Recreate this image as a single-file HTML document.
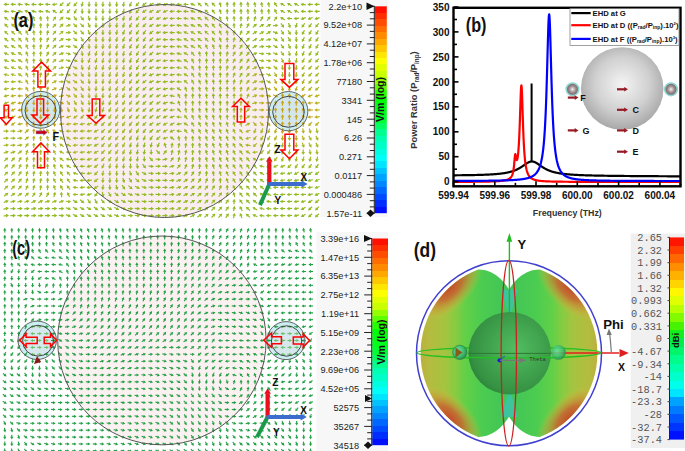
<!DOCTYPE html><html><head><meta charset="utf-8"><title>fig</title><style>html,body{margin:0;padding:0;background:#fff;width:685px;height:451px;overflow:hidden}svg{display:block}text{font-family:"Liberation Sans",sans-serif}.mono{font-family:"Liberation Mono",monospace}</style></head><body><svg width="685" height="451" viewBox="0 0 685 451"><defs><symbol id="ar" overflow="visible"><path d="M-2.7 0H0.3" stroke-width="1.2" fill="none"/><path d="M2.8 0L-0.2-1.8V1.8Z" stroke="none"/></symbol><symbol id="ac" overflow="visible"><path d="M-2.4 0H0" stroke-width="1.1" fill="none"/><path d="M2.3 0L-0.4-1.6V1.6Z" stroke="none"/></symbol><linearGradient id="cbA" x1="0" y1="0" x2="0" y2="1"><stop offset="0.0000" stop-color="#ff0f00"/><stop offset="0.0312" stop-color="#ff0f00"/><stop offset="0.0312" stop-color="#ff2e00"/><stop offset="0.0625" stop-color="#ff2e00"/><stop offset="0.0625" stop-color="#ff4d00"/><stop offset="0.0938" stop-color="#ff4d00"/><stop offset="0.0938" stop-color="#ff6c00"/><stop offset="0.1250" stop-color="#ff6c00"/><stop offset="0.1250" stop-color="#ff8a00"/><stop offset="0.1562" stop-color="#ff8a00"/><stop offset="0.1562" stop-color="#ffa900"/><stop offset="0.1875" stop-color="#ffa900"/><stop offset="0.1875" stop-color="#ffc700"/><stop offset="0.2188" stop-color="#ffc700"/><stop offset="0.2188" stop-color="#ffe600"/><stop offset="0.2500" stop-color="#ffe600"/><stop offset="0.2500" stop-color="#fbff00"/><stop offset="0.2812" stop-color="#fbff00"/><stop offset="0.2812" stop-color="#e2ff00"/><stop offset="0.3125" stop-color="#e2ff00"/><stop offset="0.3125" stop-color="#c9ff00"/><stop offset="0.3438" stop-color="#c9ff00"/><stop offset="0.3438" stop-color="#94ff00"/><stop offset="0.3750" stop-color="#94ff00"/><stop offset="0.3750" stop-color="#5eff00"/><stop offset="0.4062" stop-color="#5eff00"/><stop offset="0.4062" stop-color="#27ff00"/><stop offset="0.4375" stop-color="#27ff00"/><stop offset="0.4375" stop-color="#00ff04"/><stop offset="0.4688" stop-color="#00ff04"/><stop offset="0.4688" stop-color="#00ff11"/><stop offset="0.5000" stop-color="#00ff11"/><stop offset="0.5000" stop-color="#00ff1e"/><stop offset="0.5312" stop-color="#00ff1e"/><stop offset="0.5312" stop-color="#00ff32"/><stop offset="0.5625" stop-color="#00ff32"/><stop offset="0.5625" stop-color="#00ff61"/><stop offset="0.5938" stop-color="#00ff61"/><stop offset="0.5938" stop-color="#00ff90"/><stop offset="0.6250" stop-color="#00ff90"/><stop offset="0.6250" stop-color="#00ffb0"/><stop offset="0.6562" stop-color="#00ffb0"/><stop offset="0.6562" stop-color="#00ffc8"/><stop offset="0.6875" stop-color="#00ffc8"/><stop offset="0.6875" stop-color="#00ffe0"/><stop offset="0.7188" stop-color="#00ffe0"/><stop offset="0.7188" stop-color="#00fff8"/><stop offset="0.7500" stop-color="#00fff8"/><stop offset="0.7500" stop-color="#00e5ff"/><stop offset="0.7812" stop-color="#00e5ff"/><stop offset="0.7812" stop-color="#00c2ff"/><stop offset="0.8125" stop-color="#00c2ff"/><stop offset="0.8125" stop-color="#00a3ff"/><stop offset="0.8438" stop-color="#00a3ff"/><stop offset="0.8438" stop-color="#0086ff"/><stop offset="0.8750" stop-color="#0086ff"/><stop offset="0.8750" stop-color="#0068ff"/><stop offset="0.9062" stop-color="#0068ff"/><stop offset="0.9062" stop-color="#004aff"/><stop offset="0.9375" stop-color="#004aff"/><stop offset="0.9375" stop-color="#002dff"/><stop offset="0.9688" stop-color="#002dff"/><stop offset="0.9688" stop-color="#000fff"/><stop offset="1.0000" stop-color="#000fff"/></linearGradient><linearGradient id="cbD" x1="0" y1="0" x2="0" y2="1"><stop offset="0.0000" stop-color="#ff1500"/><stop offset="0.0417" stop-color="#ff1500"/><stop offset="0.0417" stop-color="#ff3e00"/><stop offset="0.0833" stop-color="#ff3e00"/><stop offset="0.0833" stop-color="#ff6700"/><stop offset="0.1250" stop-color="#ff6700"/><stop offset="0.1250" stop-color="#ff8d00"/><stop offset="0.1667" stop-color="#ff8d00"/><stop offset="0.1667" stop-color="#ffb100"/><stop offset="0.2083" stop-color="#ffb100"/><stop offset="0.2083" stop-color="#ffd400"/><stop offset="0.2500" stop-color="#ffd400"/><stop offset="0.2500" stop-color="#fff700"/><stop offset="0.2917" stop-color="#fff700"/><stop offset="0.2917" stop-color="#e1ff00"/><stop offset="0.3333" stop-color="#e1ff00"/><stop offset="0.3333" stop-color="#b9ff00"/><stop offset="0.3750" stop-color="#b9ff00"/><stop offset="0.3750" stop-color="#82fa00"/><stop offset="0.4167" stop-color="#82fa00"/><stop offset="0.4167" stop-color="#47f300"/><stop offset="0.4583" stop-color="#47f300"/><stop offset="0.4583" stop-color="#15ee1d"/><stop offset="0.5000" stop-color="#15ee1d"/><stop offset="0.5000" stop-color="#00ee4c"/><stop offset="0.5417" stop-color="#00ee4c"/><stop offset="0.5417" stop-color="#00f56b"/><stop offset="0.5833" stop-color="#00f56b"/><stop offset="0.5833" stop-color="#00fc8a"/><stop offset="0.6250" stop-color="#00fc8a"/><stop offset="0.6250" stop-color="#00ffaa"/><stop offset="0.6667" stop-color="#00ffaa"/><stop offset="0.6667" stop-color="#00ffca"/><stop offset="0.7083" stop-color="#00ffca"/><stop offset="0.7083" stop-color="#00ffeb"/><stop offset="0.7500" stop-color="#00ffeb"/><stop offset="0.7500" stop-color="#00e5ff"/><stop offset="0.7917" stop-color="#00e5ff"/><stop offset="0.7917" stop-color="#00a2ff"/><stop offset="0.8333" stop-color="#00a2ff"/><stop offset="0.8333" stop-color="#007aff"/><stop offset="0.8750" stop-color="#007aff"/><stop offset="0.8750" stop-color="#0057ff"/><stop offset="0.9167" stop-color="#0057ff"/><stop offset="0.9167" stop-color="#0034ff"/><stop offset="0.9583" stop-color="#0034ff"/><stop offset="0.9583" stop-color="#0011ff"/><stop offset="1.0000" stop-color="#0011ff"/></linearGradient><radialGradient id="sph" cx="0.5" cy="0.45" r="0.55"><stop offset="0" stop-color="#f4f4f4"/><stop offset="0.6" stop-color="#d0d0d0"/><stop offset="1" stop-color="#a8a8a8"/></radialGradient><radialGradient id="sm" cx="0.5" cy="0.5" r="0.5"><stop offset="0" stop-color="#f0f0f0"/><stop offset="0.5" stop-color="#a09090"/><stop offset="1" stop-color="#6a5a5a"/></radialGradient><radialGradient id="gs" cx="0.58" cy="0.45" r="0.62"><stop offset="0" stop-color="#52be62"/><stop offset="0.45" stop-color="#43a650"/><stop offset="0.85" stop-color="#359243"/><stop offset="1" stop-color="#2c8239"/></radialGradient></defs><rect x="320.5" y="0" width="67.5" height="217" fill="#f7f7f7"/><ellipse cx="164.5" cy="111.0" rx="104.0" ry="106.5" fill="#faedf0"/><ellipse cx="40.7" cy="109.8" rx="19.1" ry="18.4" fill="#cbeef3"/><ellipse cx="40.5" cy="110.5" rx="15.5" ry="14.9" fill="#d3e6ec"/><ellipse cx="288.5" cy="111.2" rx="19.35" ry="19.65" fill="#cbeef3"/><ellipse cx="288.5" cy="111.8" rx="15.8" ry="15.5" fill="#d3e6ec"/><g fill="#92ba20" stroke="#92ba20"><use href="#ar" transform="translate(6.2 4.4)rotate(-179)"/><use href="#ar" transform="translate(13.1 4.4)rotate(-179)"/><use href="#ar" transform="translate(20 4.4)rotate(-173)"/><use href="#ar" transform="translate(26.9 4.4)rotate(-169)"/><use href="#ar" transform="translate(33.8 4.4)rotate(-177)"/><use href="#ar" transform="translate(40.7 4.4)rotate(-180)"/><use href="#ar" transform="translate(47.6 4.4)rotate(-178)"/><use href="#ar" transform="translate(54.5 4.4)rotate(168)"/><use href="#ar" transform="translate(61.5 4.4)rotate(136)"/><use href="#ar" transform="translate(68.4 4.4)rotate(135)"/><use href="#ar" transform="translate(75.3 4.4)rotate(131)"/><use href="#ar" transform="translate(82.2 4.4)rotate(105)"/><use href="#ar" transform="translate(89.1 4.4)rotate(91)"/><use href="#ar" transform="translate(96 4.4)rotate(90)"/><use href="#ar" transform="translate(102.9 4.4)rotate(90)"/><use href="#ar" transform="translate(109.8 4.4)rotate(90)"/><use href="#ar" transform="translate(116.7 4.4)rotate(91)"/><use href="#ar" transform="translate(123.6 4.4)rotate(98)"/><use href="#ar" transform="translate(130.5 4.4)rotate(112)"/><use href="#ar" transform="translate(137.4 4.4)rotate(130)"/><use href="#ar" transform="translate(144.3 4.4)rotate(145)"/><use href="#ar" transform="translate(151.2 4.4)rotate(150)"/><use href="#ar" transform="translate(158.2 4.4)rotate(150)"/><use href="#ar" transform="translate(165.1 4.4)rotate(153)"/><use href="#ar" transform="translate(172 4.4)rotate(173)"/><use href="#ar" transform="translate(178.9 4.4)rotate(180)"/><use href="#ar" transform="translate(185.8 4.4)rotate(-178)"/><use href="#ar" transform="translate(192.7 4.4)rotate(-158)"/><use href="#ar" transform="translate(199.6 4.4)rotate(-137)"/><use href="#ar" transform="translate(206.5 4.4)rotate(-135)"/><use href="#ar" transform="translate(213.4 4.4)rotate(-130)"/><use href="#ar" transform="translate(220.3 4.4)rotate(-103)"/><use href="#ar" transform="translate(227.2 4.4)rotate(-91)"/><use href="#ar" transform="translate(234.1 4.4)rotate(-91)"/><use href="#ar" transform="translate(241 4.4)rotate(-94)"/><use href="#ar" transform="translate(247.9 4.4)rotate(-97)"/><use href="#ar" transform="translate(254.9 4.4)rotate(-100)"/><use href="#ar" transform="translate(261.8 4.4)rotate(-100)"/><use href="#ar" transform="translate(268.7 4.4)rotate(-102)"/><use href="#ar" transform="translate(275.6 4.4)rotate(-125)"/><use href="#ar" transform="translate(282.5 4.4)rotate(-148)"/><use href="#ar" transform="translate(289.4 4.4)rotate(-150)"/><use href="#ar" transform="translate(296.3 4.4)rotate(-152)"/><use href="#ar" transform="translate(303.2 4.4)rotate(-170)"/><use href="#ar" transform="translate(310.1 4.4)rotate(-180)"/><use href="#ar" transform="translate(317 4.4)rotate(180)"/><use href="#ar" transform="translate(6.2 11.4)rotate(-171)"/><use href="#ar" transform="translate(13.1 11.4)rotate(-172)"/><use href="#ar" transform="translate(20 11.4)rotate(-163)"/><use href="#ar" transform="translate(26.9 11.4)rotate(-156)"/><use href="#ar" transform="translate(33.8 11.4)rotate(-163)"/><use href="#ar" transform="translate(40.7 11.4)rotate(-170)"/><use href="#ar" transform="translate(47.6 11.4)rotate(-159)"/><use href="#ar" transform="translate(54.5 11.4)rotate(-143)"/><use href="#ar" transform="translate(61.5 11.4)rotate(134)"/><use href="#ar" transform="translate(68.4 11.4)rotate(129)"/><use href="#ar" transform="translate(75.3 11.4)rotate(116)"/><use href="#ar" transform="translate(82.2 11.4)rotate(89)"/><use href="#ar" transform="translate(89.1 11.4)rotate(88)"/><use href="#ar" transform="translate(96 11.4)rotate(90)"/><use href="#ar" transform="translate(102.9 11.4)rotate(90)"/><use href="#ar" transform="translate(109.8 11.4)rotate(91)"/><use href="#ar" transform="translate(116.7 11.4)rotate(93)"/><use href="#ar" transform="translate(123.6 11.4)rotate(100)"/><use href="#ar" transform="translate(130.5 11.4)rotate(113)"/><use href="#ar" transform="translate(137.4 11.4)rotate(129)"/><use href="#ar" transform="translate(144.3 11.4)rotate(143)"/><use href="#ar" transform="translate(151.2 11.4)rotate(150)"/><use href="#ar" transform="translate(158.2 11.4)rotate(153)"/><use href="#ar" transform="translate(165.1 11.4)rotate(158)"/><use href="#ar" transform="translate(172 11.4)rotate(172)"/><use href="#ar" transform="translate(178.9 11.4)rotate(180)"/><use href="#ar" transform="translate(185.8 11.4)rotate(-175)"/><use href="#ar" transform="translate(192.7 11.4)rotate(-158)"/><use href="#ar" transform="translate(199.6 11.4)rotate(-141)"/><use href="#ar" transform="translate(206.5 11.4)rotate(-136)"/><use href="#ar" transform="translate(213.4 11.4)rotate(-127)"/><use href="#ar" transform="translate(220.3 11.4)rotate(-105)"/><use href="#ar" transform="translate(227.2 11.4)rotate(-93)"/><use href="#ar" transform="translate(234.1 11.4)rotate(-92)"/><use href="#ar" transform="translate(241 11.4)rotate(-93)"/><use href="#ar" transform="translate(247.9 11.4)rotate(-94)"/><use href="#ar" transform="translate(254.9 11.4)rotate(-96)"/><use href="#ar" transform="translate(261.8 11.4)rotate(-97)"/><use href="#ar" transform="translate(268.7 11.4)rotate(-95)"/><use href="#ar" transform="translate(275.6 11.4)rotate(-115)"/><use href="#ar" transform="translate(282.5 11.4)rotate(-147)"/><use href="#ar" transform="translate(289.4 11.4)rotate(-151)"/><use href="#ar" transform="translate(296.3 11.4)rotate(-157)"/><use href="#ar" transform="translate(303.2 11.4)rotate(-175)"/><use href="#ar" transform="translate(310.1 11.4)rotate(178)"/><use href="#ar" transform="translate(317 11.4)rotate(178)"/><use href="#ar" transform="translate(6.2 18.5)rotate(-143)"/><use href="#ar" transform="translate(13.1 18.5)rotate(-142)"/><use href="#ar" transform="translate(68.4 18.5)rotate(15)"/><use href="#ar" transform="translate(75.3 18.5)rotate(55)"/><use href="#ar" transform="translate(82.2 18.5)rotate(55)"/><use href="#ar" transform="translate(89.1 18.5)rotate(75)"/><use href="#ar" transform="translate(96 18.5)rotate(88)"/><use href="#ar" transform="translate(102.9 18.5)rotate(90)"/><use href="#ar" transform="translate(109.8 18.5)rotate(92)"/><use href="#ar" transform="translate(116.7 18.5)rotate(96)"/><use href="#ar" transform="translate(123.6 18.5)rotate(104)"/><use href="#ar" transform="translate(130.5 18.5)rotate(115)"/><use href="#ar" transform="translate(137.4 18.5)rotate(127)"/><use href="#ar" transform="translate(144.3 18.5)rotate(138)"/><use href="#ar" transform="translate(151.2 18.5)rotate(149)"/><use href="#ar" transform="translate(158.2 18.5)rotate(157)"/><use href="#ar" transform="translate(165.1 18.5)rotate(165)"/><use href="#ar" transform="translate(172 18.5)rotate(175)"/><use href="#ar" transform="translate(178.9 18.5)rotate(-177)"/><use href="#ar" transform="translate(185.8 18.5)rotate(-169)"/><use href="#ar" transform="translate(192.7 18.5)rotate(-158)"/><use href="#ar" transform="translate(199.6 18.5)rotate(-146)"/><use href="#ar" transform="translate(206.5 18.5)rotate(-137)"/><use href="#ar" transform="translate(213.4 18.5)rotate(-127)"/><use href="#ar" transform="translate(220.3 18.5)rotate(-111)"/><use href="#ar" transform="translate(227.2 18.5)rotate(-99)"/><use href="#ar" transform="translate(234.1 18.5)rotate(-94)"/><use href="#ar" transform="translate(241 18.5)rotate(-89)"/><use href="#ar" transform="translate(247.9 18.5)rotate(-82)"/><use href="#ar" transform="translate(254.9 18.5)rotate(-73)"/><use href="#ar" transform="translate(261.8 18.5)rotate(-61)"/><use href="#ar" transform="translate(268.7 18.5)rotate(-53)"/><use href="#ar" transform="translate(275.6 18.5)rotate(-56)"/><use href="#ar" transform="translate(282.5 18.5)rotate(-152)"/><use href="#ar" transform="translate(289.4 18.5)rotate(-176)"/><use href="#ar" transform="translate(296.3 18.5)rotate(173)"/><use href="#ar" transform="translate(303.2 18.5)rotate(160)"/><use href="#ar" transform="translate(310.1 18.5)rotate(159)"/><use href="#ar" transform="translate(317 18.5)rotate(162)"/><use href="#ar" transform="translate(89.1 25.5)rotate(67)"/><use href="#ar" transform="translate(96 25.5)rotate(89)"/><use href="#ar" transform="translate(102.9 25.5)rotate(90)"/><use href="#ar" transform="translate(109.8 25.5)rotate(92)"/><use href="#ar" transform="translate(116.7 25.5)rotate(98)"/><use href="#ar" transform="translate(123.6 25.5)rotate(108)"/><use href="#ar" transform="translate(130.5 25.5)rotate(117)"/><use href="#ar" transform="translate(137.4 25.5)rotate(124)"/><use href="#ar" transform="translate(144.3 25.5)rotate(132)"/><use href="#ar" transform="translate(151.2 25.5)rotate(145)"/><use href="#ar" transform="translate(158.2 25.5)rotate(160)"/><use href="#ar" transform="translate(165.1 25.5)rotate(172)"/><use href="#ar" transform="translate(172 25.5)rotate(179)"/><use href="#ar" transform="translate(178.9 25.5)rotate(-172)"/><use href="#ar" transform="translate(185.8 25.5)rotate(-162)"/><use href="#ar" transform="translate(192.7 25.5)rotate(-155)"/><use href="#ar" transform="translate(199.6 25.5)rotate(-148)"/><use href="#ar" transform="translate(206.5 25.5)rotate(-140)"/><use href="#ar" transform="translate(213.4 25.5)rotate(-128)"/><use href="#ar" transform="translate(220.3 25.5)rotate(-115)"/><use href="#ar" transform="translate(227.2 25.5)rotate(-103)"/><use href="#ar" transform="translate(234.1 25.5)rotate(-93)"/><use href="#ar" transform="translate(241 25.5)rotate(-80)"/><use href="#ar" transform="translate(247.9 25.5)rotate(-62)"/><use href="#ar" transform="translate(254.9 25.5)rotate(-42)"/><use href="#ar" transform="translate(261.8 25.5)rotate(-32)"/><use href="#ar" transform="translate(268.7 25.5)rotate(-30)"/><use href="#ar" transform="translate(275.6 25.5)rotate(-4)"/><use href="#ar" transform="translate(282.5 25.5)rotate(54)"/><use href="#ar" transform="translate(289.4 25.5)rotate(70)"/><use href="#ar" transform="translate(296.3 25.5)rotate(105)"/><use href="#ar" transform="translate(303.2 25.5)rotate(124)"/><use href="#ar" transform="translate(310.1 25.5)rotate(126)"/><use href="#ar" transform="translate(317 25.5)rotate(131)"/><use href="#ar" transform="translate(96 32.6)rotate(86)"/><use href="#ar" transform="translate(102.9 32.6)rotate(90)"/><use href="#ar" transform="translate(109.8 32.6)rotate(93)"/><use href="#ar" transform="translate(116.7 32.6)rotate(101)"/><use href="#ar" transform="translate(123.6 32.6)rotate(111)"/><use href="#ar" transform="translate(130.5 32.6)rotate(119)"/><use href="#ar" transform="translate(137.4 32.6)rotate(121)"/><use href="#ar" transform="translate(144.3 32.6)rotate(124)"/><use href="#ar" transform="translate(151.2 32.6)rotate(139)"/><use href="#ar" transform="translate(158.2 32.6)rotate(164)"/><use href="#ar" transform="translate(165.1 32.6)rotate(177)"/><use href="#ar" transform="translate(172 32.6)rotate(-179)"/><use href="#ar" transform="translate(178.9 32.6)rotate(-169)"/><use href="#ar" transform="translate(185.8 32.6)rotate(-155)"/><use href="#ar" transform="translate(192.7 32.6)rotate(-151)"/><use href="#ar" transform="translate(199.6 32.6)rotate(-148)"/><use href="#ar" transform="translate(206.5 32.6)rotate(-139)"/><use href="#ar" transform="translate(213.4 32.6)rotate(-128)"/><use href="#ar" transform="translate(220.3 32.6)rotate(-114)"/><use href="#ar" transform="translate(227.2 32.6)rotate(-100)"/><use href="#ar" transform="translate(234.1 32.6)rotate(-86)"/><use href="#ar" transform="translate(241 32.6)rotate(-69)"/><use href="#ar" transform="translate(247.9 32.6)rotate(-49)"/><use href="#ar" transform="translate(254.9 32.6)rotate(-34)"/><use href="#ar" transform="translate(261.8 32.6)rotate(-30)"/><use href="#ar" transform="translate(268.7 32.6)rotate(-28)"/><use href="#ar" transform="translate(275.6 32.6)rotate(22)"/><use href="#ar" transform="translate(282.5 32.6)rotate(59)"/><use href="#ar" transform="translate(289.4 32.6)rotate(61)"/><use href="#ar" transform="translate(296.3 32.6)rotate(87)"/><use href="#ar" transform="translate(303.2 32.6)rotate(118)"/><use href="#ar" transform="translate(310.1 32.6)rotate(120)"/><use href="#ar" transform="translate(317 32.6)rotate(122)"/><use href="#ar" transform="translate(109.8 39.6)rotate(97)"/><use href="#ar" transform="translate(116.7 39.6)rotate(104)"/><use href="#ar" transform="translate(123.6 39.6)rotate(112)"/><use href="#ar" transform="translate(130.5 39.6)rotate(119)"/><use href="#ar" transform="translate(137.4 39.6)rotate(120)"/><use href="#ar" transform="translate(144.3 39.6)rotate(121)"/><use href="#ar" transform="translate(151.2 39.6)rotate(135)"/><use href="#ar" transform="translate(158.2 39.6)rotate(166)"/><use href="#ar" transform="translate(165.1 39.6)rotate(179)"/><use href="#ar" transform="translate(172 39.6)rotate(-180)"/><use href="#ar" transform="translate(178.9 39.6)rotate(-170)"/><use href="#ar" transform="translate(185.8 39.6)rotate(-151)"/><use href="#ar" transform="translate(192.7 39.6)rotate(-150)"/><use href="#ar" transform="translate(199.6 39.6)rotate(-146)"/><use href="#ar" transform="translate(206.5 39.6)rotate(-133)"/><use href="#ar" transform="translate(213.4 39.6)rotate(-121)"/><use href="#ar" transform="translate(220.3 39.6)rotate(-109)"/><use href="#ar" transform="translate(227.2 39.6)rotate(-93)"/><use href="#ar" transform="translate(234.1 39.6)rotate(-76)"/><use href="#ar" transform="translate(241 39.6)rotate(-61)"/><use href="#ar" transform="translate(247.9 39.6)rotate(-45)"/><use href="#ar" transform="translate(254.9 39.6)rotate(-32)"/><use href="#ar" transform="translate(261.8 39.6)rotate(-25)"/><use href="#ar" transform="translate(268.7 39.6)rotate(-14)"/><use href="#ar" transform="translate(275.6 39.6)rotate(34)"/><use href="#ar" transform="translate(282.5 39.6)rotate(59)"/><use href="#ar" transform="translate(289.4 39.6)rotate(62)"/><use href="#ar" transform="translate(296.3 39.6)rotate(86)"/><use href="#ar" transform="translate(303.2 39.6)rotate(116)"/><use href="#ar" transform="translate(310.1 39.6)rotate(120)"/><use href="#ar" transform="translate(317 39.6)rotate(121)"/><use href="#ar" transform="translate(116.7 46.6)rotate(104)"/><use href="#ar" transform="translate(123.6 46.6)rotate(108)"/><use href="#ar" transform="translate(130.5 46.6)rotate(116)"/><use href="#ar" transform="translate(137.4 46.6)rotate(121)"/><use href="#ar" transform="translate(144.3 46.6)rotate(123)"/><use href="#ar" transform="translate(151.2 46.6)rotate(137)"/><use href="#ar" transform="translate(158.2 46.6)rotate(164)"/><use href="#ar" transform="translate(165.1 46.6)rotate(178)"/><use href="#ar" transform="translate(172 46.6)rotate(-179)"/><use href="#ar" transform="translate(178.9 46.6)rotate(-168)"/><use href="#ar" transform="translate(185.8 46.6)rotate(-152)"/><use href="#ar" transform="translate(192.7 46.6)rotate(-148)"/><use href="#ar" transform="translate(199.6 46.6)rotate(-133)"/><use href="#ar" transform="translate(206.5 46.6)rotate(-114)"/><use href="#ar" transform="translate(213.4 46.6)rotate(-107)"/><use href="#ar" transform="translate(220.3 46.6)rotate(-100)"/><use href="#ar" transform="translate(227.2 46.6)rotate(-85)"/><use href="#ar" transform="translate(234.1 46.6)rotate(-68)"/><use href="#ar" transform="translate(241 46.6)rotate(-58)"/><use href="#ar" transform="translate(247.9 46.6)rotate(-48)"/><use href="#ar" transform="translate(254.9 46.6)rotate(-28)"/><use href="#ar" transform="translate(261.8 46.6)rotate(-9)"/><use href="#ar" transform="translate(268.7 46.6)rotate(4)"/><use href="#ar" transform="translate(275.6 46.6)rotate(29)"/><use href="#ar" transform="translate(282.5 46.6)rotate(54)"/><use href="#ar" transform="translate(289.4 46.6)rotate(68)"/><use href="#ar" transform="translate(296.3 46.6)rotate(90)"/><use href="#ar" transform="translate(303.2 46.6)rotate(111)"/><use href="#ar" transform="translate(310.1 46.6)rotate(118)"/><use href="#ar" transform="translate(317 46.6)rotate(121)"/><use href="#ar" transform="translate(123.6 53.7)rotate(102)"/><use href="#ar" transform="translate(130.5 53.7)rotate(110)"/><use href="#ar" transform="translate(137.4 53.7)rotate(120)"/><use href="#ar" transform="translate(144.3 53.7)rotate(128)"/><use href="#ar" transform="translate(151.2 53.7)rotate(142)"/><use href="#ar" transform="translate(158.2 53.7)rotate(161)"/><use href="#ar" transform="translate(165.1 53.7)rotate(175)"/><use href="#ar" transform="translate(172 53.7)rotate(-177)"/><use href="#ar" transform="translate(178.9 53.7)rotate(-166)"/><use href="#ar" transform="translate(185.8 53.7)rotate(-150)"/><use href="#ar" transform="translate(192.7 53.7)rotate(-129)"/><use href="#ar" transform="translate(199.6 53.7)rotate(-102)"/><use href="#ar" transform="translate(206.5 53.7)rotate(-94)"/><use href="#ar" transform="translate(213.4 53.7)rotate(-96)"/><use href="#ar" transform="translate(220.3 53.7)rotate(-94)"/><use href="#ar" transform="translate(227.2 53.7)rotate(-79)"/><use href="#ar" transform="translate(234.1 53.7)rotate(-64)"/><use href="#ar" transform="translate(241 53.7)rotate(-59)"/><use href="#ar" transform="translate(247.9 53.7)rotate(-55)"/><use href="#ar" transform="translate(254.9 53.7)rotate(-26)"/><use href="#ar" transform="translate(261.8 53.7)rotate(5)"/><use href="#ar" transform="translate(268.7 53.7)rotate(9)"/><use href="#ar" transform="translate(310.1 53.7)rotate(121)"/><use href="#ar" transform="translate(317 53.7)rotate(124)"/><use href="#ar" transform="translate(123.6 60.7)rotate(101)"/><use href="#ar" transform="translate(130.5 60.7)rotate(107)"/><use href="#ar" transform="translate(137.4 60.7)rotate(119)"/><use href="#ar" transform="translate(144.3 60.7)rotate(132)"/><use href="#ar" transform="translate(151.2 60.7)rotate(147)"/><use href="#ar" transform="translate(158.2 60.7)rotate(161)"/><use href="#ar" transform="translate(165.1 60.7)rotate(171)"/><use href="#ar" transform="translate(172 60.7)rotate(-179)"/><use href="#ar" transform="translate(178.9 60.7)rotate(-165)"/><use href="#ar" transform="translate(185.8 60.7)rotate(-143)"/><use href="#ar" transform="translate(192.7 60.7)rotate(-113)"/><use href="#ar" transform="translate(199.6 60.7)rotate(-93)"/><use href="#ar" transform="translate(206.5 60.7)rotate(-90)"/><use href="#ar" transform="translate(213.4 60.7)rotate(-93)"/><use href="#ar" transform="translate(220.3 60.7)rotate(-91)"/><use href="#ar" transform="translate(227.2 60.7)rotate(-77)"/><use href="#ar" transform="translate(234.1 60.7)rotate(-62)"/><use href="#ar" transform="translate(241 60.7)rotate(-60)"/><use href="#ar" transform="translate(247.9 60.7)rotate(-59)"/><use href="#ar" transform="translate(254.9 60.7)rotate(-26)"/><use href="#ar" transform="translate(130.5 67.8)rotate(110)"/><use href="#ar" transform="translate(137.4 67.8)rotate(122)"/><use href="#ar" transform="translate(144.3 67.8)rotate(137)"/><use href="#ar" transform="translate(151.2 67.8)rotate(153)"/><use href="#ar" transform="translate(158.2 67.8)rotate(164)"/><use href="#ar" transform="translate(165.1 67.8)rotate(170)"/><use href="#ar" transform="translate(172 67.8)rotate(176)"/><use href="#ar" transform="translate(178.9 67.8)rotate(-170)"/><use href="#ar" transform="translate(185.8 67.8)rotate(-144)"/><use href="#ar" transform="translate(192.7 67.8)rotate(-114)"/><use href="#ar" transform="translate(199.6 67.8)rotate(-97)"/><use href="#ar" transform="translate(206.5 67.8)rotate(-93)"/><use href="#ar" transform="translate(213.4 67.8)rotate(-94)"/><use href="#ar" transform="translate(220.3 67.8)rotate(-91)"/><use href="#ar" transform="translate(227.2 67.8)rotate(-78)"/><use href="#ar" transform="translate(234.1 67.8)rotate(-64)"/><use href="#ar" transform="translate(241 67.8)rotate(-59)"/><use href="#ar" transform="translate(130.5 74.8)rotate(116)"/><use href="#ar" transform="translate(137.4 74.8)rotate(127)"/><use href="#ar" transform="translate(144.3 74.8)rotate(141)"/><use href="#ar" transform="translate(151.2 74.8)rotate(157)"/><use href="#ar" transform="translate(158.2 74.8)rotate(167)"/><use href="#ar" transform="translate(165.1 74.8)rotate(170)"/><use href="#ar" transform="translate(172 74.8)rotate(172)"/><use href="#ar" transform="translate(178.9 74.8)rotate(-175)"/><use href="#ar" transform="translate(185.8 74.8)rotate(-147)"/><use href="#ar" transform="translate(192.7 74.8)rotate(-121)"/><use href="#ar" transform="translate(199.6 74.8)rotate(-106)"/><use href="#ar" transform="translate(206.5 74.8)rotate(-100)"/><use href="#ar" transform="translate(213.4 74.8)rotate(-97)"/><use href="#ar" transform="translate(220.3 74.8)rotate(-92)"/><use href="#ar" transform="translate(227.2 74.8)rotate(-82)"/><use href="#ar" transform="translate(234.1 74.8)rotate(-70)"/><use href="#ar" transform="translate(241 74.8)rotate(-60)"/><use href="#ar" transform="translate(137.4 81.8)rotate(130)"/><use href="#ar" transform="translate(144.3 81.8)rotate(141)"/><use href="#ar" transform="translate(151.2 81.8)rotate(155)"/><use href="#ar" transform="translate(158.2 81.8)rotate(168)"/><use href="#ar" transform="translate(165.1 81.8)rotate(170)"/><use href="#ar" transform="translate(172 81.8)rotate(172)"/><use href="#ar" transform="translate(178.9 81.8)rotate(-172)"/><use href="#ar" transform="translate(185.8 81.8)rotate(-137)"/><use href="#ar" transform="translate(192.7 81.8)rotate(-117)"/><use href="#ar" transform="translate(199.6 81.8)rotate(-109)"/><use href="#ar" transform="translate(206.5 81.8)rotate(-103)"/><use href="#ar" transform="translate(213.4 81.8)rotate(-99)"/><use href="#ar" transform="translate(220.3 81.8)rotate(-93)"/><use href="#ar" transform="translate(227.2 81.8)rotate(-87)"/><use href="#ar" transform="translate(234.1 81.8)rotate(-80)"/><use href="#ar" transform="translate(137.4 88.9)rotate(131)"/><use href="#ar" transform="translate(144.3 88.9)rotate(137)"/><use href="#ar" transform="translate(151.2 88.9)rotate(146)"/><use href="#ar" transform="translate(158.2 88.9)rotate(161)"/><use href="#ar" transform="translate(165.1 88.9)rotate(169)"/><use href="#ar" transform="translate(172 88.9)rotate(177)"/><use href="#ar" transform="translate(178.9 88.9)rotate(-147)"/><use href="#ar" transform="translate(185.8 88.9)rotate(-109)"/><use href="#ar" transform="translate(192.7 88.9)rotate(-101)"/><use href="#ar" transform="translate(199.6 88.9)rotate(-102)"/><use href="#ar" transform="translate(206.5 88.9)rotate(-102)"/><use href="#ar" transform="translate(213.4 88.9)rotate(-98)"/><use href="#ar" transform="translate(220.3 88.9)rotate(-93)"/><use href="#ar" transform="translate(227.2 88.9)rotate(-90)"/><use href="#ar" transform="translate(137.4 95.9)rotate(133)"/><use href="#ar" transform="translate(144.3 95.9)rotate(135)"/><use href="#ar" transform="translate(151.2 95.9)rotate(138)"/><use href="#ar" transform="translate(158.2 95.9)rotate(149)"/><use href="#ar" transform="translate(165.1 95.9)rotate(165)"/><use href="#ar" transform="translate(172 95.9)rotate(-169)"/><use href="#ar" transform="translate(178.9 95.9)rotate(-115)"/><use href="#ar" transform="translate(185.8 95.9)rotate(-93)"/><use href="#ar" transform="translate(192.7 95.9)rotate(-91)"/><use href="#ar" transform="translate(199.6 95.9)rotate(-95)"/><use href="#ar" transform="translate(206.5 95.9)rotate(-99)"/><use href="#ar" transform="translate(213.4 95.9)rotate(-96)"/><use href="#ar" transform="translate(220.3 95.9)rotate(-92)"/><use href="#ar" transform="translate(227.2 95.9)rotate(-90)"/><use href="#ar" transform="translate(137.4 103)rotate(133)"/><use href="#ar" transform="translate(144.3 103)rotate(135)"/><use href="#ar" transform="translate(151.2 103)rotate(136)"/><use href="#ar" transform="translate(158.2 103)rotate(145)"/><use href="#ar" transform="translate(165.1 103)rotate(161)"/><use href="#ar" transform="translate(172 103)rotate(-166)"/><use href="#ar" transform="translate(178.9 103)rotate(-110)"/><use href="#ar" transform="translate(185.8 103)rotate(-92)"/><use href="#ar" transform="translate(192.7 103)rotate(-91)"/><use href="#ar" transform="translate(199.6 103)rotate(-95)"/><use href="#ar" transform="translate(206.5 103)rotate(-99)"/><use href="#ar" transform="translate(213.4 103)rotate(-96)"/><use href="#ar" transform="translate(220.3 103)rotate(-92)"/><use href="#ar" transform="translate(227.2 103)rotate(-90)"/><use href="#ar" transform="translate(137.4 110)rotate(131)"/><use href="#ar" transform="translate(144.3 110)rotate(135)"/><use href="#ar" transform="translate(151.2 110)rotate(139)"/><use href="#ar" transform="translate(158.2 110)rotate(147)"/><use href="#ar" transform="translate(165.1 110)rotate(156)"/><use href="#ar" transform="translate(172 110)rotate(175)"/><use href="#ar" transform="translate(178.9 110)rotate(-133)"/><use href="#ar" transform="translate(185.8 110)rotate(-102)"/><use href="#ar" transform="translate(192.7 110)rotate(-97)"/><use href="#ar" transform="translate(199.6 110)rotate(-99)"/><use href="#ar" transform="translate(206.5 110)rotate(-101)"/><use href="#ar" transform="translate(213.4 110)rotate(-99)"/><use href="#ar" transform="translate(220.3 110)rotate(-94)"/><use href="#ar" transform="translate(227.2 110)rotate(-91)"/><use href="#ar" transform="translate(137.4 117)rotate(130)"/><use href="#ar" transform="translate(144.3 117)rotate(136)"/><use href="#ar" transform="translate(151.2 117)rotate(142)"/><use href="#ar" transform="translate(158.2 117)rotate(149)"/><use href="#ar" transform="translate(165.1 117)rotate(151)"/><use href="#ar" transform="translate(172 117)rotate(157)"/><use href="#ar" transform="translate(178.9 117)rotate(-175)"/><use href="#ar" transform="translate(185.8 117)rotate(-128)"/><use href="#ar" transform="translate(192.7 117)rotate(-111)"/><use href="#ar" transform="translate(199.6 117)rotate(-107)"/><use href="#ar" transform="translate(206.5 117)rotate(-106)"/><use href="#ar" transform="translate(213.4 117)rotate(-103)"/><use href="#ar" transform="translate(220.3 117)rotate(-99)"/><use href="#ar" transform="translate(227.2 117)rotate(-96)"/><use href="#ar" transform="translate(137.4 124.1)rotate(127)"/><use href="#ar" transform="translate(144.3 124.1)rotate(134)"/><use href="#ar" transform="translate(151.2 124.1)rotate(143)"/><use href="#ar" transform="translate(158.2 124.1)rotate(150)"/><use href="#ar" transform="translate(165.1 124.1)rotate(150)"/><use href="#ar" transform="translate(172 124.1)rotate(152)"/><use href="#ar" transform="translate(178.9 124.1)rotate(170)"/><use href="#ar" transform="translate(185.8 124.1)rotate(-148)"/><use href="#ar" transform="translate(192.7 124.1)rotate(-121)"/><use href="#ar" transform="translate(199.6 124.1)rotate(-113)"/><use href="#ar" transform="translate(206.5 124.1)rotate(-110)"/><use href="#ar" transform="translate(213.4 124.1)rotate(-108)"/><use href="#ar" transform="translate(220.3 124.1)rotate(-106)"/><use href="#ar" transform="translate(227.2 124.1)rotate(-104)"/><use href="#ar" transform="translate(137.4 131.1)rotate(119)"/><use href="#ar" transform="translate(144.3 131.1)rotate(125)"/><use href="#ar" transform="translate(151.2 131.1)rotate(138)"/><use href="#ar" transform="translate(158.2 131.1)rotate(148)"/><use href="#ar" transform="translate(165.1 131.1)rotate(151)"/><use href="#ar" transform="translate(172 131.1)rotate(157)"/><use href="#ar" transform="translate(178.9 131.1)rotate(-171)"/><use href="#ar" transform="translate(185.8 131.1)rotate(-127)"/><use href="#ar" transform="translate(192.7 131.1)rotate(-114)"/><use href="#ar" transform="translate(199.6 131.1)rotate(-110)"/><use href="#ar" transform="translate(206.5 131.1)rotate(-110)"/><use href="#ar" transform="translate(213.4 131.1)rotate(-110)"/><use href="#ar" transform="translate(220.3 131.1)rotate(-110)"/><use href="#ar" transform="translate(227.2 131.1)rotate(-111)"/><use href="#ar" transform="translate(137.4 138.2)rotate(107)"/><use href="#ar" transform="translate(144.3 138.2)rotate(109)"/><use href="#ar" transform="translate(151.2 138.2)rotate(121)"/><use href="#ar" transform="translate(158.2 138.2)rotate(141)"/><use href="#ar" transform="translate(165.1 138.2)rotate(161)"/><use href="#ar" transform="translate(172 138.2)rotate(-145)"/><use href="#ar" transform="translate(178.9 138.2)rotate(-98)"/><use href="#ar" transform="translate(185.8 138.2)rotate(-93)"/><use href="#ar" transform="translate(192.7 138.2)rotate(-97)"/><use href="#ar" transform="translate(199.6 138.2)rotate(-104)"/><use href="#ar" transform="translate(206.5 138.2)rotate(-109)"/><use href="#ar" transform="translate(213.4 138.2)rotate(-110)"/><use href="#ar" transform="translate(220.3 138.2)rotate(-111)"/><use href="#ar" transform="translate(227.2 138.2)rotate(-112)"/><use href="#ar" transform="translate(234.1 138.2)rotate(-118)"/><use href="#ar" transform="translate(130.5 145.2)rotate(105)"/><use href="#ar" transform="translate(137.4 145.2)rotate(101)"/><use href="#ar" transform="translate(144.3 145.2)rotate(101)"/><use href="#ar" transform="translate(151.2 145.2)rotate(103)"/><use href="#ar" transform="translate(158.2 145.2)rotate(114)"/><use href="#ar" transform="translate(165.1 145.2)rotate(-110)"/><use href="#ar" transform="translate(172 145.2)rotate(-84)"/><use href="#ar" transform="translate(178.9 145.2)rotate(-81)"/><use href="#ar" transform="translate(185.8 145.2)rotate(-82)"/><use href="#ar" transform="translate(192.7 145.2)rotate(-88)"/><use href="#ar" transform="translate(199.6 145.2)rotate(-99)"/><use href="#ar" transform="translate(206.5 145.2)rotate(-108)"/><use href="#ar" transform="translate(213.4 145.2)rotate(-110)"/><use href="#ar" transform="translate(220.3 145.2)rotate(-110)"/><use href="#ar" transform="translate(227.2 145.2)rotate(-111)"/><use href="#ar" transform="translate(234.1 145.2)rotate(-117)"/><use href="#ar" transform="translate(130.5 152.2)rotate(102)"/><use href="#ar" transform="translate(137.4 152.2)rotate(100)"/><use href="#ar" transform="translate(144.3 152.2)rotate(99)"/><use href="#ar" transform="translate(151.2 152.2)rotate(91)"/><use href="#ar" transform="translate(158.2 152.2)rotate(47)"/><use href="#ar" transform="translate(165.1 152.2)rotate(-50)"/><use href="#ar" transform="translate(172 152.2)rotate(-77)"/><use href="#ar" transform="translate(178.9 152.2)rotate(-80)"/><use href="#ar" transform="translate(185.8 152.2)rotate(-80)"/><use href="#ar" transform="translate(192.7 152.2)rotate(-84)"/><use href="#ar" transform="translate(199.6 152.2)rotate(-96)"/><use href="#ar" transform="translate(206.5 152.2)rotate(-107)"/><use href="#ar" transform="translate(213.4 152.2)rotate(-110)"/><use href="#ar" transform="translate(220.3 152.2)rotate(-110)"/><use href="#ar" transform="translate(227.2 152.2)rotate(-111)"/><use href="#ar" transform="translate(234.1 152.2)rotate(-117)"/><use href="#ar" transform="translate(241 152.2)rotate(-128)"/><use href="#ar" transform="translate(123.6 159.3)rotate(105)"/><use href="#ar" transform="translate(130.5 159.3)rotate(99)"/><use href="#ar" transform="translate(137.4 159.3)rotate(97)"/><use href="#ar" transform="translate(144.3 159.3)rotate(90)"/><use href="#ar" transform="translate(151.2 159.3)rotate(48)"/><use href="#ar" transform="translate(158.2 159.3)rotate(7)"/><use href="#ar" transform="translate(165.1 159.3)rotate(-11)"/><use href="#ar" transform="translate(172 159.3)rotate(-55)"/><use href="#ar" transform="translate(178.9 159.3)rotate(-75)"/><use href="#ar" transform="translate(185.8 159.3)rotate(-78)"/><use href="#ar" transform="translate(192.7 159.3)rotate(-82)"/><use href="#ar" transform="translate(199.6 159.3)rotate(-93)"/><use href="#ar" transform="translate(206.5 159.3)rotate(-104)"/><use href="#ar" transform="translate(213.4 159.3)rotate(-109)"/><use href="#ar" transform="translate(220.3 159.3)rotate(-111)"/><use href="#ar" transform="translate(227.2 159.3)rotate(-113)"/><use href="#ar" transform="translate(234.1 159.3)rotate(-119)"/><use href="#ar" transform="translate(241 159.3)rotate(-124)"/><use href="#ar" transform="translate(247.9 159.3)rotate(-128)"/><use href="#ar" transform="translate(123.6 166.3)rotate(95)"/><use href="#ar" transform="translate(130.5 166.3)rotate(89)"/><use href="#ar" transform="translate(137.4 166.3)rotate(79)"/><use href="#ar" transform="translate(144.3 166.3)rotate(50)"/><use href="#ar" transform="translate(151.2 166.3)rotate(10)"/><use href="#ar" transform="translate(158.2 166.3)rotate(0)"/><use href="#ar" transform="translate(165.1 166.3)rotate(-1)"/><use href="#ar" transform="translate(172 166.3)rotate(-17)"/><use href="#ar" transform="translate(178.9 166.3)rotate(-50)"/><use href="#ar" transform="translate(185.8 166.3)rotate(-66)"/><use href="#ar" transform="translate(192.7 166.3)rotate(-75)"/><use href="#ar" transform="translate(199.6 166.3)rotate(-86)"/><use href="#ar" transform="translate(206.5 166.3)rotate(-98)"/><use href="#ar" transform="translate(213.4 166.3)rotate(-106)"/><use href="#ar" transform="translate(220.3 166.3)rotate(-111)"/><use href="#ar" transform="translate(227.2 166.3)rotate(-116)"/><use href="#ar" transform="translate(234.1 166.3)rotate(-121)"/><use href="#ar" transform="translate(241 166.3)rotate(-121)"/><use href="#ar" transform="translate(247.9 166.3)rotate(-121)"/><use href="#ar" transform="translate(254.9 166.3)rotate(-131)"/><use href="#ar" transform="translate(261.8 166.3)rotate(-164)"/><use href="#ar" transform="translate(317 166.3)rotate(124)"/><use href="#ar" transform="translate(116.7 173.4)rotate(90)"/><use href="#ar" transform="translate(123.6 173.4)rotate(86)"/><use href="#ar" transform="translate(130.5 173.4)rotate(74)"/><use href="#ar" transform="translate(137.4 173.4)rotate(56)"/><use href="#ar" transform="translate(144.3 173.4)rotate(26)"/><use href="#ar" transform="translate(151.2 173.4)rotate(5)"/><use href="#ar" transform="translate(158.2 173.4)rotate(0)"/><use href="#ar" transform="translate(165.1 173.4)rotate(0)"/><use href="#ar" transform="translate(172 173.4)rotate(-8)"/><use href="#ar" transform="translate(178.9 173.4)rotate(-27)"/><use href="#ar" transform="translate(185.8 173.4)rotate(-47)"/><use href="#ar" transform="translate(192.7 173.4)rotate(-61)"/><use href="#ar" transform="translate(199.6 173.4)rotate(-73)"/><use href="#ar" transform="translate(206.5 173.4)rotate(-86)"/><use href="#ar" transform="translate(213.4 173.4)rotate(-97)"/><use href="#ar" transform="translate(220.3 173.4)rotate(-106)"/><use href="#ar" transform="translate(227.2 173.4)rotate(-116)"/><use href="#ar" transform="translate(234.1 173.4)rotate(-121)"/><use href="#ar" transform="translate(241 173.4)rotate(-121)"/><use href="#ar" transform="translate(247.9 173.4)rotate(-121)"/><use href="#ar" transform="translate(254.9 173.4)rotate(-130)"/><use href="#ar" transform="translate(261.8 173.4)rotate(-152)"/><use href="#ar" transform="translate(268.7 173.4)rotate(177)"/><use href="#ar" transform="translate(275.6 173.4)rotate(163)"/><use href="#ar" transform="translate(282.5 173.4)rotate(167)"/><use href="#ar" transform="translate(289.4 173.4)rotate(163)"/><use href="#ar" transform="translate(296.3 173.4)rotate(151)"/><use href="#ar" transform="translate(303.2 173.4)rotate(149)"/><use href="#ar" transform="translate(310.1 173.4)rotate(147)"/><use href="#ar" transform="translate(317 173.4)rotate(143)"/><use href="#ar" transform="translate(109.8 180.4)rotate(90)"/><use href="#ar" transform="translate(116.7 180.4)rotate(88)"/><use href="#ar" transform="translate(123.6 180.4)rotate(77)"/><use href="#ar" transform="translate(130.5 180.4)rotate(59)"/><use href="#ar" transform="translate(137.4 180.4)rotate(40)"/><use href="#ar" transform="translate(144.3 180.4)rotate(21)"/><use href="#ar" transform="translate(151.2 180.4)rotate(7)"/><use href="#ar" transform="translate(158.2 180.4)rotate(2)"/><use href="#ar" transform="translate(165.1 180.4)rotate(-1)"/><use href="#ar" transform="translate(172 180.4)rotate(-8)"/><use href="#ar" transform="translate(178.9 180.4)rotate(-20)"/><use href="#ar" transform="translate(185.8 180.4)rotate(-35)"/><use href="#ar" transform="translate(192.7 180.4)rotate(-47)"/><use href="#ar" transform="translate(199.6 180.4)rotate(-58)"/><use href="#ar" transform="translate(206.5 180.4)rotate(-68)"/><use href="#ar" transform="translate(213.4 180.4)rotate(-79)"/><use href="#ar" transform="translate(220.3 180.4)rotate(-93)"/><use href="#ar" transform="translate(227.2 180.4)rotate(-110)"/><use href="#ar" transform="translate(234.1 180.4)rotate(-121)"/><use href="#ar" transform="translate(241 180.4)rotate(-125)"/><use href="#ar" transform="translate(247.9 180.4)rotate(-129)"/><use href="#ar" transform="translate(254.9 180.4)rotate(-135)"/><use href="#ar" transform="translate(261.8 180.4)rotate(-144)"/><use href="#ar" transform="translate(268.7 180.4)rotate(-167)"/><use href="#ar" transform="translate(275.6 180.4)rotate(172)"/><use href="#ar" transform="translate(282.5 180.4)rotate(166)"/><use href="#ar" transform="translate(289.4 180.4)rotate(165)"/><use href="#ar" transform="translate(296.3 180.4)rotate(169)"/><use href="#ar" transform="translate(303.2 180.4)rotate(170)"/><use href="#ar" transform="translate(310.1 180.4)rotate(164)"/><use href="#ar" transform="translate(317 180.4)rotate(156)"/><use href="#ar" transform="translate(102.9 187.4)rotate(95)"/><use href="#ar" transform="translate(109.8 187.4)rotate(87)"/><use href="#ar" transform="translate(116.7 187.4)rotate(77)"/><use href="#ar" transform="translate(123.6 187.4)rotate(57)"/><use href="#ar" transform="translate(130.5 187.4)rotate(40)"/><use href="#ar" transform="translate(137.4 187.4)rotate(27)"/><use href="#ar" transform="translate(144.3 187.4)rotate(17)"/><use href="#ar" transform="translate(151.2 187.4)rotate(8)"/><use href="#ar" transform="translate(158.2 187.4)rotate(2)"/><use href="#ar" transform="translate(165.1 187.4)rotate(-2)"/><use href="#ar" transform="translate(172 187.4)rotate(-9)"/><use href="#ar" transform="translate(178.9 187.4)rotate(-19)"/><use href="#ar" transform="translate(185.8 187.4)rotate(-30)"/><use href="#ar" transform="translate(192.7 187.4)rotate(-38)"/><use href="#ar" transform="translate(199.6 187.4)rotate(-46)"/><use href="#ar" transform="translate(206.5 187.4)rotate(-53)"/><use href="#ar" transform="translate(213.4 187.4)rotate(-59)"/><use href="#ar" transform="translate(220.3 187.4)rotate(-71)"/><use href="#ar" transform="translate(227.2 187.4)rotate(-93)"/><use href="#ar" transform="translate(234.1 187.4)rotate(-117)"/><use href="#ar" transform="translate(241 187.4)rotate(-129)"/><use href="#ar" transform="translate(247.9 187.4)rotate(-134)"/><use href="#ar" transform="translate(254.9 187.4)rotate(-135)"/><use href="#ar" transform="translate(261.8 187.4)rotate(-138)"/><use href="#ar" transform="translate(268.7 187.4)rotate(-157)"/><use href="#ar" transform="translate(275.6 187.4)rotate(-179)"/><use href="#ar" transform="translate(282.5 187.4)rotate(172)"/><use href="#ar" transform="translate(289.4 187.4)rotate(173)"/><use href="#ar" transform="translate(296.3 187.4)rotate(179)"/><use href="#ar" transform="translate(303.2 187.4)rotate(179)"/><use href="#ar" transform="translate(310.1 187.4)rotate(171)"/><use href="#ar" transform="translate(317 187.4)rotate(160)"/><use href="#ar" transform="translate(89.1 194.5)rotate(162)"/><use href="#ar" transform="translate(96 194.5)rotate(126)"/><use href="#ar" transform="translate(102.9 194.5)rotate(79)"/><use href="#ar" transform="translate(109.8 194.5)rotate(59)"/><use href="#ar" transform="translate(116.7 194.5)rotate(41)"/><use href="#ar" transform="translate(123.6 194.5)rotate(32)"/><use href="#ar" transform="translate(130.5 194.5)rotate(23)"/><use href="#ar" transform="translate(137.4 194.5)rotate(17)"/><use href="#ar" transform="translate(144.3 194.5)rotate(11)"/><use href="#ar" transform="translate(151.2 194.5)rotate(5)"/><use href="#ar" transform="translate(158.2 194.5)rotate(1)"/><use href="#ar" transform="translate(165.1 194.5)rotate(-3)"/><use href="#ar" transform="translate(172 194.5)rotate(-10)"/><use href="#ar" transform="translate(178.9 194.5)rotate(-20)"/><use href="#ar" transform="translate(185.8 194.5)rotate(-28)"/><use href="#ar" transform="translate(192.7 194.5)rotate(-33)"/><use href="#ar" transform="translate(199.6 194.5)rotate(-40)"/><use href="#ar" transform="translate(206.5 194.5)rotate(-46)"/><use href="#ar" transform="translate(213.4 194.5)rotate(-48)"/><use href="#ar" transform="translate(220.3 194.5)rotate(-53)"/><use href="#ar" transform="translate(227.2 194.5)rotate(-70)"/><use href="#ar" transform="translate(234.1 194.5)rotate(-105)"/><use href="#ar" transform="translate(241 194.5)rotate(-128)"/><use href="#ar" transform="translate(247.9 194.5)rotate(-135)"/><use href="#ar" transform="translate(254.9 194.5)rotate(-136)"/><use href="#ar" transform="translate(261.8 194.5)rotate(-140)"/><use href="#ar" transform="translate(268.7 194.5)rotate(-158)"/><use href="#ar" transform="translate(275.6 194.5)rotate(-176)"/><use href="#ar" transform="translate(282.5 194.5)rotate(177)"/><use href="#ar" transform="translate(289.4 194.5)rotate(175)"/><use href="#ar" transform="translate(296.3 194.5)rotate(178)"/><use href="#ar" transform="translate(303.2 194.5)rotate(177)"/><use href="#ar" transform="translate(310.1 194.5)rotate(166)"/><use href="#ar" transform="translate(317 194.5)rotate(153)"/><use href="#ar" transform="translate(6.2 201.5)rotate(-23)"/><use href="#ar" transform="translate(75.3 201.5)rotate(31)"/><use href="#ar" transform="translate(82.2 201.5)rotate(40)"/><use href="#ar" transform="translate(89.1 201.5)rotate(56)"/><use href="#ar" transform="translate(96 201.5)rotate(62)"/><use href="#ar" transform="translate(102.9 201.5)rotate(48)"/><use href="#ar" transform="translate(109.8 201.5)rotate(35)"/><use href="#ar" transform="translate(116.7 201.5)rotate(30)"/><use href="#ar" transform="translate(123.6 201.5)rotate(27)"/><use href="#ar" transform="translate(130.5 201.5)rotate(12)"/><use href="#ar" transform="translate(137.4 201.5)rotate(9)"/><use href="#ar" transform="translate(144.3 201.5)rotate(7)"/><use href="#ar" transform="translate(151.2 201.5)rotate(2)"/><use href="#ar" transform="translate(158.2 201.5)rotate(0)"/><use href="#ar" transform="translate(165.1 201.5)rotate(-2)"/><use href="#ar" transform="translate(172 201.5)rotate(-9)"/><use href="#ar" transform="translate(178.9 201.5)rotate(-22)"/><use href="#ar" transform="translate(185.8 201.5)rotate(-29)"/><use href="#ar" transform="translate(192.7 201.5)rotate(-31)"/><use href="#ar" transform="translate(199.6 201.5)rotate(-36)"/><use href="#ar" transform="translate(206.5 201.5)rotate(-44)"/><use href="#ar" transform="translate(213.4 201.5)rotate(-45)"/><use href="#ar" transform="translate(220.3 201.5)rotate(-46)"/><use href="#ar" transform="translate(227.2 201.5)rotate(-56)"/><use href="#ar" transform="translate(234.1 201.5)rotate(-89)"/><use href="#ar" transform="translate(241 201.5)rotate(-124)"/><use href="#ar" transform="translate(247.9 201.5)rotate(-136)"/><use href="#ar" transform="translate(254.9 201.5)rotate(-140)"/><use href="#ar" transform="translate(261.8 201.5)rotate(-150)"/><use href="#ar" transform="translate(268.7 201.5)rotate(-168)"/><use href="#ar" transform="translate(275.6 201.5)rotate(-178)"/><use href="#ar" transform="translate(282.5 201.5)rotate(179)"/><use href="#ar" transform="translate(289.4 201.5)rotate(176)"/><use href="#ar" transform="translate(296.3 201.5)rotate(172)"/><use href="#ar" transform="translate(303.2 201.5)rotate(164)"/><use href="#ar" transform="translate(310.1 201.5)rotate(147)"/><use href="#ar" transform="translate(317 201.5)rotate(140)"/><use href="#ar" transform="translate(6.2 208.6)rotate(-11)"/><use href="#ar" transform="translate(13.1 208.6)rotate(-3)"/><use href="#ar" transform="translate(20 208.6)rotate(-1)"/><use href="#ar" transform="translate(26.9 208.6)rotate(-4)"/><use href="#ar" transform="translate(33.8 208.6)rotate(-11)"/><use href="#ar" transform="translate(40.7 208.6)rotate(-7)"/><use href="#ar" transform="translate(47.6 208.6)rotate(-1)"/><use href="#ar" transform="translate(54.5 208.6)rotate(-1)"/><use href="#ar" transform="translate(61.5 208.6)rotate(0)"/><use href="#ar" transform="translate(68.4 208.6)rotate(19)"/><use href="#ar" transform="translate(75.3 208.6)rotate(29)"/><use href="#ar" transform="translate(82.2 208.6)rotate(30)"/><use href="#ar" transform="translate(89.1 208.6)rotate(32)"/><use href="#ar" transform="translate(96 208.6)rotate(37)"/><use href="#ar" transform="translate(102.9 208.6)rotate(35)"/><use href="#ar" transform="translate(109.8 208.6)rotate(29)"/><use href="#ar" transform="translate(116.7 208.6)rotate(28)"/><use href="#ar" transform="translate(123.6 208.6)rotate(20)"/><use href="#ar" transform="translate(130.5 208.6)rotate(1)"/><use href="#ar" transform="translate(137.4 208.6)rotate(4)"/><use href="#ar" transform="translate(144.3 208.6)rotate(5)"/><use href="#ar" transform="translate(151.2 208.6)rotate(1)"/><use href="#ar" transform="translate(158.2 208.6)rotate(0)"/><use href="#ar" transform="translate(165.1 208.6)rotate(-1)"/><use href="#ar" transform="translate(172 208.6)rotate(-8)"/><use href="#ar" transform="translate(178.9 208.6)rotate(-24)"/><use href="#ar" transform="translate(185.8 208.6)rotate(-30)"/><use href="#ar" transform="translate(192.7 208.6)rotate(-30)"/><use href="#ar" transform="translate(199.6 208.6)rotate(-34)"/><use href="#ar" transform="translate(206.5 208.6)rotate(-43)"/><use href="#ar" transform="translate(213.4 208.6)rotate(-45)"/><use href="#ar" transform="translate(220.3 208.6)rotate(-46)"/><use href="#ar" transform="translate(227.2 208.6)rotate(-53)"/><use href="#ar" transform="translate(234.1 208.6)rotate(-78)"/><use href="#ar" transform="translate(241 208.6)rotate(-117)"/><use href="#ar" transform="translate(247.9 208.6)rotate(-137)"/><use href="#ar" transform="translate(254.9 208.6)rotate(-148)"/><use href="#ar" transform="translate(261.8 208.6)rotate(-162)"/><use href="#ar" transform="translate(268.7 208.6)rotate(-175)"/><use href="#ar" transform="translate(275.6 208.6)rotate(-180)"/><use href="#ar" transform="translate(282.5 208.6)rotate(180)"/><use href="#ar" transform="translate(289.4 208.6)rotate(177)"/><use href="#ar" transform="translate(296.3 208.6)rotate(167)"/><use href="#ar" transform="translate(303.2 208.6)rotate(150)"/><use href="#ar" transform="translate(310.1 208.6)rotate(137)"/><use href="#ar" transform="translate(317 208.6)rotate(135)"/><use href="#ar" transform="translate(6.2 215.6)rotate(-8)"/><use href="#ar" transform="translate(13.1 215.6)rotate(-2)"/><use href="#ar" transform="translate(20 215.6)rotate(0)"/><use href="#ar" transform="translate(26.9 215.6)rotate(-2)"/><use href="#ar" transform="translate(33.8 215.6)rotate(-7)"/><use href="#ar" transform="translate(40.7 215.6)rotate(-4)"/><use href="#ar" transform="translate(47.6 215.6)rotate(-1)"/><use href="#ar" transform="translate(54.5 215.6)rotate(-1)"/><use href="#ar" transform="translate(61.5 215.6)rotate(3)"/><use href="#ar" transform="translate(68.4 215.6)rotate(20)"/><use href="#ar" transform="translate(75.3 215.6)rotate(29)"/><use href="#ar" transform="translate(82.2 215.6)rotate(30)"/><use href="#ar" transform="translate(89.1 215.6)rotate(30)"/><use href="#ar" transform="translate(96 215.6)rotate(31)"/><use href="#ar" transform="translate(102.9 215.6)rotate(30)"/><use href="#ar" transform="translate(109.8 215.6)rotate(26)"/><use href="#ar" transform="translate(116.7 215.6)rotate(22)"/><use href="#ar" transform="translate(123.6 215.6)rotate(11)"/><use href="#ar" transform="translate(130.5 215.6)rotate(3)"/><use href="#ar" transform="translate(137.4 215.6)rotate(4)"/><use href="#ar" transform="translate(144.3 215.6)rotate(4)"/><use href="#ar" transform="translate(151.2 215.6)rotate(1)"/><use href="#ar" transform="translate(158.2 215.6)rotate(0)"/><use href="#ar" transform="translate(165.1 215.6)rotate(-1)"/><use href="#ar" transform="translate(172 215.6)rotate(-9)"/><use href="#ar" transform="translate(178.9 215.6)rotate(-23)"/><use href="#ar" transform="translate(185.8 215.6)rotate(-29)"/><use href="#ar" transform="translate(192.7 215.6)rotate(-30)"/><use href="#ar" transform="translate(199.6 215.6)rotate(-33)"/><use href="#ar" transform="translate(206.5 215.6)rotate(-41)"/><use href="#ar" transform="translate(213.4 215.6)rotate(-45)"/><use href="#ar" transform="translate(220.3 215.6)rotate(-47)"/><use href="#ar" transform="translate(227.2 215.6)rotate(-55)"/><use href="#ar" transform="translate(234.1 215.6)rotate(-76)"/><use href="#ar" transform="translate(241 215.6)rotate(-112)"/><use href="#ar" transform="translate(247.9 215.6)rotate(-139)"/><use href="#ar" transform="translate(254.9 215.6)rotate(-155)"/><use href="#ar" transform="translate(261.8 215.6)rotate(-168)"/><use href="#ar" transform="translate(268.7 215.6)rotate(-177)"/><use href="#ar" transform="translate(275.6 215.6)rotate(-180)"/><use href="#ar" transform="translate(282.5 215.6)rotate(180)"/><use href="#ar" transform="translate(289.4 215.6)rotate(176)"/><use href="#ar" transform="translate(296.3 215.6)rotate(165)"/><use href="#ar" transform="translate(303.2 215.6)rotate(148)"/><use href="#ar" transform="translate(310.1 215.6)rotate(138)"/><use href="#ar" transform="translate(317 215.6)rotate(136)"/></g><g fill="#9cba20" stroke="#9cba20"><use href="#ar" transform="translate(20 18.5)rotate(-143)"/><use href="#ar" transform="translate(26.9 18.5)rotate(-131)"/><use href="#ar" transform="translate(33.8 18.5)rotate(-110)"/><use href="#ar" transform="translate(40.7 18.5)rotate(-99)"/><use href="#ar" transform="translate(47.6 18.5)rotate(-95)"/><use href="#ar" transform="translate(54.5 18.5)rotate(-56)"/><use href="#ar" transform="translate(61.5 18.5)rotate(-43)"/><use href="#ar" transform="translate(6.2 25.5)rotate(-136)"/><use href="#ar" transform="translate(13.1 25.5)rotate(-135)"/><use href="#ar" transform="translate(20 25.5)rotate(-135)"/><use href="#ar" transform="translate(26.9 25.5)rotate(-117)"/><use href="#ar" transform="translate(33.8 25.5)rotate(-94)"/><use href="#ar" transform="translate(40.7 25.5)rotate(-90)"/><use href="#ar" transform="translate(47.6 25.5)rotate(-84)"/><use href="#ar" transform="translate(54.5 25.5)rotate(-48)"/><use href="#ar" transform="translate(61.5 25.5)rotate(-45)"/><use href="#ar" transform="translate(68.4 25.5)rotate(-16)"/><use href="#ar" transform="translate(75.3 25.5)rotate(45)"/><use href="#ar" transform="translate(82.2 25.5)rotate(46)"/><use href="#ar" transform="translate(6.2 32.6)rotate(-137)"/><use href="#ar" transform="translate(13.1 32.6)rotate(-136)"/><use href="#ar" transform="translate(20 32.6)rotate(-132)"/><use href="#ar" transform="translate(26.9 32.6)rotate(-114)"/><use href="#ar" transform="translate(33.8 32.6)rotate(-96)"/><use href="#ar" transform="translate(40.7 32.6)rotate(-90)"/><use href="#ar" transform="translate(47.6 32.6)rotate(-79)"/><use href="#ar" transform="translate(54.5 32.6)rotate(-52)"/><use href="#ar" transform="translate(61.5 32.6)rotate(-41)"/><use href="#ar" transform="translate(68.4 32.6)rotate(-7)"/><use href="#ar" transform="translate(75.3 32.6)rotate(42)"/><use href="#ar" transform="translate(82.2 32.6)rotate(51)"/><use href="#ar" transform="translate(89.1 32.6)rotate(69)"/><use href="#ar" transform="translate(6.2 39.6)rotate(-141)"/><use href="#ar" transform="translate(13.1 39.6)rotate(-138)"/><use href="#ar" transform="translate(20 39.6)rotate(-130)"/><use href="#ar" transform="translate(26.9 39.6)rotate(-114)"/><use href="#ar" transform="translate(33.8 39.6)rotate(-98)"/><use href="#ar" transform="translate(40.7 39.6)rotate(-86)"/><use href="#ar" transform="translate(47.6 39.6)rotate(-72)"/><use href="#ar" transform="translate(54.5 39.6)rotate(-51)"/><use href="#ar" transform="translate(61.5 39.6)rotate(-29)"/><use href="#ar" transform="translate(68.4 39.6)rotate(4)"/><use href="#ar" transform="translate(75.3 39.6)rotate(39)"/><use href="#ar" transform="translate(82.2 39.6)rotate(59)"/><use href="#ar" transform="translate(89.1 39.6)rotate(75)"/><use href="#ar" transform="translate(96 39.6)rotate(86)"/><use href="#ar" transform="translate(102.9 39.6)rotate(92)"/><use href="#ar" transform="translate(6.2 46.6)rotate(-150)"/><use href="#ar" transform="translate(13.1 46.6)rotate(-147)"/><use href="#ar" transform="translate(20 46.6)rotate(-135)"/><use href="#ar" transform="translate(26.9 46.6)rotate(-113)"/><use href="#ar" transform="translate(33.8 46.6)rotate(-94)"/><use href="#ar" transform="translate(40.7 46.6)rotate(-82)"/><use href="#ar" transform="translate(47.6 46.6)rotate(-65)"/><use href="#ar" transform="translate(54.5 46.6)rotate(-45)"/><use href="#ar" transform="translate(61.5 46.6)rotate(-21)"/><use href="#ar" transform="translate(68.4 46.6)rotate(10)"/><use href="#ar" transform="translate(75.3 46.6)rotate(35)"/><use href="#ar" transform="translate(82.2 46.6)rotate(68)"/><use href="#ar" transform="translate(89.1 46.6)rotate(88)"/><use href="#ar" transform="translate(96 46.6)rotate(94)"/><use href="#ar" transform="translate(102.9 46.6)rotate(97)"/><use href="#ar" transform="translate(109.8 46.6)rotate(100)"/><use href="#ar" transform="translate(6.2 53.7)rotate(-158)"/><use href="#ar" transform="translate(13.1 53.7)rotate(-157)"/><use href="#ar" transform="translate(20 53.7)rotate(-144)"/><use href="#ar" transform="translate(26.9 53.7)rotate(-110)"/><use href="#ar" transform="translate(33.8 53.7)rotate(-91)"/><use href="#ar" transform="translate(40.7 53.7)rotate(-86)"/><use href="#ar" transform="translate(47.6 53.7)rotate(-65)"/><use href="#ar" transform="translate(54.5 53.7)rotate(-44)"/><use href="#ar" transform="translate(61.5 53.7)rotate(-21)"/><use href="#ar" transform="translate(68.4 53.7)rotate(15)"/><use href="#ar" transform="translate(75.3 53.7)rotate(28)"/><use href="#ar" transform="translate(82.2 53.7)rotate(81)"/><use href="#ar" transform="translate(89.1 53.7)rotate(105)"/><use href="#ar" transform="translate(96 53.7)rotate(104)"/><use href="#ar" transform="translate(102.9 53.7)rotate(101)"/><use href="#ar" transform="translate(109.8 53.7)rotate(101)"/><use href="#ar" transform="translate(116.7 53.7)rotate(101)"/><use href="#ar" transform="translate(275.6 53.7)rotate(22)"/><use href="#ar" transform="translate(282.5 53.7)rotate(53)"/><use href="#ar" transform="translate(289.4 53.7)rotate(77)"/><use href="#ar" transform="translate(296.3 53.7)rotate(96)"/><use href="#ar" transform="translate(303.2 53.7)rotate(112)"/><use href="#ar" transform="translate(6.2 60.7)rotate(-160)"/><use href="#ar" transform="translate(13.1 60.7)rotate(-159)"/><use href="#ar" transform="translate(68.4 60.7)rotate(19)"/><use href="#ar" transform="translate(75.3 60.7)rotate(24)"/><use href="#ar" transform="translate(82.2 60.7)rotate(88)"/><use href="#ar" transform="translate(89.1 60.7)rotate(110)"/><use href="#ar" transform="translate(96 60.7)rotate(107)"/><use href="#ar" transform="translate(102.9 60.7)rotate(102)"/><use href="#ar" transform="translate(109.8 60.7)rotate(101)"/><use href="#ar" transform="translate(116.7 60.7)rotate(100)"/><use href="#ar" transform="translate(261.8 60.7)rotate(9)"/><use href="#ar" transform="translate(317 60.7)rotate(131)"/><use href="#ar" transform="translate(6.2 67.8)rotate(-159)"/><use href="#ar" transform="translate(75.3 67.8)rotate(29)"/><use href="#ar" transform="translate(82.2 67.8)rotate(76)"/><use href="#ar" transform="translate(89.1 67.8)rotate(102)"/><use href="#ar" transform="translate(96 67.8)rotate(103)"/><use href="#ar" transform="translate(102.9 67.8)rotate(101)"/><use href="#ar" transform="translate(109.8 67.8)rotate(102)"/><use href="#ar" transform="translate(116.7 67.8)rotate(102)"/><use href="#ar" transform="translate(123.6 67.8)rotate(103)"/><use href="#ar" transform="translate(247.9 67.8)rotate(-54)"/><use href="#ar" transform="translate(254.9 67.8)rotate(-26)"/><use href="#ar" transform="translate(89.1 74.8)rotate(86)"/><use href="#ar" transform="translate(96 74.8)rotate(95)"/><use href="#ar" transform="translate(102.9 74.8)rotate(99)"/><use href="#ar" transform="translate(109.8 74.8)rotate(103)"/><use href="#ar" transform="translate(116.7 74.8)rotate(106)"/><use href="#ar" transform="translate(123.6 74.8)rotate(109)"/><use href="#ar" transform="translate(247.9 74.8)rotate(-49)"/><use href="#ar" transform="translate(89.1 81.8)rotate(80)"/><use href="#ar" transform="translate(96 81.8)rotate(93)"/><use href="#ar" transform="translate(102.9 81.8)rotate(98)"/><use href="#ar" transform="translate(109.8 81.8)rotate(103)"/><use href="#ar" transform="translate(116.7 81.8)rotate(109)"/><use href="#ar" transform="translate(123.6 81.8)rotate(114)"/><use href="#ar" transform="translate(130.5 81.8)rotate(121)"/><use href="#ar" transform="translate(241 81.8)rotate(-70)"/><use href="#ar" transform="translate(96 88.9)rotate(94)"/><use href="#ar" transform="translate(102.9 88.9)rotate(96)"/><use href="#ar" transform="translate(109.8 88.9)rotate(103)"/><use href="#ar" transform="translate(116.7 88.9)rotate(112)"/><use href="#ar" transform="translate(123.6 88.9)rotate(116)"/><use href="#ar" transform="translate(130.5 88.9)rotate(122)"/><use href="#ar" transform="translate(234.1 88.9)rotate(-88)"/><use href="#ar" transform="translate(96 95.9)rotate(95)"/><use href="#ar" transform="translate(102.9 95.9)rotate(95)"/><use href="#ar" transform="translate(109.8 95.9)rotate(105)"/><use href="#ar" transform="translate(116.7 95.9)rotate(114)"/><use href="#ar" transform="translate(123.6 95.9)rotate(115)"/><use href="#ar" transform="translate(130.5 95.9)rotate(122)"/><use href="#ar" transform="translate(234.1 95.9)rotate(-90)"/><use href="#ar" transform="translate(96 103)rotate(96)"/><use href="#ar" transform="translate(102.9 103)rotate(99)"/><use href="#ar" transform="translate(109.8 103)rotate(109)"/><use href="#ar" transform="translate(116.7 103)rotate(115)"/><use href="#ar" transform="translate(123.6 103)rotate(115)"/><use href="#ar" transform="translate(130.5 103)rotate(122)"/><use href="#ar" transform="translate(234.1 103)rotate(-90)"/><use href="#ar" transform="translate(96 110)rotate(105)"/><use href="#ar" transform="translate(102.9 110)rotate(108)"/><use href="#ar" transform="translate(109.8 110)rotate(113)"/><use href="#ar" transform="translate(116.7 110)rotate(116)"/><use href="#ar" transform="translate(123.6 110)rotate(118)"/><use href="#ar" transform="translate(130.5 110)rotate(124)"/><use href="#ar" transform="translate(234.1 110)rotate(-90)"/><use href="#ar" transform="translate(96 117)rotate(125)"/><use href="#ar" transform="translate(102.9 117)rotate(121)"/><use href="#ar" transform="translate(109.8 117)rotate(120)"/><use href="#ar" transform="translate(116.7 117)rotate(120)"/><use href="#ar" transform="translate(123.6 117)rotate(121)"/><use href="#ar" transform="translate(130.5 117)rotate(125)"/><use href="#ar" transform="translate(234.1 117)rotate(-93)"/><use href="#ar" transform="translate(96 124.1)rotate(145)"/><use href="#ar" transform="translate(102.9 124.1)rotate(132)"/><use href="#ar" transform="translate(109.8 124.1)rotate(127)"/><use href="#ar" transform="translate(116.7 124.1)rotate(124)"/><use href="#ar" transform="translate(123.6 124.1)rotate(123)"/><use href="#ar" transform="translate(130.5 124.1)rotate(124)"/><use href="#ar" transform="translate(234.1 124.1)rotate(-103)"/><use href="#ar" transform="translate(96 131.1)rotate(152)"/><use href="#ar" transform="translate(102.9 131.1)rotate(133)"/><use href="#ar" transform="translate(109.8 131.1)rotate(127)"/><use href="#ar" transform="translate(116.7 131.1)rotate(125)"/><use href="#ar" transform="translate(123.6 131.1)rotate(123)"/><use href="#ar" transform="translate(130.5 131.1)rotate(120)"/><use href="#ar" transform="translate(234.1 131.1)rotate(-115)"/><use href="#ar" transform="translate(89.1 138.2)rotate(172)"/><use href="#ar" transform="translate(96 138.2)rotate(152)"/><use href="#ar" transform="translate(102.9 138.2)rotate(129)"/><use href="#ar" transform="translate(109.8 138.2)rotate(125)"/><use href="#ar" transform="translate(116.7 138.2)rotate(125)"/><use href="#ar" transform="translate(123.6 138.2)rotate(121)"/><use href="#ar" transform="translate(130.5 138.2)rotate(113)"/><use href="#ar" transform="translate(241 138.2)rotate(-136)"/><use href="#ar" transform="translate(89.1 145.2)rotate(169)"/><use href="#ar" transform="translate(96 145.2)rotate(151)"/><use href="#ar" transform="translate(102.9 145.2)rotate(130)"/><use href="#ar" transform="translate(109.8 145.2)rotate(126)"/><use href="#ar" transform="translate(116.7 145.2)rotate(124)"/><use href="#ar" transform="translate(123.6 145.2)rotate(117)"/><use href="#ar" transform="translate(241 145.2)rotate(-132)"/><use href="#ar" transform="translate(82.2 152.2)rotate(173)"/><use href="#ar" transform="translate(89.1 152.2)rotate(168)"/><use href="#ar" transform="translate(96 152.2)rotate(152)"/><use href="#ar" transform="translate(102.9 152.2)rotate(134)"/><use href="#ar" transform="translate(109.8 152.2)rotate(126)"/><use href="#ar" transform="translate(116.7 152.2)rotate(121)"/><use href="#ar" transform="translate(123.6 152.2)rotate(111)"/><use href="#ar" transform="translate(247.9 152.2)rotate(-145)"/><use href="#ar" transform="translate(6.2 159.3)rotate(-43)"/><use href="#ar" transform="translate(13.1 159.3)rotate(-47)"/><use href="#ar" transform="translate(68.4 159.3)rotate(-168)"/><use href="#ar" transform="translate(75.3 159.3)rotate(179)"/><use href="#ar" transform="translate(82.2 159.3)rotate(175)"/><use href="#ar" transform="translate(89.1 159.3)rotate(167)"/><use href="#ar" transform="translate(96 159.3)rotate(149)"/><use href="#ar" transform="translate(102.9 159.3)rotate(131)"/><use href="#ar" transform="translate(109.8 159.3)rotate(119)"/><use href="#ar" transform="translate(116.7 159.3)rotate(112)"/><use href="#ar" transform="translate(254.9 159.3)rotate(-147)"/><use href="#ar" transform="translate(261.8 159.3)rotate(168)"/><use href="#ar" transform="translate(317 159.3)rotate(102)"/><use href="#ar" transform="translate(6.2 166.3)rotate(-48)"/><use href="#ar" transform="translate(13.1 166.3)rotate(-52)"/><use href="#ar" transform="translate(20 166.3)rotate(-64)"/><use href="#ar" transform="translate(26.9 166.3)rotate(-79)"/><use href="#ar" transform="translate(33.8 166.3)rotate(-88)"/><use href="#ar" transform="translate(40.7 166.3)rotate(-90)"/><use href="#ar" transform="translate(47.6 166.3)rotate(-92)"/><use href="#ar" transform="translate(54.5 166.3)rotate(-106)"/><use href="#ar" transform="translate(61.5 166.3)rotate(-124)"/><use href="#ar" transform="translate(68.4 166.3)rotate(-146)"/><use href="#ar" transform="translate(75.3 166.3)rotate(-167)"/><use href="#ar" transform="translate(82.2 166.3)rotate(179)"/><use href="#ar" transform="translate(89.1 166.3)rotate(165)"/><use href="#ar" transform="translate(96 166.3)rotate(140)"/><use href="#ar" transform="translate(102.9 166.3)rotate(114)"/><use href="#ar" transform="translate(109.8 166.3)rotate(102)"/><use href="#ar" transform="translate(116.7 166.3)rotate(98)"/><use href="#ar" transform="translate(268.7 166.3)rotate(161)"/><use href="#ar" transform="translate(275.6 166.3)rotate(152)"/><use href="#ar" transform="translate(282.5 166.3)rotate(159)"/><use href="#ar" transform="translate(289.4 166.3)rotate(136)"/><use href="#ar" transform="translate(296.3 166.3)rotate(121)"/><use href="#ar" transform="translate(303.2 166.3)rotate(124)"/><use href="#ar" transform="translate(310.1 166.3)rotate(125)"/><use href="#ar" transform="translate(6.2 173.4)rotate(-46)"/><use href="#ar" transform="translate(13.1 173.4)rotate(-47)"/><use href="#ar" transform="translate(20 173.4)rotate(-57)"/><use href="#ar" transform="translate(26.9 173.4)rotate(-75)"/><use href="#ar" transform="translate(33.8 173.4)rotate(-83)"/><use href="#ar" transform="translate(40.7 173.4)rotate(-85)"/><use href="#ar" transform="translate(47.6 173.4)rotate(-92)"/><use href="#ar" transform="translate(54.5 173.4)rotate(-111)"/><use href="#ar" transform="translate(61.5 173.4)rotate(-120)"/><use href="#ar" transform="translate(68.4 173.4)rotate(-130)"/><use href="#ar" transform="translate(75.3 173.4)rotate(-160)"/><use href="#ar" transform="translate(82.2 173.4)rotate(179)"/><use href="#ar" transform="translate(89.1 173.4)rotate(167)"/><use href="#ar" transform="translate(96 173.4)rotate(134)"/><use href="#ar" transform="translate(102.9 173.4)rotate(99)"/><use href="#ar" transform="translate(109.8 173.4)rotate(92)"/><use href="#ar" transform="translate(6.2 180.4)rotate(-45)"/><use href="#ar" transform="translate(13.1 180.4)rotate(-45)"/><use href="#ar" transform="translate(20 180.4)rotate(-52)"/><use href="#ar" transform="translate(26.9 180.4)rotate(-70)"/><use href="#ar" transform="translate(33.8 180.4)rotate(-80)"/><use href="#ar" transform="translate(40.7 180.4)rotate(-80)"/><use href="#ar" transform="translate(47.6 180.4)rotate(-88)"/><use href="#ar" transform="translate(54.5 180.4)rotate(-116)"/><use href="#ar" transform="translate(61.5 180.4)rotate(-120)"/><use href="#ar" transform="translate(68.4 180.4)rotate(-126)"/><use href="#ar" transform="translate(75.3 180.4)rotate(-167)"/><use href="#ar" transform="translate(82.2 180.4)rotate(176)"/><use href="#ar" transform="translate(89.1 180.4)rotate(173)"/><use href="#ar" transform="translate(96 180.4)rotate(141)"/><use href="#ar" transform="translate(102.9 180.4)rotate(94)"/><use href="#ar" transform="translate(6.2 187.4)rotate(-45)"/><use href="#ar" transform="translate(13.1 187.4)rotate(-45)"/><use href="#ar" transform="translate(20 187.4)rotate(-50)"/><use href="#ar" transform="translate(26.9 187.4)rotate(-63)"/><use href="#ar" transform="translate(33.8 187.4)rotate(-76)"/><use href="#ar" transform="translate(40.7 187.4)rotate(-80)"/><use href="#ar" transform="translate(47.6 187.4)rotate(-87)"/><use href="#ar" transform="translate(54.5 187.4)rotate(-108)"/><use href="#ar" transform="translate(61.5 187.4)rotate(-117)"/><use href="#ar" transform="translate(68.4 187.4)rotate(-128)"/><use href="#ar" transform="translate(75.3 187.4)rotate(-173)"/><use href="#ar" transform="translate(82.2 187.4)rotate(175)"/><use href="#ar" transform="translate(89.1 187.4)rotate(174)"/><use href="#ar" transform="translate(96 187.4)rotate(147)"/><use href="#ar" transform="translate(6.2 194.5)rotate(-39)"/><use href="#ar" transform="translate(13.1 194.5)rotate(-37)"/><use href="#ar" transform="translate(20 194.5)rotate(-36)"/><use href="#ar" transform="translate(26.9 194.5)rotate(-45)"/><use href="#ar" transform="translate(33.8 194.5)rotate(-57)"/><use href="#ar" transform="translate(40.7 194.5)rotate(-63)"/><use href="#ar" transform="translate(47.6 194.5)rotate(-65)"/><use href="#ar" transform="translate(54.5 194.5)rotate(-77)"/><use href="#ar" transform="translate(61.5 194.5)rotate(-94)"/><use href="#ar" transform="translate(68.4 194.5)rotate(-115)"/><use href="#ar" transform="translate(75.3 194.5)rotate(179)"/><use href="#ar" transform="translate(82.2 194.5)rotate(168)"/><use href="#ar" transform="translate(13.1 201.5)rotate(-15)"/><use href="#ar" transform="translate(20 201.5)rotate(-11)"/><use href="#ar" transform="translate(26.9 201.5)rotate(-17)"/><use href="#ar" transform="translate(33.8 201.5)rotate(-27)"/><use href="#ar" transform="translate(40.7 201.5)rotate(-24)"/><use href="#ar" transform="translate(47.6 201.5)rotate(-15)"/><use href="#ar" transform="translate(54.5 201.5)rotate(-16)"/><use href="#ar" transform="translate(61.5 201.5)rotate(-20)"/><use href="#ar" transform="translate(68.4 201.5)rotate(5)"/></g><g fill="#a8b820" stroke="#a8b820"><use href="#ar" transform="translate(20 60.7)rotate(-148)"/><use href="#ar" transform="translate(26.9 60.7)rotate(-109)"/><use href="#ar" transform="translate(33.8 60.7)rotate(-90)"/><use href="#ar" transform="translate(40.7 60.7)rotate(-90)"/><use href="#ar" transform="translate(47.6 60.7)rotate(-65)"/><use href="#ar" transform="translate(54.5 60.7)rotate(-45)"/><use href="#ar" transform="translate(61.5 60.7)rotate(-24)"/><use href="#ar" transform="translate(268.7 60.7)rotate(10)"/><use href="#ar" transform="translate(275.6 60.7)rotate(23)"/><use href="#ar" transform="translate(282.5 60.7)rotate(67)"/><use href="#ar" transform="translate(289.4 60.7)rotate(87)"/><use href="#ar" transform="translate(296.3 60.7)rotate(98)"/><use href="#ar" transform="translate(303.2 60.7)rotate(118)"/><use href="#ar" transform="translate(310.1 60.7)rotate(129)"/><use href="#ar" transform="translate(13.1 67.8)rotate(-158)"/><use href="#ar" transform="translate(20 67.8)rotate(-146)"/><use href="#ar" transform="translate(26.9 67.8)rotate(-112)"/><use href="#ar" transform="translate(33.8 67.8)rotate(-91)"/><use href="#ar" transform="translate(40.7 67.8)rotate(-84)"/><use href="#ar" transform="translate(47.6 67.8)rotate(-63)"/><use href="#ar" transform="translate(54.5 67.8)rotate(-43)"/><use href="#ar" transform="translate(61.5 67.8)rotate(-18)"/><use href="#ar" transform="translate(68.4 67.8)rotate(14)"/><use href="#ar" transform="translate(261.8 67.8)rotate(5)"/><use href="#ar" transform="translate(268.7 67.8)rotate(12)"/><use href="#ar" transform="translate(275.6 67.8)rotate(41)"/><use href="#ar" transform="translate(282.5 67.8)rotate(83)"/><use href="#ar" transform="translate(289.4 67.8)rotate(90)"/><use href="#ar" transform="translate(296.3 67.8)rotate(95)"/><use href="#ar" transform="translate(303.2 67.8)rotate(122)"/><use href="#ar" transform="translate(310.1 67.8)rotate(134)"/><use href="#ar" transform="translate(317 67.8)rotate(134)"/><use href="#ar" transform="translate(6.2 74.8)rotate(-168)"/><use href="#ar" transform="translate(13.1 74.8)rotate(-164)"/><use href="#ar" transform="translate(20 74.8)rotate(-148)"/><use href="#ar" transform="translate(26.9 74.8)rotate(-115)"/><use href="#ar" transform="translate(33.8 74.8)rotate(-92)"/><use href="#ar" transform="translate(40.7 74.8)rotate(-81)"/><use href="#ar" transform="translate(47.6 74.8)rotate(-63)"/><use href="#ar" transform="translate(54.5 74.8)rotate(-34)"/><use href="#ar" transform="translate(61.5 74.8)rotate(-5)"/><use href="#ar" transform="translate(68.4 74.8)rotate(17)"/><use href="#ar" transform="translate(75.3 74.8)rotate(34)"/><use href="#ar" transform="translate(82.2 74.8)rotate(62)"/><use href="#ar" transform="translate(254.9 74.8)rotate(-26)"/><use href="#ar" transform="translate(261.8 74.8)rotate(0)"/><use href="#ar" transform="translate(268.7 74.8)rotate(22)"/><use href="#ar" transform="translate(275.6 74.8)rotate(62)"/><use href="#ar" transform="translate(282.5 74.8)rotate(87)"/><use href="#ar" transform="translate(289.4 74.8)rotate(90)"/><use href="#ar" transform="translate(296.3 74.8)rotate(94)"/><use href="#ar" transform="translate(303.2 74.8)rotate(120)"/><use href="#ar" transform="translate(310.1 74.8)rotate(133)"/><use href="#ar" transform="translate(317 74.8)rotate(134)"/><use href="#ar" transform="translate(6.2 81.8)rotate(176)"/><use href="#ar" transform="translate(13.1 81.8)rotate(177)"/><use href="#ar" transform="translate(20 81.8)rotate(-165)"/><use href="#ar" transform="translate(61.5 81.8)rotate(0)"/><use href="#ar" transform="translate(68.4 81.8)rotate(30)"/><use href="#ar" transform="translate(75.3 81.8)rotate(37)"/><use href="#ar" transform="translate(82.2 81.8)rotate(55)"/><use href="#ar" transform="translate(247.9 81.8)rotate(-53)"/><use href="#ar" transform="translate(254.9 81.8)rotate(-29)"/><use href="#ar" transform="translate(261.8 81.8)rotate(0)"/><use href="#ar" transform="translate(268.7 81.8)rotate(31)"/><use href="#ar" transform="translate(310.1 81.8)rotate(129)"/><use href="#ar" transform="translate(317 81.8)rotate(132)"/><use href="#ar" transform="translate(6.2 88.9)rotate(171)"/><use href="#ar" transform="translate(13.1 88.9)rotate(171)"/><use href="#ar" transform="translate(68.4 88.9)rotate(42)"/><use href="#ar" transform="translate(75.3 88.9)rotate(39)"/><use href="#ar" transform="translate(82.2 88.9)rotate(57)"/><use href="#ar" transform="translate(89.1 88.9)rotate(83)"/><use href="#ar" transform="translate(241 88.9)rotate(-81)"/><use href="#ar" transform="translate(247.9 88.9)rotate(-63)"/><use href="#ar" transform="translate(254.9 88.9)rotate(-31)"/><use href="#ar" transform="translate(261.8 88.9)rotate(-1)"/><use href="#ar" transform="translate(317 88.9)rotate(138)"/><use href="#ar" transform="translate(6.2 95.9)rotate(170)"/><use href="#ar" transform="translate(75.3 95.9)rotate(48)"/><use href="#ar" transform="translate(82.2 95.9)rotate(63)"/><use href="#ar" transform="translate(89.1 95.9)rotate(86)"/><use href="#ar" transform="translate(241 95.9)rotate(-86)"/><use href="#ar" transform="translate(247.9 95.9)rotate(-67)"/><use href="#ar" transform="translate(254.9 95.9)rotate(-24)"/><use href="#ar" transform="translate(6.2 103)rotate(158)"/><use href="#ar" transform="translate(75.3 103)rotate(60)"/><use href="#ar" transform="translate(82.2 103)rotate(65)"/><use href="#ar" transform="translate(89.1 103)rotate(85)"/><use href="#ar" transform="translate(241 103)rotate(-86)"/><use href="#ar" transform="translate(247.9 103)rotate(-61)"/><use href="#ar" transform="translate(254.9 103)rotate(-12)"/><use href="#ar" transform="translate(6.2 110)rotate(150)"/><use href="#ar" transform="translate(75.3 110)rotate(64)"/><use href="#ar" transform="translate(82.2 110)rotate(74)"/><use href="#ar" transform="translate(89.1 110)rotate(96)"/><use href="#ar" transform="translate(241 110)rotate(-84)"/><use href="#ar" transform="translate(247.9 110)rotate(-48)"/><use href="#ar" transform="translate(254.9 110)rotate(-4)"/><use href="#ar" transform="translate(6.2 117)rotate(151)"/><use href="#ar" transform="translate(75.3 117)rotate(144)"/><use href="#ar" transform="translate(82.2 117)rotate(131)"/><use href="#ar" transform="translate(89.1 117)rotate(130)"/><use href="#ar" transform="translate(241 117)rotate(-85)"/><use href="#ar" transform="translate(247.9 117)rotate(-37)"/><use href="#ar" transform="translate(254.9 117)rotate(4)"/><use href="#ar" transform="translate(6.2 124.1)rotate(147)"/><use href="#ar" transform="translate(75.3 124.1)rotate(170)"/><use href="#ar" transform="translate(82.2 124.1)rotate(167)"/><use href="#ar" transform="translate(89.1 124.1)rotate(159)"/><use href="#ar" transform="translate(241 124.1)rotate(-101)"/><use href="#ar" transform="translate(247.9 124.1)rotate(-31)"/><use href="#ar" transform="translate(254.9 124.1)rotate(47)"/><use href="#ar" transform="translate(6.2 131.1)rotate(1)"/><use href="#ar" transform="translate(13.1 131.1)rotate(-2)"/><use href="#ar" transform="translate(68.4 131.1)rotate(-177)"/><use href="#ar" transform="translate(75.3 131.1)rotate(176)"/><use href="#ar" transform="translate(82.2 131.1)rotate(175)"/><use href="#ar" transform="translate(89.1 131.1)rotate(170)"/><use href="#ar" transform="translate(241 131.1)rotate(-128)"/><use href="#ar" transform="translate(247.9 131.1)rotate(155)"/><use href="#ar" transform="translate(254.9 131.1)rotate(112)"/><use href="#ar" transform="translate(261.8 131.1)rotate(111)"/><use href="#ar" transform="translate(317 131.1)rotate(78)"/><use href="#ar" transform="translate(6.2 138.2)rotate(-3)"/><use href="#ar" transform="translate(13.1 138.2)rotate(0)"/><use href="#ar" transform="translate(20 138.2)rotate(-3)"/><use href="#ar" transform="translate(61.5 138.2)rotate(-138)"/><use href="#ar" transform="translate(68.4 138.2)rotate(-142)"/><use href="#ar" transform="translate(75.3 138.2)rotate(-176)"/><use href="#ar" transform="translate(82.2 138.2)rotate(175)"/><use href="#ar" transform="translate(247.9 138.2)rotate(165)"/><use href="#ar" transform="translate(254.9 138.2)rotate(126)"/><use href="#ar" transform="translate(261.8 138.2)rotate(119)"/><use href="#ar" transform="translate(268.7 138.2)rotate(120)"/><use href="#ar" transform="translate(310.1 138.2)rotate(61)"/><use href="#ar" transform="translate(317 138.2)rotate(65)"/><use href="#ar" transform="translate(6.2 145.2)rotate(-7)"/><use href="#ar" transform="translate(13.1 145.2)rotate(-2)"/><use href="#ar" transform="translate(20 145.2)rotate(-8)"/><use href="#ar" transform="translate(26.9 145.2)rotate(-54)"/><use href="#ar" transform="translate(33.8 145.2)rotate(-88)"/><use href="#ar" transform="translate(40.7 145.2)rotate(-90)"/><use href="#ar" transform="translate(47.6 145.2)rotate(-96)"/><use href="#ar" transform="translate(54.5 145.2)rotate(-127)"/><use href="#ar" transform="translate(61.5 145.2)rotate(-141)"/><use href="#ar" transform="translate(68.4 145.2)rotate(-155)"/><use href="#ar" transform="translate(75.3 145.2)rotate(176)"/><use href="#ar" transform="translate(82.2 145.2)rotate(175)"/><use href="#ar" transform="translate(247.9 145.2)rotate(-172)"/><use href="#ar" transform="translate(254.9 145.2)rotate(138)"/><use href="#ar" transform="translate(261.8 145.2)rotate(122)"/><use href="#ar" transform="translate(268.7 145.2)rotate(120)"/><use href="#ar" transform="translate(275.6 145.2)rotate(115)"/><use href="#ar" transform="translate(282.5 145.2)rotate(99)"/><use href="#ar" transform="translate(289.4 145.2)rotate(92)"/><use href="#ar" transform="translate(296.3 145.2)rotate(90)"/><use href="#ar" transform="translate(303.2 145.2)rotate(73)"/><use href="#ar" transform="translate(310.1 145.2)rotate(63)"/><use href="#ar" transform="translate(317 145.2)rotate(67)"/><use href="#ar" transform="translate(6.2 152.2)rotate(-22)"/><use href="#ar" transform="translate(13.1 152.2)rotate(-20)"/><use href="#ar" transform="translate(20 152.2)rotate(-35)"/><use href="#ar" transform="translate(26.9 152.2)rotate(-70)"/><use href="#ar" transform="translate(33.8 152.2)rotate(-88)"/><use href="#ar" transform="translate(40.7 152.2)rotate(-91)"/><use href="#ar" transform="translate(47.6 152.2)rotate(-98)"/><use href="#ar" transform="translate(54.5 152.2)rotate(-121)"/><use href="#ar" transform="translate(61.5 152.2)rotate(-149)"/><use href="#ar" transform="translate(68.4 152.2)rotate(-178)"/><use href="#ar" transform="translate(75.3 152.2)rotate(171)"/><use href="#ar" transform="translate(254.9 152.2)rotate(172)"/><use href="#ar" transform="translate(261.8 152.2)rotate(135)"/><use href="#ar" transform="translate(268.7 152.2)rotate(123)"/><use href="#ar" transform="translate(275.6 152.2)rotate(116)"/><use href="#ar" transform="translate(282.5 152.2)rotate(103)"/><use href="#ar" transform="translate(289.4 152.2)rotate(97)"/><use href="#ar" transform="translate(296.3 152.2)rotate(96)"/><use href="#ar" transform="translate(303.2 152.2)rotate(89)"/><use href="#ar" transform="translate(310.1 152.2)rotate(80)"/><use href="#ar" transform="translate(317 152.2)rotate(81)"/><use href="#ar" transform="translate(20 159.3)rotate(-61)"/><use href="#ar" transform="translate(26.9 159.3)rotate(-79)"/><use href="#ar" transform="translate(33.8 159.3)rotate(-88)"/><use href="#ar" transform="translate(40.7 159.3)rotate(-91)"/><use href="#ar" transform="translate(47.6 159.3)rotate(-95)"/><use href="#ar" transform="translate(54.5 159.3)rotate(-112)"/><use href="#ar" transform="translate(61.5 159.3)rotate(-140)"/><use href="#ar" transform="translate(268.7 159.3)rotate(140)"/><use href="#ar" transform="translate(275.6 159.3)rotate(127)"/><use href="#ar" transform="translate(282.5 159.3)rotate(107)"/><use href="#ar" transform="translate(289.4 159.3)rotate(91)"/><use href="#ar" transform="translate(296.3 159.3)rotate(100)"/><use href="#ar" transform="translate(303.2 159.3)rotate(105)"/><use href="#ar" transform="translate(310.1 159.3)rotate(103)"/></g><g fill="#b8b01c" stroke="#b8b01c"><use href="#ar" transform="translate(26.9 81.8)rotate(-117)"/><use href="#ar" transform="translate(33.8 81.8)rotate(-92)"/><use href="#ar" transform="translate(40.7 81.8)rotate(-88)"/><use href="#ar" transform="translate(47.6 81.8)rotate(-72)"/><use href="#ar" transform="translate(54.5 81.8)rotate(-26)"/><use href="#ar" transform="translate(275.6 81.8)rotate(66)"/><use href="#ar" transform="translate(282.5 81.8)rotate(85)"/><use href="#ar" transform="translate(289.4 81.8)rotate(91)"/><use href="#ar" transform="translate(296.3 81.8)rotate(99)"/><use href="#ar" transform="translate(303.2 81.8)rotate(117)"/><use href="#ar" transform="translate(20 88.9)rotate(-178)"/><use href="#ar" transform="translate(26.9 88.9)rotate(-120)"/><use href="#ar" transform="translate(33.8 88.9)rotate(-91)"/><use href="#ar" transform="translate(47.6 88.9)rotate(-77)"/><use href="#ar" transform="translate(54.5 88.9)rotate(-26)"/><use href="#ar" transform="translate(61.5 88.9)rotate(-26)"/><use href="#ar" transform="translate(268.7 88.9)rotate(24)"/><use href="#ar" transform="translate(275.6 88.9)rotate(53)"/><use href="#ar" transform="translate(282.5 88.9)rotate(79)"/><use href="#ar" transform="translate(296.3 88.9)rotate(108)"/><use href="#ar" transform="translate(303.2 88.9)rotate(123)"/><use href="#ar" transform="translate(310.1 88.9)rotate(134)"/><use href="#ar" transform="translate(13.1 95.9)rotate(171)"/><use href="#ar" transform="translate(20 95.9)rotate(-180)"/><use href="#ar" transform="translate(61.5 95.9)rotate(-13)"/><use href="#ar" transform="translate(68.4 95.9)rotate(24)"/><use href="#ar" transform="translate(261.8 95.9)rotate(0)"/><use href="#ar" transform="translate(268.7 95.9)rotate(10)"/><use href="#ar" transform="translate(310.1 95.9)rotate(156)"/><use href="#ar" transform="translate(317 95.9)rotate(157)"/><use href="#ar" transform="translate(13.1 103)rotate(161)"/><use href="#ar" transform="translate(68.4 103)rotate(54)"/><use href="#ar" transform="translate(261.8 103)rotate(1)"/><use href="#ar" transform="translate(317 103)rotate(173)"/><use href="#ar" transform="translate(13.1 110)rotate(152)"/><use href="#ar" transform="translate(68.4 110)rotate(71)"/><use href="#ar" transform="translate(261.8 110)rotate(1)"/><use href="#ar" transform="translate(317 110)rotate(178)"/><use href="#ar" transform="translate(13.1 117)rotate(152)"/><use href="#ar" transform="translate(68.4 117)rotate(158)"/><use href="#ar" transform="translate(261.8 117)rotate(5)"/><use href="#ar" transform="translate(317 117)rotate(174)"/><use href="#ar" transform="translate(13.1 124.1)rotate(141)"/><use href="#ar" transform="translate(20 124.1)rotate(170)"/><use href="#ar" transform="translate(61.5 124.1)rotate(177)"/><use href="#ar" transform="translate(68.4 124.1)rotate(170)"/><use href="#ar" transform="translate(261.8 124.1)rotate(46)"/><use href="#ar" transform="translate(268.7 124.1)rotate(52)"/><use href="#ar" transform="translate(310.1 124.1)rotate(131)"/><use href="#ar" transform="translate(317 124.1)rotate(136)"/><use href="#ar" transform="translate(20 131.1)rotate(-8)"/><use href="#ar" transform="translate(26.9 131.1)rotate(-45)"/><use href="#ar" transform="translate(54.5 131.1)rotate(-147)"/><use href="#ar" transform="translate(61.5 131.1)rotate(-161)"/><use href="#ar" transform="translate(268.7 131.1)rotate(113)"/><use href="#ar" transform="translate(275.6 131.1)rotate(108)"/><use href="#ar" transform="translate(303.2 131.1)rotate(80)"/><use href="#ar" transform="translate(310.1 131.1)rotate(72)"/><use href="#ar" transform="translate(26.9 138.2)rotate(-39)"/><use href="#ar" transform="translate(33.8 138.2)rotate(-86)"/><use href="#ar" transform="translate(40.7 138.2)rotate(-92)"/><use href="#ar" transform="translate(47.6 138.2)rotate(-104)"/><use href="#ar" transform="translate(54.5 138.2)rotate(-134)"/><use href="#ar" transform="translate(275.6 138.2)rotate(116)"/><use href="#ar" transform="translate(282.5 138.2)rotate(96)"/><use href="#ar" transform="translate(289.4 138.2)rotate(90)"/><use href="#ar" transform="translate(296.3 138.2)rotate(89)"/><use href="#ar" transform="translate(303.2 138.2)rotate(69)"/></g><g fill="#c8a41a" stroke="#c8a41a"><use href="#ar" transform="translate(40.7 88.9)rotate(-90)"/><use href="#ar" transform="translate(289.4 88.9)rotate(94)"/><use href="#ar" transform="translate(26.9 95.9)rotate(-133)"/><use href="#ar" transform="translate(33.8 95.9)rotate(90)"/><use href="#ar" transform="translate(40.7 95.9)rotate(90)"/><use href="#ar" transform="translate(47.6 95.9)rotate(90)"/><use href="#ar" transform="translate(54.5 95.9)rotate(-23)"/><use href="#ar" transform="translate(275.6 95.9)rotate(25)"/><use href="#ar" transform="translate(282.5 95.9)rotate(-90)"/><use href="#ar" transform="translate(289.4 95.9)rotate(-90)"/><use href="#ar" transform="translate(296.3 95.9)rotate(-90)"/><use href="#ar" transform="translate(303.2 95.9)rotate(145)"/><use href="#ar" transform="translate(20 103)rotate(172)"/><use href="#ar" transform="translate(26.9 103)rotate(90)"/><use href="#ar" transform="translate(33.8 103)rotate(90)"/><use href="#ar" transform="translate(40.7 103)rotate(90)"/><use href="#ar" transform="translate(47.6 103)rotate(90)"/><use href="#ar" transform="translate(54.5 103)rotate(90)"/><use href="#ar" transform="translate(61.5 103)rotate(22)"/><use href="#ar" transform="translate(268.7 103)rotate(2)"/><use href="#ar" transform="translate(275.6 103)rotate(-90)"/><use href="#ar" transform="translate(282.5 103)rotate(-90)"/><use href="#ar" transform="translate(289.4 103)rotate(-90)"/><use href="#ar" transform="translate(296.3 103)rotate(-90)"/><use href="#ar" transform="translate(303.2 103)rotate(-90)"/><use href="#ar" transform="translate(310.1 103)rotate(175)"/><use href="#ar" transform="translate(20 110)rotate(162)"/><use href="#ar" transform="translate(26.9 110)rotate(90)"/><use href="#ar" transform="translate(33.8 110)rotate(90)"/><use href="#ar" transform="translate(40.7 110)rotate(90)"/><use href="#ar" transform="translate(47.6 110)rotate(90)"/><use href="#ar" transform="translate(54.5 110)rotate(90)"/><use href="#ar" transform="translate(61.5 110)rotate(82)"/><use href="#ar" transform="translate(268.7 110)rotate(0)"/><use href="#ar" transform="translate(275.6 110)rotate(-90)"/><use href="#ar" transform="translate(282.5 110)rotate(-90)"/><use href="#ar" transform="translate(289.4 110)rotate(-90)"/><use href="#ar" transform="translate(296.3 110)rotate(-90)"/><use href="#ar" transform="translate(303.2 110)rotate(-90)"/><use href="#ar" transform="translate(310.1 110)rotate(180)"/><use href="#ar" transform="translate(20 117)rotate(160)"/><use href="#ar" transform="translate(26.9 117)rotate(90)"/><use href="#ar" transform="translate(33.8 117)rotate(90)"/><use href="#ar" transform="translate(40.7 117)rotate(90)"/><use href="#ar" transform="translate(47.6 117)rotate(90)"/><use href="#ar" transform="translate(54.5 117)rotate(90)"/><use href="#ar" transform="translate(61.5 117)rotate(164)"/><use href="#ar" transform="translate(268.7 117)rotate(3)"/><use href="#ar" transform="translate(275.6 117)rotate(-90)"/><use href="#ar" transform="translate(282.5 117)rotate(-90)"/><use href="#ar" transform="translate(289.4 117)rotate(-90)"/><use href="#ar" transform="translate(296.3 117)rotate(-90)"/><use href="#ar" transform="translate(303.2 117)rotate(-90)"/><use href="#ar" transform="translate(310.1 117)rotate(175)"/><use href="#ar" transform="translate(26.9 124.1)rotate(-94)"/><use href="#ar" transform="translate(33.8 124.1)rotate(90)"/><use href="#ar" transform="translate(40.7 124.1)rotate(90)"/><use href="#ar" transform="translate(47.6 124.1)rotate(90)"/><use href="#ar" transform="translate(54.5 124.1)rotate(90)"/><use href="#ar" transform="translate(275.6 124.1)rotate(71)"/><use href="#ar" transform="translate(282.5 124.1)rotate(-90)"/><use href="#ar" transform="translate(289.4 124.1)rotate(-90)"/><use href="#ar" transform="translate(296.3 124.1)rotate(-90)"/><use href="#ar" transform="translate(303.2 124.1)rotate(-90)"/><use href="#ar" transform="translate(33.8 131.1)rotate(-88)"/><use href="#ar" transform="translate(40.7 131.1)rotate(-102)"/><use href="#ar" transform="translate(47.6 131.1)rotate(-121)"/><use href="#ar" transform="translate(282.5 131.1)rotate(97)"/><use href="#ar" transform="translate(289.4 131.1)rotate(93)"/><use href="#ar" transform="translate(296.3 131.1)rotate(91)"/></g><ellipse cx="164.5" cy="111.0" rx="104.0" ry="106.5" fill="none" stroke="#555" stroke-width="1"/><ellipse cx="40.7" cy="109.8" rx="19.1" ry="18.4" fill="none" stroke="#555" stroke-width="0.9"/><ellipse cx="40.5" cy="110.5" rx="15.5" ry="14.9" fill="none" stroke="#333" stroke-width="0.9"/><ellipse cx="288.5" cy="111.2" rx="19.35" ry="19.65" fill="none" stroke="#555" stroke-width="0.9"/><ellipse cx="288.5" cy="111.8" rx="15.8" ry="15.5" fill="none" stroke="#333" stroke-width="0.9"/><path d="M41.6 62.1L50.5 71L45.4 71L45.4 86.9L37.9 86.9L37.9 71L32.8 71Z" fill="none" stroke="#ff0000" stroke-width="1.5"/><path d="M40.3 123.4L48.7 114.9L43.6 114.9L43.6 98.9L37 98.9L37 114.9L31.9 114.9Z" fill="none" stroke="#ff0000" stroke-width="1.5"/><path d="M41 142.9L49.5 151.8L44.5 151.8L44.5 167.8L37.5 167.8L37.5 151.8L32.5 151.8Z" fill="none" stroke="#ff0000" stroke-width="1.5"/><path d="M6.3 124.3L12.2 117.7L8.5 117.7L8.5 105.3L4.1 105.3L4.1 117.7L0.3 117.7Z" fill="none" stroke="#ff0000" stroke-width="1.5"/><path d="M96 123.3L104.5 115.5L99.8 115.5L99.8 98.9L92.2 98.9L92.2 115.5L87.5 115.5Z" fill="none" stroke="#ff0000" stroke-width="1.5"/><path d="M241 98.2L249.4 106.4L244.7 106.4L244.7 122.1L237.3 122.1L237.3 106.4L232.6 106.4Z" fill="none" stroke="#ff0000" stroke-width="1.5"/><path d="M289.4 87.4L297.9 79.4L293.8 79.4L293.8 63.5L285 63.5L285 79.4L280.9 79.4Z" fill="none" stroke="#ff0000" stroke-width="1.5"/><path d="M289.4 158.7L297.9 150.1L293.8 150.1L293.8 134.3L285 134.3L285 150.1L280.9 150.1Z" fill="none" stroke="#ff0000" stroke-width="1.5"/><path d="M36 130.8H43.4V129.4L47.4 132.4L43.4 135.4V134H36Z" fill="#c8001c" stroke="#8aa8d0" stroke-width="0.5"/><text x="0" y="0" font-size="13.5" font-weight="bold" fill="#111" transform="translate(52.6 140.5) scale(0.8 1)">F</text><text x="0" y="0" font-size="19.78" font-weight="bold" fill="#111" transform="translate(13.40 27.05) scale(0.829 1)">(a)</text><path d="M269.3 185V161.3" stroke="#e8101c" stroke-width="4.2"/><path d="M269.3 156.3L266 161.8H272.6Z" fill="#e8101c"/><path d="M269.3 184L260 205.1" stroke="#1a9a4a" stroke-width="4"/><path d="M268.3 184H302.6" stroke="#3c6ccc" stroke-width="4.2"/><path d="M307.6 184L301.6 180.5V187.5Z" fill="#3c6ccc"/><text x="274.4" y="152.7" font-size="10" font-weight="bold" fill="#111">Z</text><text x="300.5" y="180.7" font-size="10" font-weight="bold" fill="#111">X</text><text x="274.4" y="203.9" font-size="10" font-weight="bold" fill="#111">Y</text><rect x="374.8" y="6.3" width="12" height="206.9" fill="url(#cbA)"/><path d="M374.3 6.3V213.2" stroke="#222" stroke-width="1"/><path d="M366.8 6.3H374.8" stroke="#222" stroke-width="1"/><text x="362" y="9.6" font-size="9.2" fill="#222" text-anchor="end">2.2e+10</text><path d="M369.8 12.6H374.8" stroke="#222" stroke-width="1"/><path d="M369.8 18.8H374.8" stroke="#222" stroke-width="1"/><path d="M366.8 25.1H374.8" stroke="#222" stroke-width="1"/><text x="362" y="28.4" font-size="9.2" fill="#222" text-anchor="end">9.52e+08</text><path d="M369.8 31.4H374.8" stroke="#222" stroke-width="1"/><path d="M369.8 37.6H374.8" stroke="#222" stroke-width="1"/><path d="M366.8 43.9H374.8" stroke="#222" stroke-width="1"/><text x="362" y="47.2" font-size="9.2" fill="#222" text-anchor="end">4.12e+07</text><path d="M369.8 50.2H374.8" stroke="#222" stroke-width="1"/><path d="M369.8 56.5H374.8" stroke="#222" stroke-width="1"/><path d="M366.8 62.7H374.8" stroke="#222" stroke-width="1"/><text x="362" y="66" font-size="9.2" fill="#222" text-anchor="end">1.78e+06</text><path d="M369.8 69H374.8" stroke="#222" stroke-width="1"/><path d="M369.8 75.3H374.8" stroke="#222" stroke-width="1"/><path d="M366.8 81.5H374.8" stroke="#222" stroke-width="1"/><text x="362" y="84.8" font-size="9.2" fill="#222" text-anchor="end">77180</text><path d="M369.8 87.8H374.8" stroke="#222" stroke-width="1"/><path d="M369.8 94.1H374.8" stroke="#222" stroke-width="1"/><path d="M366.8 100.3H374.8" stroke="#222" stroke-width="1"/><text x="362" y="103.7" font-size="9.2" fill="#222" text-anchor="end">3341</text><path d="M369.8 106.6H374.8" stroke="#222" stroke-width="1"/><path d="M369.8 112.9H374.8" stroke="#222" stroke-width="1"/><path d="M366.8 119.2H374.8" stroke="#222" stroke-width="1"/><text x="362" y="122.5" font-size="9.2" fill="#222" text-anchor="end">145</text><path d="M369.8 125.4H374.8" stroke="#222" stroke-width="1"/><path d="M369.8 131.7H374.8" stroke="#222" stroke-width="1"/><path d="M366.8 138H374.8" stroke="#222" stroke-width="1"/><text x="362" y="141.3" font-size="9.2" fill="#222" text-anchor="end">6.26</text><path d="M369.8 144.2H374.8" stroke="#222" stroke-width="1"/><path d="M369.8 150.5H374.8" stroke="#222" stroke-width="1"/><path d="M366.8 156.8H374.8" stroke="#222" stroke-width="1"/><text x="362" y="160.1" font-size="9.2" fill="#222" text-anchor="end">0.271</text><path d="M369.8 163H374.8" stroke="#222" stroke-width="1"/><path d="M369.8 169.3H374.8" stroke="#222" stroke-width="1"/><path d="M366.8 175.6H374.8" stroke="#222" stroke-width="1"/><text x="362" y="178.9" font-size="9.2" fill="#222" text-anchor="end">0.0117</text><path d="M369.8 181.9H374.8" stroke="#222" stroke-width="1"/><path d="M369.8 188.1H374.8" stroke="#222" stroke-width="1"/><path d="M366.8 194.4H374.8" stroke="#222" stroke-width="1"/><text x="362" y="197.7" font-size="9.2" fill="#222" text-anchor="end">0.000486</text><path d="M369.8 200.7H374.8" stroke="#222" stroke-width="1"/><path d="M369.8 206.9H374.8" stroke="#222" stroke-width="1"/><path d="M366.8 213.2H374.8" stroke="#222" stroke-width="1"/><text x="362" y="216.5" font-size="9.2" fill="#222" text-anchor="end">1.57e-11</text><path d="M374.5 6.3L366.5 2.5V10Z" fill="#111"/><path d="M374.5 213.2L370.5 209.5L366.5 213.2L370.5 217Z" fill="#111"/><text transform="translate(384.2 99.5) rotate(-90)" font-size="10.5" font-weight="bold" fill="#111" text-anchor="middle">V/m (log)</text><rect x="316.5" y="232" width="71.5" height="219" fill="#f7f7f7"/><ellipse cx="161.9" cy="340.4" rx="104.2" ry="104.4" fill="#fbf1f1"/><circle cx="37.2" cy="340.3" r="19.2" fill="#cbeef3"/><circle cx="38.0" cy="340.7" r="15.4" fill="#d6e8ee"/><circle cx="286.0" cy="340.6" r="19.0" fill="#cbeef3"/><circle cx="286.6" cy="341.0" r="15.2" fill="#d6e8ee"/><g fill="#22a046" stroke="#22a046"><use href="#ac" transform="translate(4.8 230.1)rotate(-90)"/><use href="#ac" transform="translate(11.8 230.1)rotate(-90)"/><use href="#ac" transform="translate(18.7 230.1)rotate(-91)"/><use href="#ac" transform="translate(25.7 230.1)rotate(-92)"/><use href="#ac" transform="translate(32.6 230.1)rotate(-91)"/><use href="#ac" transform="translate(39.5 230.1)rotate(-91)"/><use href="#ac" transform="translate(46.5 230.1)rotate(-92)"/><use href="#ac" transform="translate(53.4 230.1)rotate(-97)"/><use href="#ac" transform="translate(60.4 230.1)rotate(-103)"/><use href="#ac" transform="translate(67.4 230.1)rotate(-107)"/><use href="#ac" transform="translate(74.3 230.1)rotate(-109)"/><use href="#ac" transform="translate(81.2 230.1)rotate(-109)"/><use href="#ac" transform="translate(88.2 230.1)rotate(-108)"/><use href="#ac" transform="translate(95.2 230.1)rotate(-104)"/><use href="#ac" transform="translate(102.1 230.1)rotate(-101)"/><use href="#ac" transform="translate(109 230.1)rotate(-100)"/><use href="#ac" transform="translate(116 230.1)rotate(-100)"/><use href="#ac" transform="translate(123 230.1)rotate(-98)"/><use href="#ac" transform="translate(129.9 230.1)rotate(-94)"/><use href="#ac" transform="translate(136.9 230.1)rotate(-91)"/><use href="#ac" transform="translate(143.8 230.1)rotate(-90)"/><use href="#ac" transform="translate(150.8 230.1)rotate(-90)"/><use href="#ac" transform="translate(157.7 230.1)rotate(-89)"/><use href="#ac" transform="translate(164.7 230.1)rotate(-88)"/><use href="#ac" transform="translate(171.6 230.1)rotate(-86)"/><use href="#ac" transform="translate(178.6 230.1)rotate(-85)"/><use href="#ac" transform="translate(185.5 230.1)rotate(-85)"/><use href="#ac" transform="translate(192.5 230.1)rotate(-88)"/><use href="#ac" transform="translate(199.4 230.1)rotate(-89)"/><use href="#ac" transform="translate(206.4 230.1)rotate(-86)"/><use href="#ac" transform="translate(213.3 230.1)rotate(-73)"/><use href="#ac" transform="translate(220.3 230.1)rotate(-63)"/><use href="#ac" transform="translate(227.2 230.1)rotate(-61)"/><use href="#ac" transform="translate(234.2 230.1)rotate(-65)"/><use href="#ac" transform="translate(241.1 230.1)rotate(-70)"/><use href="#ac" transform="translate(248.1 230.1)rotate(-71)"/><use href="#ac" transform="translate(255 230.1)rotate(-74)"/><use href="#ac" transform="translate(262 230.1)rotate(-81)"/><use href="#ac" transform="translate(268.9 230.1)rotate(-90)"/><use href="#ac" transform="translate(275.9 230.1)rotate(-91)"/><use href="#ac" transform="translate(282.8 230.1)rotate(-91)"/><use href="#ac" transform="translate(289.8 230.1)rotate(-96)"/><use href="#ac" transform="translate(296.7 230.1)rotate(-103)"/><use href="#ac" transform="translate(303.7 230.1)rotate(-102)"/><use href="#ac" transform="translate(310.6 230.1)rotate(-101)"/><use href="#ac" transform="translate(4.8 237)rotate(-90)"/><use href="#ac" transform="translate(11.8 237)rotate(-90)"/><use href="#ac" transform="translate(18.7 237)rotate(-91)"/><use href="#ac" transform="translate(25.7 237)rotate(-92)"/><use href="#ac" transform="translate(32.6 237)rotate(-91)"/><use href="#ac" transform="translate(39.5 237)rotate(-90)"/><use href="#ac" transform="translate(46.5 237)rotate(-92)"/><use href="#ac" transform="translate(53.4 237)rotate(-99)"/><use href="#ac" transform="translate(60.4 237)rotate(-106)"/><use href="#ac" transform="translate(67.4 237)rotate(-109)"/><use href="#ac" transform="translate(74.3 237)rotate(-110)"/><use href="#ac" transform="translate(81.2 237)rotate(-110)"/><use href="#ac" transform="translate(88.2 237)rotate(-108)"/><use href="#ac" transform="translate(95.2 237)rotate(-104)"/><use href="#ac" transform="translate(102.1 237)rotate(-101)"/><use href="#ac" transform="translate(109 237)rotate(-100)"/><use href="#ac" transform="translate(116 237)rotate(-100)"/><use href="#ac" transform="translate(123 237)rotate(-98)"/><use href="#ac" transform="translate(129.9 237)rotate(-94)"/><use href="#ac" transform="translate(136.9 237)rotate(-91)"/><use href="#ac" transform="translate(143.8 237)rotate(-90)"/><use href="#ac" transform="translate(150.8 237)rotate(-90)"/><use href="#ac" transform="translate(157.7 237)rotate(-90)"/><use href="#ac" transform="translate(164.7 237)rotate(-88)"/><use href="#ac" transform="translate(171.6 237)rotate(-85)"/><use href="#ac" transform="translate(178.6 237)rotate(-84)"/><use href="#ac" transform="translate(185.5 237)rotate(-85)"/><use href="#ac" transform="translate(192.5 237)rotate(-88)"/><use href="#ac" transform="translate(199.4 237)rotate(-90)"/><use href="#ac" transform="translate(206.4 237)rotate(-87)"/><use href="#ac" transform="translate(213.3 237)rotate(-72)"/><use href="#ac" transform="translate(220.3 237)rotate(-61)"/><use href="#ac" transform="translate(227.2 237)rotate(-60)"/><use href="#ac" transform="translate(234.2 237)rotate(-64)"/><use href="#ac" transform="translate(241.1 237)rotate(-70)"/><use href="#ac" transform="translate(248.1 237)rotate(-70)"/><use href="#ac" transform="translate(255 237)rotate(-71)"/><use href="#ac" transform="translate(262 237)rotate(-79)"/><use href="#ac" transform="translate(268.9 237)rotate(-90)"/><use href="#ac" transform="translate(275.9 237)rotate(-91)"/><use href="#ac" transform="translate(282.8 237)rotate(-90)"/><use href="#ac" transform="translate(289.8 237)rotate(-97)"/><use href="#ac" transform="translate(296.7 237)rotate(-105)"/><use href="#ac" transform="translate(303.7 237)rotate(-102)"/><use href="#ac" transform="translate(310.6 237)rotate(-100)"/><use href="#ac" transform="translate(4.8 243.9)rotate(-90)"/><use href="#ac" transform="translate(11.8 243.9)rotate(-91)"/><use href="#ac" transform="translate(18.7 243.9)rotate(-92)"/><use href="#ac" transform="translate(25.7 243.9)rotate(-95)"/><use href="#ac" transform="translate(32.6 243.9)rotate(-94)"/><use href="#ac" transform="translate(39.5 243.9)rotate(-94)"/><use href="#ac" transform="translate(46.5 243.9)rotate(-98)"/><use href="#ac" transform="translate(53.4 243.9)rotate(-109)"/><use href="#ac" transform="translate(60.4 243.9)rotate(-113)"/><use href="#ac" transform="translate(67.4 243.9)rotate(-111)"/><use href="#ac" transform="translate(74.3 243.9)rotate(-109)"/><use href="#ac" transform="translate(81.2 243.9)rotate(-109)"/><use href="#ac" transform="translate(88.2 243.9)rotate(-108)"/><use href="#ac" transform="translate(95.2 243.9)rotate(-105)"/><use href="#ac" transform="translate(102.1 243.9)rotate(-101)"/><use href="#ac" transform="translate(109 243.9)rotate(-100)"/><use href="#ac" transform="translate(116 243.9)rotate(-99)"/><use href="#ac" transform="translate(123 243.9)rotate(-97)"/><use href="#ac" transform="translate(129.9 243.9)rotate(-94)"/><use href="#ac" transform="translate(136.9 243.9)rotate(-91)"/><use href="#ac" transform="translate(143.8 243.9)rotate(-90)"/><use href="#ac" transform="translate(150.8 243.9)rotate(-90)"/><use href="#ac" transform="translate(157.7 243.9)rotate(-89)"/><use href="#ac" transform="translate(164.7 243.9)rotate(-87)"/><use href="#ac" transform="translate(171.6 243.9)rotate(-85)"/><use href="#ac" transform="translate(178.6 243.9)rotate(-83)"/><use href="#ac" transform="translate(185.5 243.9)rotate(-83)"/><use href="#ac" transform="translate(192.5 243.9)rotate(-85)"/><use href="#ac" transform="translate(199.4 243.9)rotate(-87)"/><use href="#ac" transform="translate(206.4 243.9)rotate(-83)"/><use href="#ac" transform="translate(213.3 243.9)rotate(-72)"/><use href="#ac" transform="translate(220.3 243.9)rotate(-64)"/><use href="#ac" transform="translate(227.2 243.9)rotate(-62)"/><use href="#ac" transform="translate(234.2 243.9)rotate(-66)"/><use href="#ac" transform="translate(241.1 243.9)rotate(-70)"/><use href="#ac" transform="translate(248.1 243.9)rotate(-70)"/><use href="#ac" transform="translate(255 243.9)rotate(-72)"/><use href="#ac" transform="translate(262 243.9)rotate(-81)"/><use href="#ac" transform="translate(268.9 243.9)rotate(-94)"/><use href="#ac" transform="translate(275.9 243.9)rotate(-96)"/><use href="#ac" transform="translate(282.8 243.9)rotate(-97)"/><use href="#ac" transform="translate(289.8 243.9)rotate(-110)"/><use href="#ac" transform="translate(296.7 243.9)rotate(-118)"/><use href="#ac" transform="translate(303.7 243.9)rotate(-110)"/><use href="#ac" transform="translate(310.6 243.9)rotate(-105)"/><use href="#ac" transform="translate(4.8 250.8)rotate(-91)"/><use href="#ac" transform="translate(11.8 250.8)rotate(-92)"/><use href="#ac" transform="translate(18.7 250.8)rotate(-95)"/><use href="#ac" transform="translate(25.7 250.8)rotate(-101)"/><use href="#ac" transform="translate(32.6 250.8)rotate(-107)"/><use href="#ac" transform="translate(39.5 250.8)rotate(-116)"/><use href="#ac" transform="translate(46.5 250.8)rotate(-132)"/><use href="#ac" transform="translate(53.4 250.8)rotate(-139)"/><use href="#ac" transform="translate(60.4 250.8)rotate(-129)"/><use href="#ac" transform="translate(67.4 250.8)rotate(-116)"/><use href="#ac" transform="translate(74.3 250.8)rotate(-110)"/><use href="#ac" transform="translate(81.2 250.8)rotate(-109)"/><use href="#ac" transform="translate(88.2 250.8)rotate(-108)"/><use href="#ac" transform="translate(95.2 250.8)rotate(-107)"/><use href="#ac" transform="translate(102.1 250.8)rotate(-103)"/><use href="#ac" transform="translate(109 250.8)rotate(-100)"/><use href="#ac" transform="translate(116 250.8)rotate(-99)"/><use href="#ac" transform="translate(123 250.8)rotate(-97)"/><use href="#ac" transform="translate(129.9 250.8)rotate(-94)"/><use href="#ac" transform="translate(136.9 250.8)rotate(-92)"/><use href="#ac" transform="translate(143.8 250.8)rotate(-90)"/><use href="#ac" transform="translate(150.8 250.8)rotate(-89)"/><use href="#ac" transform="translate(157.7 250.8)rotate(-88)"/><use href="#ac" transform="translate(164.7 250.8)rotate(-86)"/><use href="#ac" transform="translate(171.6 250.8)rotate(-84)"/><use href="#ac" transform="translate(178.6 250.8)rotate(-80)"/><use href="#ac" transform="translate(185.5 250.8)rotate(-78)"/><use href="#ac" transform="translate(192.5 250.8)rotate(-78)"/><use href="#ac" transform="translate(199.4 250.8)rotate(-77)"/><use href="#ac" transform="translate(206.4 250.8)rotate(-75)"/><use href="#ac" transform="translate(213.3 250.8)rotate(-71)"/><use href="#ac" transform="translate(220.3 250.8)rotate(-66)"/><use href="#ac" transform="translate(227.2 250.8)rotate(-65)"/><use href="#ac" transform="translate(234.2 250.8)rotate(-67)"/><use href="#ac" transform="translate(241.1 250.8)rotate(-71)"/><use href="#ac" transform="translate(248.1 250.8)rotate(-73)"/><use href="#ac" transform="translate(255 250.8)rotate(-77)"/><use href="#ac" transform="translate(262 250.8)rotate(-92)"/><use href="#ac" transform="translate(268.9 250.8)rotate(-114)"/><use href="#ac" transform="translate(275.9 250.8)rotate(-125)"/><use href="#ac" transform="translate(282.8 250.8)rotate(-141)"/><use href="#ac" transform="translate(289.8 250.8)rotate(-158)"/><use href="#ac" transform="translate(296.7 250.8)rotate(-157)"/><use href="#ac" transform="translate(303.7 250.8)rotate(-143)"/><use href="#ac" transform="translate(310.6 250.8)rotate(-135)"/><use href="#ac" transform="translate(4.8 257.7)rotate(-93)"/><use href="#ac" transform="translate(11.8 257.7)rotate(-96)"/><use href="#ac" transform="translate(18.7 257.7)rotate(-102)"/><use href="#ac" transform="translate(25.7 257.7)rotate(-115)"/><use href="#ac" transform="translate(32.6 257.7)rotate(-134)"/><use href="#ac" transform="translate(39.5 257.7)rotate(-157)"/><use href="#ac" transform="translate(46.5 257.7)rotate(-171)"/><use href="#ac" transform="translate(53.4 257.7)rotate(-171)"/><use href="#ac" transform="translate(60.4 257.7)rotate(-152)"/><use href="#ac" transform="translate(67.4 257.7)rotate(-124)"/><use href="#ac" transform="translate(74.3 257.7)rotate(-111)"/><use href="#ac" transform="translate(81.2 257.7)rotate(-109)"/><use href="#ac" transform="translate(88.2 257.7)rotate(-110)"/><use href="#ac" transform="translate(95.2 257.7)rotate(-109)"/><use href="#ac" transform="translate(102.1 257.7)rotate(-105)"/><use href="#ac" transform="translate(109 257.7)rotate(-101)"/><use href="#ac" transform="translate(116 257.7)rotate(-99)"/><use href="#ac" transform="translate(123 257.7)rotate(-98)"/><use href="#ac" transform="translate(129.9 257.7)rotate(-96)"/><use href="#ac" transform="translate(136.9 257.7)rotate(-92)"/><use href="#ac" transform="translate(143.8 257.7)rotate(-90)"/><use href="#ac" transform="translate(150.8 257.7)rotate(-89)"/><use href="#ac" transform="translate(157.7 257.7)rotate(-88)"/><use href="#ac" transform="translate(164.7 257.7)rotate(-87)"/><use href="#ac" transform="translate(171.6 257.7)rotate(-84)"/><use href="#ac" transform="translate(178.6 257.7)rotate(-78)"/><use href="#ac" transform="translate(185.5 257.7)rotate(-73)"/><use href="#ac" transform="translate(192.5 257.7)rotate(-68)"/><use href="#ac" transform="translate(199.4 257.7)rotate(-66)"/><use href="#ac" transform="translate(206.4 257.7)rotate(-66)"/><use href="#ac" transform="translate(213.3 257.7)rotate(-66)"/><use href="#ac" transform="translate(220.3 257.7)rotate(-65)"/><use href="#ac" transform="translate(227.2 257.7)rotate(-65)"/><use href="#ac" transform="translate(234.2 257.7)rotate(-66)"/><use href="#ac" transform="translate(241.1 257.7)rotate(-70)"/><use href="#ac" transform="translate(248.1 257.7)rotate(-78)"/><use href="#ac" transform="translate(255 257.7)rotate(-96)"/><use href="#ac" transform="translate(262 257.7)rotate(-137)"/><use href="#ac" transform="translate(268.9 257.7)rotate(-166)"/><use href="#ac" transform="translate(275.9 257.7)rotate(-176)"/><use href="#ac" transform="translate(282.8 257.7)rotate(172)"/><use href="#ac" transform="translate(289.8 257.7)rotate(166)"/><use href="#ac" transform="translate(296.7 257.7)rotate(173)"/><use href="#ac" transform="translate(303.7 257.7)rotate(-175)"/><use href="#ac" transform="translate(310.6 257.7)rotate(-170)"/><use href="#ac" transform="translate(4.8 264.6)rotate(-94)"/><use href="#ac" transform="translate(11.8 264.6)rotate(-102)"/><use href="#ac" transform="translate(18.7 264.6)rotate(-132)"/><use href="#ac" transform="translate(25.7 264.6)rotate(-163)"/><use href="#ac" transform="translate(32.6 264.6)rotate(-166)"/><use href="#ac" transform="translate(39.5 264.6)rotate(-173)"/><use href="#ac" transform="translate(46.5 264.6)rotate(-179)"/><use href="#ac" transform="translate(53.4 264.6)rotate(-179)"/><use href="#ac" transform="translate(60.4 264.6)rotate(-162)"/><use href="#ac" transform="translate(67.4 264.6)rotate(-125)"/><use href="#ac" transform="translate(74.3 264.6)rotate(-109)"/><use href="#ac" transform="translate(81.2 264.6)rotate(-107)"/><use href="#ac" transform="translate(88.2 264.6)rotate(-109)"/><use href="#ac" transform="translate(95.2 264.6)rotate(-108)"/><use href="#ac" transform="translate(102.1 264.6)rotate(-104)"/><use href="#ac" transform="translate(109 264.6)rotate(-100)"/><use href="#ac" transform="translate(116 264.6)rotate(-100)"/><use href="#ac" transform="translate(123 264.6)rotate(-99)"/><use href="#ac" transform="translate(129.9 264.6)rotate(-97)"/><use href="#ac" transform="translate(136.9 264.6)rotate(-93)"/><use href="#ac" transform="translate(143.8 264.6)rotate(-89)"/><use href="#ac" transform="translate(150.8 264.6)rotate(-89)"/><use href="#ac" transform="translate(157.7 264.6)rotate(-89)"/><use href="#ac" transform="translate(164.7 264.6)rotate(-89)"/><use href="#ac" transform="translate(171.6 264.6)rotate(-85)"/><use href="#ac" transform="translate(178.6 264.6)rotate(-77)"/><use href="#ac" transform="translate(185.5 264.6)rotate(-69)"/><use href="#ac" transform="translate(192.5 264.6)rotate(-63)"/><use href="#ac" transform="translate(199.4 264.6)rotate(-61)"/><use href="#ac" transform="translate(206.4 264.6)rotate(-61)"/><use href="#ac" transform="translate(213.3 264.6)rotate(-62)"/><use href="#ac" transform="translate(220.3 264.6)rotate(-61)"/><use href="#ac" transform="translate(227.2 264.6)rotate(-58)"/><use href="#ac" transform="translate(234.2 264.6)rotate(-57)"/><use href="#ac" transform="translate(241.1 264.6)rotate(-62)"/><use href="#ac" transform="translate(248.1 264.6)rotate(-81)"/><use href="#ac" transform="translate(255 264.6)rotate(-150)"/><use href="#ac" transform="translate(262 264.6)rotate(168)"/><use href="#ac" transform="translate(268.9 264.6)rotate(160)"/><use href="#ac" transform="translate(275.9 264.6)rotate(163)"/><use href="#ac" transform="translate(282.8 264.6)rotate(163)"/><use href="#ac" transform="translate(289.8 264.6)rotate(160)"/><use href="#ac" transform="translate(296.7 264.6)rotate(165)"/><use href="#ac" transform="translate(303.7 264.6)rotate(179)"/><use href="#ac" transform="translate(310.6 264.6)rotate(-179)"/><use href="#ac" transform="translate(4.8 271.5)rotate(-93)"/><use href="#ac" transform="translate(11.8 271.5)rotate(113)"/><use href="#ac" transform="translate(18.7 271.5)rotate(98)"/><use href="#ac" transform="translate(25.7 271.5)rotate(103)"/><use href="#ac" transform="translate(32.6 271.5)rotate(138)"/><use href="#ac" transform="translate(39.5 271.5)rotate(-180)"/><use href="#ac" transform="translate(46.5 271.5)rotate(-177)"/><use href="#ac" transform="translate(53.4 271.5)rotate(-174)"/><use href="#ac" transform="translate(60.4 271.5)rotate(-151)"/><use href="#ac" transform="translate(67.4 271.5)rotate(-112)"/><use href="#ac" transform="translate(74.3 271.5)rotate(-100)"/><use href="#ac" transform="translate(81.2 271.5)rotate(-101)"/><use href="#ac" transform="translate(88.2 271.5)rotate(-104)"/><use href="#ac" transform="translate(95.2 271.5)rotate(-104)"/><use href="#ac" transform="translate(102.1 271.5)rotate(-101)"/><use href="#ac" transform="translate(109 271.5)rotate(-99)"/><use href="#ac" transform="translate(116 271.5)rotate(-100)"/><use href="#ac" transform="translate(123 271.5)rotate(-100)"/><use href="#ac" transform="translate(129.9 271.5)rotate(-97)"/><use href="#ac" transform="translate(136.9 271.5)rotate(-92)"/><use href="#ac" transform="translate(143.8 271.5)rotate(-89)"/><use href="#ac" transform="translate(150.8 271.5)rotate(-89)"/><use href="#ac" transform="translate(157.7 271.5)rotate(-90)"/><use href="#ac" transform="translate(164.7 271.5)rotate(-89)"/><use href="#ac" transform="translate(171.6 271.5)rotate(-85)"/><use href="#ac" transform="translate(178.6 271.5)rotate(-76)"/><use href="#ac" transform="translate(185.5 271.5)rotate(-67)"/><use href="#ac" transform="translate(192.5 271.5)rotate(-61)"/><use href="#ac" transform="translate(199.4 271.5)rotate(-60)"/><use href="#ac" transform="translate(206.4 271.5)rotate(-60)"/><use href="#ac" transform="translate(213.3 271.5)rotate(-59)"/><use href="#ac" transform="translate(220.3 271.5)rotate(-54)"/><use href="#ac" transform="translate(227.2 271.5)rotate(-46)"/><use href="#ac" transform="translate(234.2 271.5)rotate(-38)"/><use href="#ac" transform="translate(241.1 271.5)rotate(-36)"/><use href="#ac" transform="translate(248.1 271.5)rotate(-51)"/><use href="#ac" transform="translate(255 271.5)rotate(169)"/><use href="#ac" transform="translate(262 271.5)rotate(154)"/><use href="#ac" transform="translate(268.9 271.5)rotate(151)"/><use href="#ac" transform="translate(275.9 271.5)rotate(154)"/><use href="#ac" transform="translate(282.8 271.5)rotate(162)"/><use href="#ac" transform="translate(289.8 271.5)rotate(163)"/><use href="#ac" transform="translate(296.7 271.5)rotate(169)"/><use href="#ac" transform="translate(303.7 271.5)rotate(179)"/><use href="#ac" transform="translate(310.6 271.5)rotate(-180)"/><use href="#ac" transform="translate(4.8 278.4)rotate(-87)"/><use href="#ac" transform="translate(11.8 278.4)rotate(90)"/><use href="#ac" transform="translate(18.7 278.4)rotate(91)"/><use href="#ac" transform="translate(25.7 278.4)rotate(91)"/><use href="#ac" transform="translate(32.6 278.4)rotate(96)"/><use href="#ac" transform="translate(39.5 278.4)rotate(144)"/><use href="#ac" transform="translate(46.5 278.4)rotate(-170)"/><use href="#ac" transform="translate(53.4 278.4)rotate(-152)"/><use href="#ac" transform="translate(60.4 278.4)rotate(-116)"/><use href="#ac" transform="translate(67.4 278.4)rotate(-95)"/><use href="#ac" transform="translate(74.3 278.4)rotate(-91)"/><use href="#ac" transform="translate(81.2 278.4)rotate(-93)"/><use href="#ac" transform="translate(88.2 278.4)rotate(-96)"/><use href="#ac" transform="translate(95.2 278.4)rotate(-97)"/><use href="#ac" transform="translate(102.1 278.4)rotate(-97)"/><use href="#ac" transform="translate(109 278.4)rotate(-97)"/><use href="#ac" transform="translate(116 278.4)rotate(-98)"/><use href="#ac" transform="translate(123 278.4)rotate(-98)"/><use href="#ac" transform="translate(129.9 278.4)rotate(-95)"/><use href="#ac" transform="translate(136.9 278.4)rotate(-90)"/><use href="#ac" transform="translate(143.8 278.4)rotate(-87)"/><use href="#ac" transform="translate(150.8 278.4)rotate(-87)"/><use href="#ac" transform="translate(157.7 278.4)rotate(-88)"/><use href="#ac" transform="translate(164.7 278.4)rotate(-87)"/><use href="#ac" transform="translate(171.6 278.4)rotate(-82)"/><use href="#ac" transform="translate(178.6 278.4)rotate(-74)"/><use href="#ac" transform="translate(185.5 278.4)rotate(-66)"/><use href="#ac" transform="translate(192.5 278.4)rotate(-62)"/><use href="#ac" transform="translate(199.4 278.4)rotate(-60)"/><use href="#ac" transform="translate(206.4 278.4)rotate(-59)"/><use href="#ac" transform="translate(213.3 278.4)rotate(-55)"/><use href="#ac" transform="translate(220.3 278.4)rotate(-44)"/><use href="#ac" transform="translate(227.2 278.4)rotate(-29)"/><use href="#ac" transform="translate(234.2 278.4)rotate(-19)"/><use href="#ac" transform="translate(241.1 278.4)rotate(-15)"/><use href="#ac" transform="translate(248.1 278.4)rotate(-16)"/><use href="#ac" transform="translate(255 278.4)rotate(151)"/><use href="#ac" transform="translate(262 278.4)rotate(152)"/><use href="#ac" transform="translate(268.9 278.4)rotate(151)"/><use href="#ac" transform="translate(275.9 278.4)rotate(153)"/><use href="#ac" transform="translate(282.8 278.4)rotate(163)"/><use href="#ac" transform="translate(289.8 278.4)rotate(169)"/><use href="#ac" transform="translate(296.7 278.4)rotate(173)"/><use href="#ac" transform="translate(303.7 278.4)rotate(178)"/><use href="#ac" transform="translate(310.6 278.4)rotate(-180)"/><use href="#ac" transform="translate(4.8 285.3)rotate(-88)"/><use href="#ac" transform="translate(11.8 285.3)rotate(68)"/><use href="#ac" transform="translate(18.7 285.3)rotate(90)"/><use href="#ac" transform="translate(25.7 285.3)rotate(90)"/><use href="#ac" transform="translate(32.6 285.3)rotate(90)"/><use href="#ac" transform="translate(39.5 285.3)rotate(85)"/><use href="#ac" transform="translate(46.5 285.3)rotate(-62)"/><use href="#ac" transform="translate(53.4 285.3)rotate(-84)"/><use href="#ac" transform="translate(60.4 285.3)rotate(-88)"/><use href="#ac" transform="translate(67.4 285.3)rotate(-90)"/><use href="#ac" transform="translate(74.3 285.3)rotate(-90)"/><use href="#ac" transform="translate(81.2 285.3)rotate(-90)"/><use href="#ac" transform="translate(88.2 285.3)rotate(-91)"/><use href="#ac" transform="translate(95.2 285.3)rotate(-92)"/><use href="#ac" transform="translate(102.1 285.3)rotate(-92)"/><use href="#ac" transform="translate(109 285.3)rotate(-92)"/><use href="#ac" transform="translate(116 285.3)rotate(-92)"/><use href="#ac" transform="translate(123 285.3)rotate(-92)"/><use href="#ac" transform="translate(129.9 285.3)rotate(-89)"/><use href="#ac" transform="translate(136.9 285.3)rotate(-85)"/><use href="#ac" transform="translate(143.8 285.3)rotate(-83)"/><use href="#ac" transform="translate(150.8 285.3)rotate(-83)"/><use href="#ac" transform="translate(157.7 285.3)rotate(-83)"/><use href="#ac" transform="translate(164.7 285.3)rotate(-81)"/><use href="#ac" transform="translate(171.6 285.3)rotate(-77)"/><use href="#ac" transform="translate(178.6 285.3)rotate(-71)"/><use href="#ac" transform="translate(185.5 285.3)rotate(-65)"/><use href="#ac" transform="translate(192.5 285.3)rotate(-61)"/><use href="#ac" transform="translate(199.4 285.3)rotate(-59)"/><use href="#ac" transform="translate(206.4 285.3)rotate(-55)"/><use href="#ac" transform="translate(213.3 285.3)rotate(-47)"/><use href="#ac" transform="translate(220.3 285.3)rotate(-33)"/><use href="#ac" transform="translate(227.2 285.3)rotate(-18)"/><use href="#ac" transform="translate(234.2 285.3)rotate(-12)"/><use href="#ac" transform="translate(241.1 285.3)rotate(-10)"/><use href="#ac" transform="translate(248.1 285.3)rotate(-10)"/><use href="#ac" transform="translate(255 285.3)rotate(7)"/><use href="#ac" transform="translate(262 285.3)rotate(153)"/><use href="#ac" transform="translate(268.9 285.3)rotate(156)"/><use href="#ac" transform="translate(275.9 285.3)rotate(161)"/><use href="#ac" transform="translate(282.8 285.3)rotate(170)"/><use href="#ac" transform="translate(289.8 285.3)rotate(174)"/><use href="#ac" transform="translate(296.7 285.3)rotate(177)"/><use href="#ac" transform="translate(303.7 285.3)rotate(179)"/><use href="#ac" transform="translate(310.6 285.3)rotate(180)"/><use href="#ac" transform="translate(4.8 292.2)rotate(-89)"/><use href="#ac" transform="translate(11.8 292.2)rotate(-89)"/><use href="#ac" transform="translate(18.7 292.2)rotate(84)"/><use href="#ac" transform="translate(25.7 292.2)rotate(88)"/><use href="#ac" transform="translate(32.6 292.2)rotate(81)"/><use href="#ac" transform="translate(39.5 292.2)rotate(28)"/><use href="#ac" transform="translate(46.5 292.2)rotate(-6)"/><use href="#ac" transform="translate(53.4 292.2)rotate(-21)"/><use href="#ac" transform="translate(60.4 292.2)rotate(-57)"/><use href="#ac" transform="translate(67.4 292.2)rotate(-84)"/><use href="#ac" transform="translate(74.3 292.2)rotate(-89)"/><use href="#ac" transform="translate(81.2 292.2)rotate(-89)"/><use href="#ac" transform="translate(88.2 292.2)rotate(-88)"/><use href="#ac" transform="translate(95.2 292.2)rotate(-86)"/><use href="#ac" transform="translate(102.1 292.2)rotate(-85)"/><use href="#ac" transform="translate(109 292.2)rotate(-84)"/><use href="#ac" transform="translate(116 292.2)rotate(-83)"/><use href="#ac" transform="translate(123 292.2)rotate(-82)"/><use href="#ac" transform="translate(129.9 292.2)rotate(-80)"/><use href="#ac" transform="translate(136.9 292.2)rotate(-79)"/><use href="#ac" transform="translate(143.8 292.2)rotate(-77)"/><use href="#ac" transform="translate(150.8 292.2)rotate(-76)"/><use href="#ac" transform="translate(157.7 292.2)rotate(-75)"/><use href="#ac" transform="translate(164.7 292.2)rotate(-73)"/><use href="#ac" transform="translate(171.6 292.2)rotate(-70)"/><use href="#ac" transform="translate(178.6 292.2)rotate(-66)"/><use href="#ac" transform="translate(185.5 292.2)rotate(-62)"/><use href="#ac" transform="translate(192.5 292.2)rotate(-58)"/><use href="#ac" transform="translate(199.4 292.2)rotate(-54)"/><use href="#ac" transform="translate(206.4 292.2)rotate(-47)"/><use href="#ac" transform="translate(213.3 292.2)rotate(-37)"/><use href="#ac" transform="translate(220.3 292.2)rotate(-23)"/><use href="#ac" transform="translate(227.2 292.2)rotate(-14)"/><use href="#ac" transform="translate(234.2 292.2)rotate(-10)"/><use href="#ac" transform="translate(241.1 292.2)rotate(-10)"/><use href="#ac" transform="translate(248.1 292.2)rotate(-9)"/><use href="#ac" transform="translate(255 292.2)rotate(-1)"/><use href="#ac" transform="translate(262 292.2)rotate(143)"/><use href="#ac" transform="translate(268.9 292.2)rotate(165)"/><use href="#ac" transform="translate(275.9 292.2)rotate(173)"/><use href="#ac" transform="translate(282.8 292.2)rotate(178)"/><use href="#ac" transform="translate(289.8 292.2)rotate(178)"/><use href="#ac" transform="translate(296.7 292.2)rotate(179)"/><use href="#ac" transform="translate(303.7 292.2)rotate(179)"/><use href="#ac" transform="translate(310.6 292.2)rotate(180)"/><use href="#ac" transform="translate(4.8 299.1)rotate(-90)"/><use href="#ac" transform="translate(11.8 299.1)rotate(-90)"/><use href="#ac" transform="translate(18.7 299.1)rotate(-88)"/><use href="#ac" transform="translate(25.7 299.1)rotate(-19)"/><use href="#ac" transform="translate(32.6 299.1)rotate(19)"/><use href="#ac" transform="translate(39.5 299.1)rotate(0)"/><use href="#ac" transform="translate(46.5 299.1)rotate(-1)"/><use href="#ac" transform="translate(53.4 299.1)rotate(-3)"/><use href="#ac" transform="translate(60.4 299.1)rotate(-20)"/><use href="#ac" transform="translate(67.4 299.1)rotate(-61)"/><use href="#ac" transform="translate(74.3 299.1)rotate(-79)"/><use href="#ac" transform="translate(81.2 299.1)rotate(-82)"/><use href="#ac" transform="translate(88.2 299.1)rotate(-81)"/><use href="#ac" transform="translate(95.2 299.1)rotate(-79)"/><use href="#ac" transform="translate(102.1 299.1)rotate(-76)"/><use href="#ac" transform="translate(109 299.1)rotate(-74)"/><use href="#ac" transform="translate(116 299.1)rotate(-72)"/><use href="#ac" transform="translate(123 299.1)rotate(-71)"/><use href="#ac" transform="translate(129.9 299.1)rotate(-71)"/><use href="#ac" transform="translate(136.9 299.1)rotate(-71)"/><use href="#ac" transform="translate(143.8 299.1)rotate(-70)"/><use href="#ac" transform="translate(150.8 299.1)rotate(-69)"/><use href="#ac" transform="translate(157.7 299.1)rotate(-67)"/><use href="#ac" transform="translate(164.7 299.1)rotate(-65)"/><use href="#ac" transform="translate(171.6 299.1)rotate(-63)"/><use href="#ac" transform="translate(178.6 299.1)rotate(-61)"/><use href="#ac" transform="translate(185.5 299.1)rotate(-58)"/><use href="#ac" transform="translate(192.5 299.1)rotate(-53)"/><use href="#ac" transform="translate(199.4 299.1)rotate(-47)"/><use href="#ac" transform="translate(206.4 299.1)rotate(-38)"/><use href="#ac" transform="translate(213.3 299.1)rotate(-26)"/><use href="#ac" transform="translate(220.3 299.1)rotate(-15)"/><use href="#ac" transform="translate(227.2 299.1)rotate(-8)"/><use href="#ac" transform="translate(234.2 299.1)rotate(-7)"/><use href="#ac" transform="translate(241.1 299.1)rotate(-6)"/><use href="#ac" transform="translate(248.1 299.1)rotate(-1)"/><use href="#ac" transform="translate(255 299.1)rotate(8)"/><use href="#ac" transform="translate(262 299.1)rotate(50)"/><use href="#ac" transform="translate(268.9 299.1)rotate(169)"/><use href="#ac" transform="translate(275.9 299.1)rotate(178)"/><use href="#ac" transform="translate(282.8 299.1)rotate(180)"/><use href="#ac" transform="translate(289.8 299.1)rotate(180)"/><use href="#ac" transform="translate(296.7 299.1)rotate(179)"/><use href="#ac" transform="translate(303.7 299.1)rotate(180)"/><use href="#ac" transform="translate(310.6 299.1)rotate(180)"/><use href="#ac" transform="translate(4.8 306)rotate(-89)"/><use href="#ac" transform="translate(11.8 306)rotate(-89)"/><use href="#ac" transform="translate(18.7 306)rotate(-87)"/><use href="#ac" transform="translate(25.7 306)rotate(-70)"/><use href="#ac" transform="translate(32.6 306)rotate(-22)"/><use href="#ac" transform="translate(39.5 306)rotate(-4)"/><use href="#ac" transform="translate(46.5 306)rotate(0)"/><use href="#ac" transform="translate(53.4 306)rotate(-1)"/><use href="#ac" transform="translate(60.4 306)rotate(-9)"/><use href="#ac" transform="translate(67.4 306)rotate(-35)"/><use href="#ac" transform="translate(74.3 306)rotate(-61)"/><use href="#ac" transform="translate(81.2 306)rotate(-70)"/><use href="#ac" transform="translate(88.2 306)rotate(-72)"/><use href="#ac" transform="translate(95.2 306)rotate(-70)"/><use href="#ac" transform="translate(102.1 306)rotate(-68)"/><use href="#ac" transform="translate(109 306)rotate(-65)"/><use href="#ac" transform="translate(116 306)rotate(-63)"/><use href="#ac" transform="translate(123 306)rotate(-63)"/><use href="#ac" transform="translate(129.9 306)rotate(-63)"/><use href="#ac" transform="translate(136.9 306)rotate(-64)"/><use href="#ac" transform="translate(143.8 306)rotate(-63)"/><use href="#ac" transform="translate(150.8 306)rotate(-62)"/><use href="#ac" transform="translate(157.7 306)rotate(-61)"/><use href="#ac" transform="translate(164.7 306)rotate(-60)"/><use href="#ac" transform="translate(171.6 306)rotate(-59)"/><use href="#ac" transform="translate(178.6 306)rotate(-58)"/><use href="#ac" transform="translate(185.5 306)rotate(-55)"/><use href="#ac" transform="translate(192.5 306)rotate(-50)"/><use href="#ac" transform="translate(199.4 306)rotate(-42)"/><use href="#ac" transform="translate(206.4 306)rotate(-30)"/><use href="#ac" transform="translate(213.3 306)rotate(-16)"/><use href="#ac" transform="translate(220.3 306)rotate(-4)"/><use href="#ac" transform="translate(227.2 306)rotate(1)"/><use href="#ac" transform="translate(234.2 306)rotate(3)"/><use href="#ac" transform="translate(241.1 306)rotate(8)"/><use href="#ac" transform="translate(248.1 306)rotate(15)"/><use href="#ac" transform="translate(255 306)rotate(17)"/><use href="#ac" transform="translate(262 306)rotate(25)"/><use href="#ac" transform="translate(268.9 306)rotate(159)"/><use href="#ac" transform="translate(275.9 306)rotate(177)"/><use href="#ac" transform="translate(282.8 306)rotate(179)"/><use href="#ac" transform="translate(289.8 306)rotate(179)"/><use href="#ac" transform="translate(296.7 306)rotate(179)"/><use href="#ac" transform="translate(303.7 306)rotate(180)"/><use href="#ac" transform="translate(310.6 306)rotate(180)"/><use href="#ac" transform="translate(4.8 312.9)rotate(-89)"/><use href="#ac" transform="translate(11.8 312.9)rotate(-89)"/><use href="#ac" transform="translate(18.7 312.9)rotate(-87)"/><use href="#ac" transform="translate(25.7 312.9)rotate(-74)"/><use href="#ac" transform="translate(32.6 312.9)rotate(-36)"/><use href="#ac" transform="translate(39.5 312.9)rotate(-9)"/><use href="#ac" transform="translate(46.5 312.9)rotate(-2)"/><use href="#ac" transform="translate(53.4 312.9)rotate(-3)"/><use href="#ac" transform="translate(60.4 312.9)rotate(-9)"/><use href="#ac" transform="translate(67.4 312.9)rotate(-25)"/><use href="#ac" transform="translate(74.3 312.9)rotate(-45)"/><use href="#ac" transform="translate(81.2 312.9)rotate(-56)"/><use href="#ac" transform="translate(88.2 312.9)rotate(-61)"/><use href="#ac" transform="translate(95.2 312.9)rotate(-62)"/><use href="#ac" transform="translate(102.1 312.9)rotate(-61)"/><use href="#ac" transform="translate(109 312.9)rotate(-60)"/><use href="#ac" transform="translate(116 312.9)rotate(-60)"/><use href="#ac" transform="translate(123 312.9)rotate(-60)"/><use href="#ac" transform="translate(129.9 312.9)rotate(-60)"/><use href="#ac" transform="translate(136.9 312.9)rotate(-59)"/><use href="#ac" transform="translate(143.8 312.9)rotate(-59)"/><use href="#ac" transform="translate(150.8 312.9)rotate(-58)"/><use href="#ac" transform="translate(157.7 312.9)rotate(-59)"/><use href="#ac" transform="translate(164.7 312.9)rotate(-59)"/><use href="#ac" transform="translate(171.6 312.9)rotate(-59)"/><use href="#ac" transform="translate(178.6 312.9)rotate(-58)"/><use href="#ac" transform="translate(185.5 312.9)rotate(-54)"/><use href="#ac" transform="translate(192.5 312.9)rotate(-47)"/><use href="#ac" transform="translate(199.4 312.9)rotate(-39)"/><use href="#ac" transform="translate(206.4 312.9)rotate(-26)"/><use href="#ac" transform="translate(213.3 312.9)rotate(-9)"/><use href="#ac" transform="translate(220.3 312.9)rotate(3)"/><use href="#ac" transform="translate(227.2 312.9)rotate(8)"/><use href="#ac" transform="translate(234.2 312.9)rotate(9)"/><use href="#ac" transform="translate(241.1 312.9)rotate(15)"/><use href="#ac" transform="translate(248.1 312.9)rotate(20)"/><use href="#ac" transform="translate(255 312.9)rotate(20)"/><use href="#ac" transform="translate(262 312.9)rotate(22)"/><use href="#ac" transform="translate(268.9 312.9)rotate(96)"/><use href="#ac" transform="translate(275.9 312.9)rotate(172)"/><use href="#ac" transform="translate(282.8 312.9)rotate(177)"/><use href="#ac" transform="translate(289.8 312.9)rotate(178)"/><use href="#ac" transform="translate(296.7 312.9)rotate(178)"/><use href="#ac" transform="translate(303.7 312.9)rotate(178)"/><use href="#ac" transform="translate(310.6 312.9)rotate(179)"/><use href="#ac" transform="translate(4.8 319.8)rotate(-90)"/><use href="#ac" transform="translate(11.8 319.8)rotate(-90)"/><use href="#ac" transform="translate(18.7 319.8)rotate(-88)"/><use href="#ac" transform="translate(25.7 319.8)rotate(-77)"/><use href="#ac" transform="translate(32.6 319.8)rotate(-44)"/><use href="#ac" transform="translate(39.5 319.8)rotate(-15)"/><use href="#ac" transform="translate(46.5 319.8)rotate(-6)"/><use href="#ac" transform="translate(53.4 319.8)rotate(-6)"/><use href="#ac" transform="translate(60.4 319.8)rotate(-10)"/><use href="#ac" transform="translate(67.4 319.8)rotate(-20)"/><use href="#ac" transform="translate(74.3 319.8)rotate(-33)"/><use href="#ac" transform="translate(81.2 319.8)rotate(-44)"/><use href="#ac" transform="translate(88.2 319.8)rotate(-50)"/><use href="#ac" transform="translate(95.2 319.8)rotate(-54)"/><use href="#ac" transform="translate(102.1 319.8)rotate(-57)"/><use href="#ac" transform="translate(109 319.8)rotate(-59)"/><use href="#ac" transform="translate(116 319.8)rotate(-60)"/><use href="#ac" transform="translate(123 319.8)rotate(-60)"/><use href="#ac" transform="translate(129.9 319.8)rotate(-59)"/><use href="#ac" transform="translate(136.9 319.8)rotate(-56)"/><use href="#ac" transform="translate(143.8 319.8)rotate(-55)"/><use href="#ac" transform="translate(150.8 319.8)rotate(-55)"/><use href="#ac" transform="translate(157.7 319.8)rotate(-57)"/><use href="#ac" transform="translate(164.7 319.8)rotate(-59)"/><use href="#ac" transform="translate(171.6 319.8)rotate(-60)"/><use href="#ac" transform="translate(178.6 319.8)rotate(-58)"/><use href="#ac" transform="translate(185.5 319.8)rotate(-52)"/><use href="#ac" transform="translate(192.5 319.8)rotate(-45)"/><use href="#ac" transform="translate(199.4 319.8)rotate(-39)"/><use href="#ac" transform="translate(206.4 319.8)rotate(-28)"/><use href="#ac" transform="translate(213.3 319.8)rotate(-9)"/><use href="#ac" transform="translate(220.3 319.8)rotate(6)"/><use href="#ac" transform="translate(227.2 319.8)rotate(10)"/><use href="#ac" transform="translate(234.2 319.8)rotate(10)"/><use href="#ac" transform="translate(241.1 319.8)rotate(14)"/><use href="#ac" transform="translate(248.1 319.8)rotate(19)"/><use href="#ac" transform="translate(255 319.8)rotate(20)"/><use href="#ac" transform="translate(262 319.8)rotate(22)"/><use href="#ac" transform="translate(268.9 319.8)rotate(56)"/><use href="#ac" transform="translate(275.9 319.8)rotate(160)"/><use href="#ac" transform="translate(282.8 319.8)rotate(171)"/><use href="#ac" transform="translate(289.8 319.8)rotate(173)"/><use href="#ac" transform="translate(296.7 319.8)rotate(173)"/><use href="#ac" transform="translate(303.7 319.8)rotate(174)"/><use href="#ac" transform="translate(310.6 319.8)rotate(175)"/><use href="#ac" transform="translate(4.8 326.7)rotate(-89)"/><use href="#ac" transform="translate(11.8 326.7)rotate(-89)"/><use href="#ac" transform="translate(18.7 326.7)rotate(-87)"/><use href="#ac" transform="translate(25.7 326.7)rotate(-76)"/><use href="#ac" transform="translate(46.5 326.7)rotate(0)"/><use href="#ac" transform="translate(53.4 326.7)rotate(-1)"/><use href="#ac" transform="translate(60.4 326.7)rotate(-4)"/><use href="#ac" transform="translate(67.4 326.7)rotate(-11)"/><use href="#ac" transform="translate(74.3 326.7)rotate(-21)"/><use href="#ac" transform="translate(81.2 326.7)rotate(-31)"/><use href="#ac" transform="translate(88.2 326.7)rotate(-40)"/><use href="#ac" transform="translate(95.2 326.7)rotate(-46)"/><use href="#ac" transform="translate(102.1 326.7)rotate(-52)"/><use href="#ac" transform="translate(109 326.7)rotate(-56)"/><use href="#ac" transform="translate(116 326.7)rotate(-59)"/><use href="#ac" transform="translate(123 326.7)rotate(-59)"/><use href="#ac" transform="translate(129.9 326.7)rotate(-56)"/><use href="#ac" transform="translate(136.9 326.7)rotate(-52)"/><use href="#ac" transform="translate(143.8 326.7)rotate(-50)"/><use href="#ac" transform="translate(150.8 326.7)rotate(-51)"/><use href="#ac" transform="translate(157.7 326.7)rotate(-54)"/><use href="#ac" transform="translate(164.7 326.7)rotate(-58)"/><use href="#ac" transform="translate(171.6 326.7)rotate(-58)"/><use href="#ac" transform="translate(178.6 326.7)rotate(-55)"/><use href="#ac" transform="translate(185.5 326.7)rotate(-49)"/><use href="#ac" transform="translate(192.5 326.7)rotate(-44)"/><use href="#ac" transform="translate(199.4 326.7)rotate(-42)"/><use href="#ac" transform="translate(206.4 326.7)rotate(-36)"/><use href="#ac" transform="translate(213.3 326.7)rotate(-18)"/><use href="#ac" transform="translate(220.3 326.7)rotate(3)"/><use href="#ac" transform="translate(227.2 326.7)rotate(9)"/><use href="#ac" transform="translate(234.2 326.7)rotate(10)"/><use href="#ac" transform="translate(241.1 326.7)rotate(13)"/><use href="#ac" transform="translate(248.1 326.7)rotate(18)"/><use href="#ac" transform="translate(255 326.7)rotate(20)"/><use href="#ac" transform="translate(262 326.7)rotate(27)"/><use href="#ac" transform="translate(268.9 326.7)rotate(69)"/><use href="#ac" transform="translate(275.9 326.7)rotate(180)"/><use href="#ac" transform="translate(296.7 326.7)rotate(0)"/><use href="#ac" transform="translate(303.7 326.7)rotate(164)"/><use href="#ac" transform="translate(310.6 326.7)rotate(165)"/><use href="#ac" transform="translate(4.8 333.6)rotate(-88)"/><use href="#ac" transform="translate(11.8 333.6)rotate(-88)"/><use href="#ac" transform="translate(18.7 333.6)rotate(-86)"/><use href="#ac" transform="translate(53.4 333.6)rotate(0)"/><use href="#ac" transform="translate(60.4 333.6)rotate(14)"/><use href="#ac" transform="translate(67.4 333.6)rotate(6)"/><use href="#ac" transform="translate(74.3 333.6)rotate(-5)"/><use href="#ac" transform="translate(81.2 333.6)rotate(-18)"/><use href="#ac" transform="translate(88.2 333.6)rotate(-29)"/><use href="#ac" transform="translate(95.2 333.6)rotate(-37)"/><use href="#ac" transform="translate(102.1 333.6)rotate(-43)"/><use href="#ac" transform="translate(109 333.6)rotate(-48)"/><use href="#ac" transform="translate(116 333.6)rotate(-51)"/><use href="#ac" transform="translate(123 333.6)rotate(-51)"/><use href="#ac" transform="translate(129.9 333.6)rotate(-48)"/><use href="#ac" transform="translate(136.9 333.6)rotate(-45)"/><use href="#ac" transform="translate(143.8 333.6)rotate(-42)"/><use href="#ac" transform="translate(150.8 333.6)rotate(-43)"/><use href="#ac" transform="translate(157.7 333.6)rotate(-46)"/><use href="#ac" transform="translate(164.7 333.6)rotate(-50)"/><use href="#ac" transform="translate(171.6 333.6)rotate(-50)"/><use href="#ac" transform="translate(178.6 333.6)rotate(-46)"/><use href="#ac" transform="translate(185.5 333.6)rotate(-43)"/><use href="#ac" transform="translate(192.5 333.6)rotate(-43)"/><use href="#ac" transform="translate(199.4 333.6)rotate(-44)"/><use href="#ac" transform="translate(206.4 333.6)rotate(-43)"/><use href="#ac" transform="translate(213.3 333.6)rotate(-35)"/><use href="#ac" transform="translate(220.3 333.6)rotate(-8)"/><use href="#ac" transform="translate(227.2 333.6)rotate(9)"/><use href="#ac" transform="translate(234.2 333.6)rotate(13)"/><use href="#ac" transform="translate(241.1 333.6)rotate(17)"/><use href="#ac" transform="translate(248.1 333.6)rotate(21)"/><use href="#ac" transform="translate(255 333.6)rotate(28)"/><use href="#ac" transform="translate(262 333.6)rotate(57)"/><use href="#ac" transform="translate(268.9 333.6)rotate(120)"/><use href="#ac" transform="translate(303.7 333.6)rotate(145)"/><use href="#ac" transform="translate(310.6 333.6)rotate(147)"/><use href="#ac" transform="translate(4.8 340.5)rotate(-97)"/><use href="#ac" transform="translate(11.8 340.5)rotate(-142)"/><use href="#ac" transform="translate(18.7 340.5)rotate(130)"/><use href="#ac" transform="translate(53.4 340.5)rotate(0)"/><use href="#ac" transform="translate(60.4 340.5)rotate(33)"/><use href="#ac" transform="translate(67.4 340.5)rotate(24)"/><use href="#ac" transform="translate(74.3 340.5)rotate(11)"/><use href="#ac" transform="translate(81.2 340.5)rotate(-4)"/><use href="#ac" transform="translate(88.2 340.5)rotate(-17)"/><use href="#ac" transform="translate(95.2 340.5)rotate(-26)"/><use href="#ac" transform="translate(102.1 340.5)rotate(-32)"/><use href="#ac" transform="translate(109 340.5)rotate(-34)"/><use href="#ac" transform="translate(116 340.5)rotate(-35)"/><use href="#ac" transform="translate(123 340.5)rotate(-36)"/><use href="#ac" transform="translate(129.9 340.5)rotate(-35)"/><use href="#ac" transform="translate(136.9 340.5)rotate(-34)"/><use href="#ac" transform="translate(143.8 340.5)rotate(-32)"/><use href="#ac" transform="translate(150.8 340.5)rotate(-31)"/><use href="#ac" transform="translate(157.7 340.5)rotate(-31)"/><use href="#ac" transform="translate(164.7 340.5)rotate(-31)"/><use href="#ac" transform="translate(171.6 340.5)rotate(-30)"/><use href="#ac" transform="translate(178.6 340.5)rotate(-30)"/><use href="#ac" transform="translate(185.5 340.5)rotate(-36)"/><use href="#ac" transform="translate(192.5 340.5)rotate(-43)"/><use href="#ac" transform="translate(199.4 340.5)rotate(-45)"/><use href="#ac" transform="translate(206.4 340.5)rotate(-45)"/><use href="#ac" transform="translate(213.3 340.5)rotate(-55)"/><use href="#ac" transform="translate(220.3 340.5)rotate(-171)"/><use href="#ac" transform="translate(227.2 340.5)rotate(179)"/><use href="#ac" transform="translate(234.2 340.5)rotate(179)"/><use href="#ac" transform="translate(241.1 340.5)rotate(-178)"/><use href="#ac" transform="translate(248.1 340.5)rotate(-173)"/><use href="#ac" transform="translate(255 340.5)rotate(-177)"/><use href="#ac" transform="translate(262 340.5)rotate(166)"/><use href="#ac" transform="translate(268.9 340.5)rotate(180)"/><use href="#ac" transform="translate(303.7 340.5)rotate(0)"/><use href="#ac" transform="translate(310.6 340.5)rotate(120)"/><use href="#ac" transform="translate(4.8 347.4)rotate(115)"/><use href="#ac" transform="translate(11.8 347.4)rotate(122)"/><use href="#ac" transform="translate(18.7 347.4)rotate(123)"/><use href="#ac" transform="translate(53.4 347.4)rotate(0)"/><use href="#ac" transform="translate(60.4 347.4)rotate(42)"/><use href="#ac" transform="translate(67.4 347.4)rotate(36)"/><use href="#ac" transform="translate(74.3 347.4)rotate(23)"/><use href="#ac" transform="translate(81.2 347.4)rotate(7)"/><use href="#ac" transform="translate(88.2 347.4)rotate(-8)"/><use href="#ac" transform="translate(95.2 347.4)rotate(-17)"/><use href="#ac" transform="translate(102.1 347.4)rotate(-22)"/><use href="#ac" transform="translate(109 347.4)rotate(-24)"/><use href="#ac" transform="translate(116 347.4)rotate(-23)"/><use href="#ac" transform="translate(123 347.4)rotate(-23)"/><use href="#ac" transform="translate(129.9 347.4)rotate(-24)"/><use href="#ac" transform="translate(136.9 347.4)rotate(-24)"/><use href="#ac" transform="translate(143.8 347.4)rotate(-22)"/><use href="#ac" transform="translate(150.8 347.4)rotate(-18)"/><use href="#ac" transform="translate(157.7 347.4)rotate(-13)"/><use href="#ac" transform="translate(164.7 347.4)rotate(-7)"/><use href="#ac" transform="translate(171.6 347.4)rotate(-3)"/><use href="#ac" transform="translate(178.6 347.4)rotate(-6)"/><use href="#ac" transform="translate(185.5 347.4)rotate(-20)"/><use href="#ac" transform="translate(192.5 347.4)rotate(-38)"/><use href="#ac" transform="translate(199.4 347.4)rotate(-44)"/><use href="#ac" transform="translate(206.4 347.4)rotate(-55)"/><use href="#ac" transform="translate(213.3 347.4)rotate(172)"/><use href="#ac" transform="translate(220.3 347.4)rotate(175)"/><use href="#ac" transform="translate(227.2 347.4)rotate(180)"/><use href="#ac" transform="translate(234.2 347.4)rotate(-180)"/><use href="#ac" transform="translate(241.1 347.4)rotate(-173)"/><use href="#ac" transform="translate(248.1 347.4)rotate(-162)"/><use href="#ac" transform="translate(255 347.4)rotate(-162)"/><use href="#ac" transform="translate(262 347.4)rotate(-176)"/><use href="#ac" transform="translate(268.9 347.4)rotate(157)"/><use href="#ac" transform="translate(303.7 347.4)rotate(91)"/><use href="#ac" transform="translate(310.6 347.4)rotate(95)"/><use href="#ac" transform="translate(4.8 354.3)rotate(111)"/><use href="#ac" transform="translate(11.8 354.3)rotate(126)"/><use href="#ac" transform="translate(18.7 354.3)rotate(131)"/><use href="#ac" transform="translate(25.7 354.3)rotate(125)"/><use href="#ac" transform="translate(46.5 354.3)rotate(0)"/><use href="#ac" transform="translate(53.4 354.3)rotate(46)"/><use href="#ac" transform="translate(60.4 354.3)rotate(45)"/><use href="#ac" transform="translate(67.4 354.3)rotate(41)"/><use href="#ac" transform="translate(74.3 354.3)rotate(30)"/><use href="#ac" transform="translate(81.2 354.3)rotate(14)"/><use href="#ac" transform="translate(88.2 354.3)rotate(-1)"/><use href="#ac" transform="translate(95.2 354.3)rotate(-12)"/><use href="#ac" transform="translate(102.1 354.3)rotate(-17)"/><use href="#ac" transform="translate(109 354.3)rotate(-20)"/><use href="#ac" transform="translate(116 354.3)rotate(-20)"/><use href="#ac" transform="translate(123 354.3)rotate(-20)"/><use href="#ac" transform="translate(129.9 354.3)rotate(-20)"/><use href="#ac" transform="translate(136.9 354.3)rotate(-18)"/><use href="#ac" transform="translate(143.8 354.3)rotate(-13)"/><use href="#ac" transform="translate(150.8 354.3)rotate(-6)"/><use href="#ac" transform="translate(157.7 354.3)rotate(2)"/><use href="#ac" transform="translate(164.7 354.3)rotate(10)"/><use href="#ac" transform="translate(171.6 354.3)rotate(15)"/><use href="#ac" transform="translate(178.6 354.3)rotate(15)"/><use href="#ac" transform="translate(185.5 354.3)rotate(10)"/><use href="#ac" transform="translate(192.5 354.3)rotate(1)"/><use href="#ac" transform="translate(199.4 354.3)rotate(141)"/><use href="#ac" transform="translate(206.4 354.3)rotate(150)"/><use href="#ac" transform="translate(213.3 354.3)rotate(152)"/><use href="#ac" transform="translate(220.3 354.3)rotate(168)"/><use href="#ac" transform="translate(227.2 354.3)rotate(180)"/><use href="#ac" transform="translate(234.2 354.3)rotate(-179)"/><use href="#ac" transform="translate(241.1 354.3)rotate(-167)"/><use href="#ac" transform="translate(248.1 354.3)rotate(-154)"/><use href="#ac" transform="translate(255 354.3)rotate(-154)"/><use href="#ac" transform="translate(262 354.3)rotate(-168)"/><use href="#ac" transform="translate(268.9 354.3)rotate(156)"/><use href="#ac" transform="translate(275.9 354.3)rotate(180)"/><use href="#ac" transform="translate(296.7 354.3)rotate(0)"/><use href="#ac" transform="translate(303.7 354.3)rotate(73)"/><use href="#ac" transform="translate(310.6 354.3)rotate(79)"/><use href="#ac" transform="translate(4.8 361.2)rotate(101)"/><use href="#ac" transform="translate(11.8 361.2)rotate(124)"/><use href="#ac" transform="translate(18.7 361.2)rotate(134)"/><use href="#ac" transform="translate(25.7 361.2)rotate(126)"/><use href="#ac" transform="translate(32.6 361.2)rotate(94)"/><use href="#ac" transform="translate(39.5 361.2)rotate(84)"/><use href="#ac" transform="translate(46.5 361.2)rotate(58)"/><use href="#ac" transform="translate(53.4 361.2)rotate(45)"/><use href="#ac" transform="translate(60.4 361.2)rotate(45)"/><use href="#ac" transform="translate(67.4 361.2)rotate(42)"/><use href="#ac" transform="translate(74.3 361.2)rotate(32)"/><use href="#ac" transform="translate(81.2 361.2)rotate(17)"/><use href="#ac" transform="translate(88.2 361.2)rotate(3)"/><use href="#ac" transform="translate(95.2 361.2)rotate(-7)"/><use href="#ac" transform="translate(102.1 361.2)rotate(-14)"/><use href="#ac" transform="translate(109 361.2)rotate(-18)"/><use href="#ac" transform="translate(116 361.2)rotate(-20)"/><use href="#ac" transform="translate(123 361.2)rotate(-20)"/><use href="#ac" transform="translate(129.9 361.2)rotate(-18)"/><use href="#ac" transform="translate(136.9 361.2)rotate(-14)"/><use href="#ac" transform="translate(143.8 361.2)rotate(-7)"/><use href="#ac" transform="translate(150.8 361.2)rotate(1)"/><use href="#ac" transform="translate(157.7 361.2)rotate(10)"/><use href="#ac" transform="translate(164.7 361.2)rotate(17)"/><use href="#ac" transform="translate(171.6 361.2)rotate(20)"/><use href="#ac" transform="translate(178.6 361.2)rotate(20)"/><use href="#ac" transform="translate(185.5 361.2)rotate(23)"/><use href="#ac" transform="translate(192.5 361.2)rotate(57)"/><use href="#ac" transform="translate(199.4 361.2)rotate(134)"/><use href="#ac" transform="translate(206.4 361.2)rotate(149)"/><use href="#ac" transform="translate(213.3 361.2)rotate(150)"/><use href="#ac" transform="translate(220.3 361.2)rotate(157)"/><use href="#ac" transform="translate(227.2 361.2)rotate(175)"/><use href="#ac" transform="translate(234.2 361.2)rotate(-176)"/><use href="#ac" transform="translate(241.1 361.2)rotate(-157)"/><use href="#ac" transform="translate(248.1 361.2)rotate(-150)"/><use href="#ac" transform="translate(255 361.2)rotate(-151)"/><use href="#ac" transform="translate(262 361.2)rotate(-164)"/><use href="#ac" transform="translate(268.9 361.2)rotate(151)"/><use href="#ac" transform="translate(275.9 361.2)rotate(136)"/><use href="#ac" transform="translate(282.8 361.2)rotate(134)"/><use href="#ac" transform="translate(289.8 361.2)rotate(105)"/><use href="#ac" transform="translate(296.7 361.2)rotate(64)"/><use href="#ac" transform="translate(303.7 361.2)rotate(63)"/><use href="#ac" transform="translate(310.6 361.2)rotate(71)"/><use href="#ac" transform="translate(4.8 368.1)rotate(68)"/><use href="#ac" transform="translate(11.8 368.1)rotate(84)"/><use href="#ac" transform="translate(18.7 368.1)rotate(108)"/><use href="#ac" transform="translate(25.7 368.1)rotate(101)"/><use href="#ac" transform="translate(32.6 368.1)rotate(90)"/><use href="#ac" transform="translate(39.5 368.1)rotate(89)"/><use href="#ac" transform="translate(46.5 368.1)rotate(71)"/><use href="#ac" transform="translate(53.4 368.1)rotate(49)"/><use href="#ac" transform="translate(60.4 368.1)rotate(45)"/><use href="#ac" transform="translate(67.4 368.1)rotate(40)"/><use href="#ac" transform="translate(74.3 368.1)rotate(29)"/><use href="#ac" transform="translate(81.2 368.1)rotate(16)"/><use href="#ac" transform="translate(88.2 368.1)rotate(5)"/><use href="#ac" transform="translate(95.2 368.1)rotate(-4)"/><use href="#ac" transform="translate(102.1 368.1)rotate(-11)"/><use href="#ac" transform="translate(109 368.1)rotate(-16)"/><use href="#ac" transform="translate(116 368.1)rotate(-18)"/><use href="#ac" transform="translate(123 368.1)rotate(-18)"/><use href="#ac" transform="translate(129.9 368.1)rotate(-15)"/><use href="#ac" transform="translate(136.9 368.1)rotate(-9)"/><use href="#ac" transform="translate(143.8 368.1)rotate(-1)"/><use href="#ac" transform="translate(150.8 368.1)rotate(7)"/><use href="#ac" transform="translate(157.7 368.1)rotate(14)"/><use href="#ac" transform="translate(164.7 368.1)rotate(19)"/><use href="#ac" transform="translate(171.6 368.1)rotate(20)"/><use href="#ac" transform="translate(178.6 368.1)rotate(20)"/><use href="#ac" transform="translate(185.5 368.1)rotate(28)"/><use href="#ac" transform="translate(192.5 368.1)rotate(69)"/><use href="#ac" transform="translate(199.4 368.1)rotate(111)"/><use href="#ac" transform="translate(206.4 368.1)rotate(131)"/><use href="#ac" transform="translate(213.3 368.1)rotate(139)"/><use href="#ac" transform="translate(220.3 368.1)rotate(144)"/><use href="#ac" transform="translate(227.2 368.1)rotate(165)"/><use href="#ac" transform="translate(234.2 368.1)rotate(-170)"/><use href="#ac" transform="translate(241.1 368.1)rotate(-152)"/><use href="#ac" transform="translate(248.1 368.1)rotate(-149)"/><use href="#ac" transform="translate(255 368.1)rotate(-147)"/><use href="#ac" transform="translate(262 368.1)rotate(-157)"/><use href="#ac" transform="translate(268.9 368.1)rotate(154)"/><use href="#ac" transform="translate(275.9 368.1)rotate(136)"/><use href="#ac" transform="translate(282.8 368.1)rotate(134)"/><use href="#ac" transform="translate(289.8 368.1)rotate(108)"/><use href="#ac" transform="translate(296.7 368.1)rotate(64)"/><use href="#ac" transform="translate(303.7 368.1)rotate(63)"/><use href="#ac" transform="translate(310.6 368.1)rotate(74)"/><use href="#ac" transform="translate(4.8 375)rotate(42)"/><use href="#ac" transform="translate(11.8 375)rotate(35)"/><use href="#ac" transform="translate(18.7 375)rotate(39)"/><use href="#ac" transform="translate(25.7 375)rotate(65)"/><use href="#ac" transform="translate(32.6 375)rotate(83)"/><use href="#ac" transform="translate(39.5 375)rotate(83)"/><use href="#ac" transform="translate(46.5 375)rotate(68)"/><use href="#ac" transform="translate(53.4 375)rotate(50)"/><use href="#ac" transform="translate(60.4 375)rotate(41)"/><use href="#ac" transform="translate(67.4 375)rotate(34)"/><use href="#ac" transform="translate(74.3 375)rotate(24)"/><use href="#ac" transform="translate(81.2 375)rotate(14)"/><use href="#ac" transform="translate(88.2 375)rotate(5)"/><use href="#ac" transform="translate(95.2 375)rotate(-1)"/><use href="#ac" transform="translate(102.1 375)rotate(-5)"/><use href="#ac" transform="translate(109 375)rotate(-10)"/><use href="#ac" transform="translate(116 375)rotate(-12)"/><use href="#ac" transform="translate(123 375)rotate(-12)"/><use href="#ac" transform="translate(129.9 375)rotate(-9)"/><use href="#ac" transform="translate(136.9 375)rotate(-2)"/><use href="#ac" transform="translate(143.8 375)rotate(5)"/><use href="#ac" transform="translate(150.8 375)rotate(11)"/><use href="#ac" transform="translate(157.7 375)rotate(16)"/><use href="#ac" transform="translate(164.7 375)rotate(20)"/><use href="#ac" transform="translate(171.6 375)rotate(22)"/><use href="#ac" transform="translate(178.6 375)rotate(25)"/><use href="#ac" transform="translate(185.5 375)rotate(39)"/><use href="#ac" transform="translate(192.5 375)rotate(78)"/><use href="#ac" transform="translate(199.4 375)rotate(98)"/><use href="#ac" transform="translate(206.4 375)rotate(101)"/><use href="#ac" transform="translate(213.3 375)rotate(107)"/><use href="#ac" transform="translate(220.3 375)rotate(116)"/><use href="#ac" transform="translate(227.2 375)rotate(142)"/><use href="#ac" transform="translate(234.2 375)rotate(-159)"/><use href="#ac" transform="translate(241.1 375)rotate(-132)"/><use href="#ac" transform="translate(248.1 375)rotate(-120)"/><use href="#ac" transform="translate(255 375)rotate(-111)"/><use href="#ac" transform="translate(262 375)rotate(-121)"/><use href="#ac" transform="translate(268.9 375)rotate(180)"/><use href="#ac" transform="translate(275.9 375)rotate(148)"/><use href="#ac" transform="translate(282.8 375)rotate(142)"/><use href="#ac" transform="translate(289.8 375)rotate(127)"/><use href="#ac" transform="translate(296.7 375)rotate(91)"/><use href="#ac" transform="translate(303.7 375)rotate(84)"/><use href="#ac" transform="translate(310.6 375)rotate(100)"/><use href="#ac" transform="translate(4.8 381.9)rotate(35)"/><use href="#ac" transform="translate(11.8 381.9)rotate(31)"/><use href="#ac" transform="translate(18.7 381.9)rotate(32)"/><use href="#ac" transform="translate(25.7 381.9)rotate(44)"/><use href="#ac" transform="translate(32.6 381.9)rotate(60)"/><use href="#ac" transform="translate(39.5 381.9)rotate(59)"/><use href="#ac" transform="translate(46.5 381.9)rotate(46)"/><use href="#ac" transform="translate(53.4 381.9)rotate(34)"/><use href="#ac" transform="translate(60.4 381.9)rotate(28)"/><use href="#ac" transform="translate(67.4 381.9)rotate(24)"/><use href="#ac" transform="translate(74.3 381.9)rotate(17)"/><use href="#ac" transform="translate(81.2 381.9)rotate(10)"/><use href="#ac" transform="translate(88.2 381.9)rotate(5)"/><use href="#ac" transform="translate(95.2 381.9)rotate(1)"/><use href="#ac" transform="translate(102.1 381.9)rotate(-1)"/><use href="#ac" transform="translate(109 381.9)rotate(-3)"/><use href="#ac" transform="translate(116 381.9)rotate(-5)"/><use href="#ac" transform="translate(123 381.9)rotate(-4)"/><use href="#ac" transform="translate(129.9 381.9)rotate(-1)"/><use href="#ac" transform="translate(136.9 381.9)rotate(5)"/><use href="#ac" transform="translate(143.8 381.9)rotate(10)"/><use href="#ac" transform="translate(150.8 381.9)rotate(14)"/><use href="#ac" transform="translate(157.7 381.9)rotate(18)"/><use href="#ac" transform="translate(164.7 381.9)rotate(23)"/><use href="#ac" transform="translate(171.6 381.9)rotate(26)"/><use href="#ac" transform="translate(178.6 381.9)rotate(32)"/><use href="#ac" transform="translate(185.5 381.9)rotate(48)"/><use href="#ac" transform="translate(192.5 381.9)rotate(78)"/><use href="#ac" transform="translate(199.4 381.9)rotate(97)"/><use href="#ac" transform="translate(206.4 381.9)rotate(100)"/><use href="#ac" transform="translate(213.3 381.9)rotate(96)"/><use href="#ac" transform="translate(220.3 381.9)rotate(88)"/><use href="#ac" transform="translate(227.2 381.9)rotate(75)"/><use href="#ac" transform="translate(234.2 381.9)rotate(-75)"/><use href="#ac" transform="translate(241.1 381.9)rotate(-93)"/><use href="#ac" transform="translate(248.1 381.9)rotate(-92)"/><use href="#ac" transform="translate(255 381.9)rotate(-91)"/><use href="#ac" transform="translate(262 381.9)rotate(-96)"/><use href="#ac" transform="translate(268.9 381.9)rotate(-141)"/><use href="#ac" transform="translate(275.9 381.9)rotate(174)"/><use href="#ac" transform="translate(282.8 381.9)rotate(172)"/><use href="#ac" transform="translate(289.8 381.9)rotate(166)"/><use href="#ac" transform="translate(296.7 381.9)rotate(146)"/><use href="#ac" transform="translate(303.7 381.9)rotate(137)"/><use href="#ac" transform="translate(310.6 381.9)rotate(143)"/><use href="#ac" transform="translate(4.8 388.8)rotate(35)"/><use href="#ac" transform="translate(11.8 388.8)rotate(33)"/><use href="#ac" transform="translate(18.7 388.8)rotate(34)"/><use href="#ac" transform="translate(25.7 388.8)rotate(37)"/><use href="#ac" transform="translate(32.6 388.8)rotate(37)"/><use href="#ac" transform="translate(39.5 388.8)rotate(27)"/><use href="#ac" transform="translate(46.5 388.8)rotate(15)"/><use href="#ac" transform="translate(53.4 388.8)rotate(11)"/><use href="#ac" transform="translate(60.4 388.8)rotate(13)"/><use href="#ac" transform="translate(67.4 388.8)rotate(14)"/><use href="#ac" transform="translate(74.3 388.8)rotate(12)"/><use href="#ac" transform="translate(81.2 388.8)rotate(7)"/><use href="#ac" transform="translate(88.2 388.8)rotate(3)"/><use href="#ac" transform="translate(95.2 388.8)rotate(1)"/><use href="#ac" transform="translate(102.1 388.8)rotate(0)"/><use href="#ac" transform="translate(109 388.8)rotate(0)"/><use href="#ac" transform="translate(116 388.8)rotate(0)"/><use href="#ac" transform="translate(123 388.8)rotate(2)"/><use href="#ac" transform="translate(129.9 388.8)rotate(5)"/><use href="#ac" transform="translate(136.9 388.8)rotate(9)"/><use href="#ac" transform="translate(143.8 388.8)rotate(11)"/><use href="#ac" transform="translate(150.8 388.8)rotate(13)"/><use href="#ac" transform="translate(157.7 388.8)rotate(18)"/><use href="#ac" transform="translate(164.7 388.8)rotate(25)"/><use href="#ac" transform="translate(171.6 388.8)rotate(29)"/><use href="#ac" transform="translate(178.6 388.8)rotate(34)"/><use href="#ac" transform="translate(185.5 388.8)rotate(46)"/><use href="#ac" transform="translate(192.5 388.8)rotate(67)"/><use href="#ac" transform="translate(199.4 388.8)rotate(84)"/><use href="#ac" transform="translate(206.4 388.8)rotate(87)"/><use href="#ac" transform="translate(213.3 388.8)rotate(75)"/><use href="#ac" transform="translate(220.3 388.8)rotate(58)"/><use href="#ac" transform="translate(227.2 388.8)rotate(30)"/><use href="#ac" transform="translate(234.2 388.8)rotate(-16)"/><use href="#ac" transform="translate(241.1 388.8)rotate(-63)"/><use href="#ac" transform="translate(248.1 388.8)rotate(-84)"/><use href="#ac" transform="translate(255 388.8)rotate(-89)"/><use href="#ac" transform="translate(262 388.8)rotate(-92)"/><use href="#ac" transform="translate(268.9 388.8)rotate(-132)"/><use href="#ac" transform="translate(275.9 388.8)rotate(-179)"/><use href="#ac" transform="translate(282.8 388.8)rotate(180)"/><use href="#ac" transform="translate(289.8 388.8)rotate(178)"/><use href="#ac" transform="translate(296.7 388.8)rotate(163)"/><use href="#ac" transform="translate(303.7 388.8)rotate(157)"/><use href="#ac" transform="translate(310.6 388.8)rotate(158)"/><use href="#ac" transform="translate(4.8 395.7)rotate(35)"/><use href="#ac" transform="translate(11.8 395.7)rotate(33)"/><use href="#ac" transform="translate(18.7 395.7)rotate(31)"/><use href="#ac" transform="translate(25.7 395.7)rotate(28)"/><use href="#ac" transform="translate(32.6 395.7)rotate(21)"/><use href="#ac" transform="translate(39.5 395.7)rotate(10)"/><use href="#ac" transform="translate(46.5 395.7)rotate(2)"/><use href="#ac" transform="translate(53.4 395.7)rotate(2)"/><use href="#ac" transform="translate(60.4 395.7)rotate(5)"/><use href="#ac" transform="translate(67.4 395.7)rotate(9)"/><use href="#ac" transform="translate(74.3 395.7)rotate(8)"/><use href="#ac" transform="translate(81.2 395.7)rotate(5)"/><use href="#ac" transform="translate(88.2 395.7)rotate(2)"/><use href="#ac" transform="translate(95.2 395.7)rotate(0)"/><use href="#ac" transform="translate(102.1 395.7)rotate(0)"/><use href="#ac" transform="translate(109 395.7)rotate(1)"/><use href="#ac" transform="translate(116 395.7)rotate(2)"/><use href="#ac" transform="translate(123 395.7)rotate(5)"/><use href="#ac" transform="translate(129.9 395.7)rotate(8)"/><use href="#ac" transform="translate(136.9 395.7)rotate(11)"/><use href="#ac" transform="translate(143.8 395.7)rotate(11)"/><use href="#ac" transform="translate(150.8 395.7)rotate(11)"/><use href="#ac" transform="translate(157.7 395.7)rotate(16)"/><use href="#ac" transform="translate(164.7 395.7)rotate(28)"/><use href="#ac" transform="translate(171.6 395.7)rotate(30)"/><use href="#ac" transform="translate(178.6 395.7)rotate(32)"/><use href="#ac" transform="translate(185.5 395.7)rotate(42)"/><use href="#ac" transform="translate(192.5 395.7)rotate(54)"/><use href="#ac" transform="translate(199.4 395.7)rotate(59)"/><use href="#ac" transform="translate(206.4 395.7)rotate(54)"/><use href="#ac" transform="translate(213.3 395.7)rotate(48)"/><use href="#ac" transform="translate(220.3 395.7)rotate(40)"/><use href="#ac" transform="translate(227.2 395.7)rotate(16)"/><use href="#ac" transform="translate(234.2 395.7)rotate(-5)"/><use href="#ac" transform="translate(241.1 395.7)rotate(-35)"/><use href="#ac" transform="translate(248.1 395.7)rotate(-54)"/><use href="#ac" transform="translate(255 395.7)rotate(-66)"/><use href="#ac" transform="translate(262 395.7)rotate(-78)"/><use href="#ac" transform="translate(268.9 395.7)rotate(-127)"/><use href="#ac" transform="translate(275.9 395.7)rotate(-178)"/><use href="#ac" transform="translate(282.8 395.7)rotate(178)"/><use href="#ac" transform="translate(289.8 395.7)rotate(176)"/><use href="#ac" transform="translate(296.7 395.7)rotate(163)"/><use href="#ac" transform="translate(303.7 395.7)rotate(159)"/><use href="#ac" transform="translate(310.6 395.7)rotate(160)"/><use href="#ac" transform="translate(4.8 402.6)rotate(33)"/><use href="#ac" transform="translate(11.8 402.6)rotate(29)"/><use href="#ac" transform="translate(18.7 402.6)rotate(23)"/><use href="#ac" transform="translate(25.7 402.6)rotate(17)"/><use href="#ac" transform="translate(32.6 402.6)rotate(12)"/><use href="#ac" transform="translate(39.5 402.6)rotate(6)"/><use href="#ac" transform="translate(46.5 402.6)rotate(1)"/><use href="#ac" transform="translate(53.4 402.6)rotate(1)"/><use href="#ac" transform="translate(60.4 402.6)rotate(4)"/><use href="#ac" transform="translate(67.4 402.6)rotate(6)"/><use href="#ac" transform="translate(74.3 402.6)rotate(6)"/><use href="#ac" transform="translate(81.2 402.6)rotate(4)"/><use href="#ac" transform="translate(88.2 402.6)rotate(2)"/><use href="#ac" transform="translate(95.2 402.6)rotate(0)"/><use href="#ac" transform="translate(102.1 402.6)rotate(0)"/><use href="#ac" transform="translate(109 402.6)rotate(1)"/><use href="#ac" transform="translate(116 402.6)rotate(3)"/><use href="#ac" transform="translate(123 402.6)rotate(7)"/><use href="#ac" transform="translate(129.9 402.6)rotate(10)"/><use href="#ac" transform="translate(136.9 402.6)rotate(12)"/><use href="#ac" transform="translate(143.8 402.6)rotate(11)"/><use href="#ac" transform="translate(150.8 402.6)rotate(10)"/><use href="#ac" transform="translate(157.7 402.6)rotate(16)"/><use href="#ac" transform="translate(164.7 402.6)rotate(28)"/><use href="#ac" transform="translate(171.6 402.6)rotate(30)"/><use href="#ac" transform="translate(178.6 402.6)rotate(33)"/><use href="#ac" transform="translate(185.5 402.6)rotate(43)"/><use href="#ac" transform="translate(192.5 402.6)rotate(50)"/><use href="#ac" transform="translate(199.4 402.6)rotate(50)"/><use href="#ac" transform="translate(206.4 402.6)rotate(46)"/><use href="#ac" transform="translate(213.3 402.6)rotate(45)"/><use href="#ac" transform="translate(220.3 402.6)rotate(36)"/><use href="#ac" transform="translate(227.2 402.6)rotate(6)"/><use href="#ac" transform="translate(234.2 402.6)rotate(-1)"/><use href="#ac" transform="translate(241.1 402.6)rotate(-26)"/><use href="#ac" transform="translate(248.1 402.6)rotate(-44)"/><use href="#ac" transform="translate(255 402.6)rotate(-46)"/><use href="#ac" transform="translate(262 402.6)rotate(-53)"/><use href="#ac" transform="translate(268.9 402.6)rotate(-95)"/><use href="#ac" transform="translate(275.9 402.6)rotate(179)"/><use href="#ac" transform="translate(282.8 402.6)rotate(170)"/><use href="#ac" transform="translate(289.8 402.6)rotate(163)"/><use href="#ac" transform="translate(296.7 402.6)rotate(153)"/><use href="#ac" transform="translate(303.7 402.6)rotate(154)"/><use href="#ac" transform="translate(310.6 402.6)rotate(156)"/><use href="#ac" transform="translate(4.8 409.5)rotate(34)"/><use href="#ac" transform="translate(11.8 409.5)rotate(25)"/><use href="#ac" transform="translate(18.7 409.5)rotate(14)"/><use href="#ac" transform="translate(25.7 409.5)rotate(7)"/><use href="#ac" transform="translate(32.6 409.5)rotate(5)"/><use href="#ac" transform="translate(39.5 409.5)rotate(5)"/><use href="#ac" transform="translate(46.5 409.5)rotate(3)"/><use href="#ac" transform="translate(53.4 409.5)rotate(3)"/><use href="#ac" transform="translate(60.4 409.5)rotate(4)"/><use href="#ac" transform="translate(67.4 409.5)rotate(5)"/><use href="#ac" transform="translate(74.3 409.5)rotate(5)"/><use href="#ac" transform="translate(81.2 409.5)rotate(3)"/><use href="#ac" transform="translate(88.2 409.5)rotate(2)"/><use href="#ac" transform="translate(95.2 409.5)rotate(1)"/><use href="#ac" transform="translate(102.1 409.5)rotate(1)"/><use href="#ac" transform="translate(109 409.5)rotate(2)"/><use href="#ac" transform="translate(116 409.5)rotate(5)"/><use href="#ac" transform="translate(123 409.5)rotate(8)"/><use href="#ac" transform="translate(129.9 409.5)rotate(12)"/><use href="#ac" transform="translate(136.9 409.5)rotate(13)"/><use href="#ac" transform="translate(143.8 409.5)rotate(13)"/><use href="#ac" transform="translate(150.8 409.5)rotate(14)"/><use href="#ac" transform="translate(157.7 409.5)rotate(19)"/><use href="#ac" transform="translate(164.7 409.5)rotate(27)"/><use href="#ac" transform="translate(171.6 409.5)rotate(32)"/><use href="#ac" transform="translate(178.6 409.5)rotate(39)"/><use href="#ac" transform="translate(185.5 409.5)rotate(50)"/><use href="#ac" transform="translate(192.5 409.5)rotate(54)"/><use href="#ac" transform="translate(199.4 409.5)rotate(52)"/><use href="#ac" transform="translate(206.4 409.5)rotate(47)"/><use href="#ac" transform="translate(213.3 409.5)rotate(45)"/><use href="#ac" transform="translate(220.3 409.5)rotate(32)"/><use href="#ac" transform="translate(227.2 409.5)rotate(3)"/><use href="#ac" transform="translate(234.2 409.5)rotate(0)"/><use href="#ac" transform="translate(241.1 409.5)rotate(-17)"/><use href="#ac" transform="translate(248.1 409.5)rotate(-42)"/><use href="#ac" transform="translate(255 409.5)rotate(-43)"/><use href="#ac" transform="translate(262 409.5)rotate(-42)"/><use href="#ac" transform="translate(268.9 409.5)rotate(-41)"/><use href="#ac" transform="translate(275.9 409.5)rotate(137)"/><use href="#ac" transform="translate(282.8 409.5)rotate(136)"/><use href="#ac" transform="translate(289.8 409.5)rotate(131)"/><use href="#ac" transform="translate(296.7 409.5)rotate(128)"/><use href="#ac" transform="translate(303.7 409.5)rotate(133)"/><use href="#ac" transform="translate(310.6 409.5)rotate(137)"/><use href="#ac" transform="translate(4.8 416.4)rotate(43)"/><use href="#ac" transform="translate(11.8 416.4)rotate(28)"/><use href="#ac" transform="translate(18.7 416.4)rotate(10)"/><use href="#ac" transform="translate(25.7 416.4)rotate(2)"/><use href="#ac" transform="translate(32.6 416.4)rotate(1)"/><use href="#ac" transform="translate(39.5 416.4)rotate(3)"/><use href="#ac" transform="translate(46.5 416.4)rotate(5)"/><use href="#ac" transform="translate(53.4 416.4)rotate(6)"/><use href="#ac" transform="translate(60.4 416.4)rotate(5)"/><use href="#ac" transform="translate(67.4 416.4)rotate(4)"/><use href="#ac" transform="translate(74.3 416.4)rotate(3)"/><use href="#ac" transform="translate(81.2 416.4)rotate(2)"/><use href="#ac" transform="translate(88.2 416.4)rotate(2)"/><use href="#ac" transform="translate(95.2 416.4)rotate(2)"/><use href="#ac" transform="translate(102.1 416.4)rotate(3)"/><use href="#ac" transform="translate(109 416.4)rotate(4)"/><use href="#ac" transform="translate(116 416.4)rotate(7)"/><use href="#ac" transform="translate(123 416.4)rotate(10)"/><use href="#ac" transform="translate(129.9 416.4)rotate(13)"/><use href="#ac" transform="translate(136.9 416.4)rotate(16)"/><use href="#ac" transform="translate(143.8 416.4)rotate(17)"/><use href="#ac" transform="translate(150.8 416.4)rotate(18)"/><use href="#ac" transform="translate(157.7 416.4)rotate(22)"/><use href="#ac" transform="translate(164.7 416.4)rotate(28)"/><use href="#ac" transform="translate(171.6 416.4)rotate(36)"/><use href="#ac" transform="translate(178.6 416.4)rotate(48)"/><use href="#ac" transform="translate(185.5 416.4)rotate(58)"/><use href="#ac" transform="translate(192.5 416.4)rotate(59)"/><use href="#ac" transform="translate(199.4 416.4)rotate(56)"/><use href="#ac" transform="translate(206.4 416.4)rotate(54)"/><use href="#ac" transform="translate(213.3 416.4)rotate(52)"/><use href="#ac" transform="translate(220.3 416.4)rotate(41)"/><use href="#ac" transform="translate(227.2 416.4)rotate(15)"/><use href="#ac" transform="translate(234.2 416.4)rotate(3)"/><use href="#ac" transform="translate(241.1 416.4)rotate(-9)"/><use href="#ac" transform="translate(248.1 416.4)rotate(-29)"/><use href="#ac" transform="translate(255 416.4)rotate(-33)"/><use href="#ac" transform="translate(262 416.4)rotate(-25)"/><use href="#ac" transform="translate(268.9 416.4)rotate(14)"/><use href="#ac" transform="translate(275.9 416.4)rotate(73)"/><use href="#ac" transform="translate(282.8 416.4)rotate(90)"/><use href="#ac" transform="translate(289.8 416.4)rotate(95)"/><use href="#ac" transform="translate(296.7 416.4)rotate(98)"/><use href="#ac" transform="translate(303.7 416.4)rotate(101)"/><use href="#ac" transform="translate(310.6 416.4)rotate(106)"/><use href="#ac" transform="translate(4.8 423.3)rotate(62)"/><use href="#ac" transform="translate(11.8 423.3)rotate(46)"/><use href="#ac" transform="translate(18.7 423.3)rotate(16)"/><use href="#ac" transform="translate(25.7 423.3)rotate(2)"/><use href="#ac" transform="translate(32.6 423.3)rotate(1)"/><use href="#ac" transform="translate(39.5 423.3)rotate(4)"/><use href="#ac" transform="translate(46.5 423.3)rotate(6)"/><use href="#ac" transform="translate(53.4 423.3)rotate(7)"/><use href="#ac" transform="translate(60.4 423.3)rotate(5)"/><use href="#ac" transform="translate(67.4 423.3)rotate(3)"/><use href="#ac" transform="translate(74.3 423.3)rotate(1)"/><use href="#ac" transform="translate(81.2 423.3)rotate(1)"/><use href="#ac" transform="translate(88.2 423.3)rotate(1)"/><use href="#ac" transform="translate(95.2 423.3)rotate(3)"/><use href="#ac" transform="translate(102.1 423.3)rotate(4)"/><use href="#ac" transform="translate(109 423.3)rotate(6)"/><use href="#ac" transform="translate(116 423.3)rotate(9)"/><use href="#ac" transform="translate(123 423.3)rotate(12)"/><use href="#ac" transform="translate(129.9 423.3)rotate(15)"/><use href="#ac" transform="translate(136.9 423.3)rotate(18)"/><use href="#ac" transform="translate(143.8 423.3)rotate(19)"/><use href="#ac" transform="translate(150.8 423.3)rotate(20)"/><use href="#ac" transform="translate(157.7 423.3)rotate(23)"/><use href="#ac" transform="translate(164.7 423.3)rotate(29)"/><use href="#ac" transform="translate(171.6 423.3)rotate(39)"/><use href="#ac" transform="translate(178.6 423.3)rotate(51)"/><use href="#ac" transform="translate(185.5 423.3)rotate(59)"/><use href="#ac" transform="translate(192.5 423.3)rotate(59)"/><use href="#ac" transform="translate(199.4 423.3)rotate(59)"/><use href="#ac" transform="translate(206.4 423.3)rotate(66)"/><use href="#ac" transform="translate(213.3 423.3)rotate(73)"/><use href="#ac" transform="translate(220.3 423.3)rotate(68)"/><use href="#ac" transform="translate(227.2 423.3)rotate(44)"/><use href="#ac" transform="translate(234.2 423.3)rotate(20)"/><use href="#ac" transform="translate(241.1 423.3)rotate(5)"/><use href="#ac" transform="translate(248.1 423.3)rotate(-8)"/><use href="#ac" transform="translate(255 423.3)rotate(-9)"/><use href="#ac" transform="translate(262 423.3)rotate(8)"/><use href="#ac" transform="translate(268.9 423.3)rotate(41)"/><use href="#ac" transform="translate(275.9 423.3)rotate(61)"/><use href="#ac" transform="translate(282.8 423.3)rotate(71)"/><use href="#ac" transform="translate(289.8 423.3)rotate(82)"/><use href="#ac" transform="translate(296.7 423.3)rotate(89)"/><use href="#ac" transform="translate(303.7 423.3)rotate(90)"/><use href="#ac" transform="translate(310.6 423.3)rotate(93)"/><use href="#ac" transform="translate(4.8 430.2)rotate(82)"/><use href="#ac" transform="translate(11.8 430.2)rotate(76)"/><use href="#ac" transform="translate(18.7 430.2)rotate(45)"/><use href="#ac" transform="translate(25.7 430.2)rotate(13)"/><use href="#ac" transform="translate(32.6 430.2)rotate(7)"/><use href="#ac" transform="translate(39.5 430.2)rotate(7)"/><use href="#ac" transform="translate(46.5 430.2)rotate(9)"/><use href="#ac" transform="translate(53.4 430.2)rotate(8)"/><use href="#ac" transform="translate(60.4 430.2)rotate(5)"/><use href="#ac" transform="translate(67.4 430.2)rotate(2)"/><use href="#ac" transform="translate(74.3 430.2)rotate(0)"/><use href="#ac" transform="translate(81.2 430.2)rotate(0)"/><use href="#ac" transform="translate(88.2 430.2)rotate(1)"/><use href="#ac" transform="translate(95.2 430.2)rotate(2)"/><use href="#ac" transform="translate(102.1 430.2)rotate(5)"/><use href="#ac" transform="translate(109 430.2)rotate(7)"/><use href="#ac" transform="translate(116 430.2)rotate(10)"/><use href="#ac" transform="translate(123 430.2)rotate(14)"/><use href="#ac" transform="translate(129.9 430.2)rotate(17)"/><use href="#ac" transform="translate(136.9 430.2)rotate(19)"/><use href="#ac" transform="translate(143.8 430.2)rotate(20)"/><use href="#ac" transform="translate(150.8 430.2)rotate(20)"/><use href="#ac" transform="translate(157.7 430.2)rotate(21)"/><use href="#ac" transform="translate(164.7 430.2)rotate(27)"/><use href="#ac" transform="translate(171.6 430.2)rotate(37)"/><use href="#ac" transform="translate(178.6 430.2)rotate(48)"/><use href="#ac" transform="translate(185.5 430.2)rotate(55)"/><use href="#ac" transform="translate(192.5 430.2)rotate(58)"/><use href="#ac" transform="translate(199.4 430.2)rotate(61)"/><use href="#ac" transform="translate(206.4 430.2)rotate(73)"/><use href="#ac" transform="translate(213.3 430.2)rotate(80)"/><use href="#ac" transform="translate(220.3 430.2)rotate(77)"/><use href="#ac" transform="translate(227.2 430.2)rotate(63)"/><use href="#ac" transform="translate(234.2 430.2)rotate(41)"/><use href="#ac" transform="translate(241.1 430.2)rotate(24)"/><use href="#ac" transform="translate(248.1 430.2)rotate(15)"/><use href="#ac" transform="translate(255 430.2)rotate(18)"/><use href="#ac" transform="translate(262 430.2)rotate(34)"/><use href="#ac" transform="translate(268.9 430.2)rotate(49)"/><use href="#ac" transform="translate(275.9 430.2)rotate(54)"/><use href="#ac" transform="translate(282.8 430.2)rotate(56)"/><use href="#ac" transform="translate(289.8 430.2)rotate(71)"/><use href="#ac" transform="translate(296.7 430.2)rotate(89)"/><use href="#ac" transform="translate(303.7 430.2)rotate(90)"/><use href="#ac" transform="translate(310.6 430.2)rotate(90)"/><use href="#ac" transform="translate(4.8 437.1)rotate(89)"/><use href="#ac" transform="translate(11.8 437.1)rotate(88)"/><use href="#ac" transform="translate(18.7 437.1)rotate(74)"/><use href="#ac" transform="translate(25.7 437.1)rotate(39)"/><use href="#ac" transform="translate(32.6 437.1)rotate(20)"/><use href="#ac" transform="translate(39.5 437.1)rotate(15)"/><use href="#ac" transform="translate(46.5 437.1)rotate(12)"/><use href="#ac" transform="translate(53.4 437.1)rotate(10)"/><use href="#ac" transform="translate(60.4 437.1)rotate(6)"/><use href="#ac" transform="translate(67.4 437.1)rotate(3)"/><use href="#ac" transform="translate(74.3 437.1)rotate(1)"/><use href="#ac" transform="translate(81.2 437.1)rotate(1)"/><use href="#ac" transform="translate(88.2 437.1)rotate(1)"/><use href="#ac" transform="translate(95.2 437.1)rotate(3)"/><use href="#ac" transform="translate(102.1 437.1)rotate(6)"/><use href="#ac" transform="translate(109 437.1)rotate(8)"/><use href="#ac" transform="translate(116 437.1)rotate(12)"/><use href="#ac" transform="translate(123 437.1)rotate(15)"/><use href="#ac" transform="translate(129.9 437.1)rotate(18)"/><use href="#ac" transform="translate(136.9 437.1)rotate(20)"/><use href="#ac" transform="translate(143.8 437.1)rotate(20)"/><use href="#ac" transform="translate(150.8 437.1)rotate(20)"/><use href="#ac" transform="translate(157.7 437.1)rotate(21)"/><use href="#ac" transform="translate(164.7 437.1)rotate(26)"/><use href="#ac" transform="translate(171.6 437.1)rotate(34)"/><use href="#ac" transform="translate(178.6 437.1)rotate(44)"/><use href="#ac" transform="translate(185.5 437.1)rotate(51)"/><use href="#ac" transform="translate(192.5 437.1)rotate(56)"/><use href="#ac" transform="translate(199.4 437.1)rotate(62)"/><use href="#ac" transform="translate(206.4 437.1)rotate(71)"/><use href="#ac" transform="translate(213.3 437.1)rotate(76)"/><use href="#ac" transform="translate(220.3 437.1)rotate(75)"/><use href="#ac" transform="translate(227.2 437.1)rotate(65)"/><use href="#ac" transform="translate(234.2 437.1)rotate(50)"/><use href="#ac" transform="translate(241.1 437.1)rotate(38)"/><use href="#ac" transform="translate(248.1 437.1)rotate(32)"/><use href="#ac" transform="translate(255 437.1)rotate(36)"/><use href="#ac" transform="translate(262 437.1)rotate(44)"/><use href="#ac" transform="translate(268.9 437.1)rotate(50)"/><use href="#ac" transform="translate(275.9 437.1)rotate(49)"/><use href="#ac" transform="translate(282.8 437.1)rotate(46)"/><use href="#ac" transform="translate(289.8 437.1)rotate(52)"/><use href="#ac" transform="translate(296.7 437.1)rotate(80)"/><use href="#ac" transform="translate(303.7 437.1)rotate(87)"/><use href="#ac" transform="translate(310.6 437.1)rotate(90)"/><use href="#ac" transform="translate(4.8 444)rotate(89)"/><use href="#ac" transform="translate(11.8 444)rotate(89)"/><use href="#ac" transform="translate(18.7 444)rotate(79)"/><use href="#ac" transform="translate(25.7 444)rotate(56)"/><use href="#ac" transform="translate(32.6 444)rotate(34)"/><use href="#ac" transform="translate(39.5 444)rotate(22)"/><use href="#ac" transform="translate(46.5 444)rotate(16)"/><use href="#ac" transform="translate(53.4 444)rotate(12)"/><use href="#ac" transform="translate(60.4 444)rotate(8)"/><use href="#ac" transform="translate(67.4 444)rotate(5)"/><use href="#ac" transform="translate(74.3 444)rotate(3)"/><use href="#ac" transform="translate(81.2 444)rotate(2)"/><use href="#ac" transform="translate(88.2 444)rotate(3)"/><use href="#ac" transform="translate(95.2 444)rotate(4)"/><use href="#ac" transform="translate(102.1 444)rotate(7)"/><use href="#ac" transform="translate(109 444)rotate(10)"/><use href="#ac" transform="translate(116 444)rotate(13)"/><use href="#ac" transform="translate(123 444)rotate(16)"/><use href="#ac" transform="translate(129.9 444)rotate(18)"/><use href="#ac" transform="translate(136.9 444)rotate(20)"/><use href="#ac" transform="translate(143.8 444)rotate(20)"/><use href="#ac" transform="translate(150.8 444)rotate(21)"/><use href="#ac" transform="translate(157.7 444)rotate(22)"/><use href="#ac" transform="translate(164.7 444)rotate(26)"/><use href="#ac" transform="translate(171.6 444)rotate(33)"/><use href="#ac" transform="translate(178.6 444)rotate(41)"/><use href="#ac" transform="translate(185.5 444)rotate(48)"/><use href="#ac" transform="translate(192.5 444)rotate(53)"/><use href="#ac" transform="translate(199.4 444)rotate(59)"/><use href="#ac" transform="translate(206.4 444)rotate(66)"/><use href="#ac" transform="translate(213.3 444)rotate(69)"/><use href="#ac" transform="translate(220.3 444)rotate(68)"/><use href="#ac" transform="translate(227.2 444)rotate(62)"/><use href="#ac" transform="translate(234.2 444)rotate(53)"/><use href="#ac" transform="translate(241.1 444)rotate(45)"/><use href="#ac" transform="translate(248.1 444)rotate(42)"/><use href="#ac" transform="translate(255 444)rotate(44)"/><use href="#ac" transform="translate(262 444)rotate(49)"/><use href="#ac" transform="translate(268.9 444)rotate(51)"/><use href="#ac" transform="translate(275.9 444)rotate(49)"/><use href="#ac" transform="translate(282.8 444)rotate(46)"/><use href="#ac" transform="translate(289.8 444)rotate(50)"/><use href="#ac" transform="translate(296.7 444)rotate(69)"/><use href="#ac" transform="translate(303.7 444)rotate(84)"/><use href="#ac" transform="translate(310.6 444)rotate(89)"/><use href="#ac" transform="translate(4.8 450.9)rotate(85)"/><use href="#ac" transform="translate(11.8 450.9)rotate(84)"/><use href="#ac" transform="translate(18.7 450.9)rotate(76)"/><use href="#ac" transform="translate(25.7 450.9)rotate(59)"/><use href="#ac" transform="translate(32.6 450.9)rotate(40)"/><use href="#ac" transform="translate(39.5 450.9)rotate(27)"/><use href="#ac" transform="translate(46.5 450.9)rotate(19)"/><use href="#ac" transform="translate(53.4 450.9)rotate(14)"/><use href="#ac" transform="translate(60.4 450.9)rotate(10)"/><use href="#ac" transform="translate(67.4 450.9)rotate(7)"/><use href="#ac" transform="translate(74.3 450.9)rotate(5)"/><use href="#ac" transform="translate(81.2 450.9)rotate(5)"/><use href="#ac" transform="translate(88.2 450.9)rotate(5)"/><use href="#ac" transform="translate(95.2 450.9)rotate(6)"/><use href="#ac" transform="translate(102.1 450.9)rotate(8)"/><use href="#ac" transform="translate(109 450.9)rotate(11)"/><use href="#ac" transform="translate(116 450.9)rotate(14)"/><use href="#ac" transform="translate(123 450.9)rotate(16)"/><use href="#ac" transform="translate(129.9 450.9)rotate(18)"/><use href="#ac" transform="translate(136.9 450.9)rotate(20)"/><use href="#ac" transform="translate(143.8 450.9)rotate(21)"/><use href="#ac" transform="translate(150.8 450.9)rotate(22)"/><use href="#ac" transform="translate(157.7 450.9)rotate(23)"/><use href="#ac" transform="translate(164.7 450.9)rotate(27)"/><use href="#ac" transform="translate(171.6 450.9)rotate(33)"/><use href="#ac" transform="translate(178.6 450.9)rotate(39)"/><use href="#ac" transform="translate(185.5 450.9)rotate(45)"/><use href="#ac" transform="translate(192.5 450.9)rotate(50)"/><use href="#ac" transform="translate(199.4 450.9)rotate(55)"/><use href="#ac" transform="translate(206.4 450.9)rotate(60)"/><use href="#ac" transform="translate(213.3 450.9)rotate(62)"/><use href="#ac" transform="translate(220.3 450.9)rotate(61)"/><use href="#ac" transform="translate(227.2 450.9)rotate(58)"/><use href="#ac" transform="translate(234.2 450.9)rotate(52)"/><use href="#ac" transform="translate(241.1 450.9)rotate(48)"/><use href="#ac" transform="translate(248.1 450.9)rotate(47)"/><use href="#ac" transform="translate(255 450.9)rotate(48)"/><use href="#ac" transform="translate(262 450.9)rotate(51)"/><use href="#ac" transform="translate(268.9 450.9)rotate(52)"/><use href="#ac" transform="translate(275.9 450.9)rotate(52)"/><use href="#ac" transform="translate(282.8 450.9)rotate(51)"/><use href="#ac" transform="translate(289.8 450.9)rotate(56)"/><use href="#ac" transform="translate(296.7 450.9)rotate(68)"/><use href="#ac" transform="translate(303.7 450.9)rotate(81)"/><use href="#ac" transform="translate(310.6 450.9)rotate(87)"/></g><g fill="#6cc06a" stroke="#6cc06a"><use href="#ac" transform="translate(32.6 326.7)rotate(180)"/><use href="#ac" transform="translate(39.5 326.7)rotate(0)"/><use href="#ac" transform="translate(282.8 326.7)rotate(180)"/><use href="#ac" transform="translate(289.8 326.7)rotate(0)"/><use href="#ac" transform="translate(25.7 333.6)rotate(180)"/><use href="#ac" transform="translate(32.6 333.6)rotate(180)"/><use href="#ac" transform="translate(39.5 333.6)rotate(0)"/><use href="#ac" transform="translate(46.5 333.6)rotate(0)"/><use href="#ac" transform="translate(275.9 333.6)rotate(180)"/><use href="#ac" transform="translate(282.8 333.6)rotate(180)"/><use href="#ac" transform="translate(289.8 333.6)rotate(0)"/><use href="#ac" transform="translate(296.7 333.6)rotate(0)"/><use href="#ac" transform="translate(25.7 340.5)rotate(180)"/><use href="#ac" transform="translate(32.6 340.5)rotate(180)"/><use href="#ac" transform="translate(39.5 340.5)rotate(0)"/><use href="#ac" transform="translate(46.5 340.5)rotate(0)"/><use href="#ac" transform="translate(275.9 340.5)rotate(180)"/><use href="#ac" transform="translate(282.8 340.5)rotate(180)"/><use href="#ac" transform="translate(289.8 340.5)rotate(0)"/><use href="#ac" transform="translate(296.7 340.5)rotate(0)"/><use href="#ac" transform="translate(25.7 347.4)rotate(180)"/><use href="#ac" transform="translate(32.6 347.4)rotate(180)"/><use href="#ac" transform="translate(39.5 347.4)rotate(0)"/><use href="#ac" transform="translate(46.5 347.4)rotate(0)"/><use href="#ac" transform="translate(275.9 347.4)rotate(180)"/><use href="#ac" transform="translate(282.8 347.4)rotate(180)"/><use href="#ac" transform="translate(289.8 347.4)rotate(0)"/><use href="#ac" transform="translate(296.7 347.4)rotate(0)"/><use href="#ac" transform="translate(32.6 354.3)rotate(180)"/><use href="#ac" transform="translate(39.5 354.3)rotate(0)"/><use href="#ac" transform="translate(282.8 354.3)rotate(180)"/><use href="#ac" transform="translate(289.8 354.3)rotate(0)"/></g><ellipse cx="161.9" cy="340.4" rx="104.2" ry="104.4" fill="none" stroke="#555" stroke-width="1"/><circle cx="37.2" cy="340.3" r="19.2" fill="none" stroke="#555" stroke-width="0.9"/><circle cx="38.0" cy="340.7" r="15.4" fill="none" stroke="#333" stroke-width="0.9"/><circle cx="286.0" cy="340.6" r="19.0" fill="none" stroke="#555" stroke-width="0.9"/><circle cx="286.6" cy="341.0" r="15.2" fill="none" stroke="#333" stroke-width="0.9"/><path d="M19.8 340.3L26.1 333.9L26.1 337.2L37.2 337.2L37.2 343.4L26.1 343.4L26.1 346.7Z" fill="none" stroke="#ff0000" stroke-width="1.5"/><path d="M56.6 340.3L50.5 333.9L50.5 337.2L44.2 337.2L44.2 343.4L50.5 343.4L50.5 346.7Z" fill="none" stroke="#ff0000" stroke-width="1.5"/><path d="M263.7 340.2L271.6 332.9L271.6 336.7L281.4 336.7L281.4 343.7L271.6 343.7L271.6 347.4Z" fill="none" stroke="#ff0000" stroke-width="1.5"/><path d="M309.6 340.5L303.2 333.9L303.2 337L293.3 337L293.3 344L303.2 344L303.2 347.1Z" fill="none" stroke="#ff0000" stroke-width="1.5"/><path d="M37 356L34 364L41 362Z" fill="#8b1a1a"/><text x="0" y="0" font-size="19.35" font-weight="bold" fill="#111" transform="translate(12.20 254.64) scale(0.762 1)">(c)</text><path d="M267.6 418V393.2" stroke="#e8101c" stroke-width="4.2"/><path d="M267.6 388.2L264.3 393.7H270.9Z" fill="#e8101c"/><path d="M267.6 417L257 437.1" stroke="#1a9a4a" stroke-width="4"/><path d="M266.6 417H301.7" stroke="#3c6ccc" stroke-width="4.2"/><path d="M306.7 417L300.7 413.5V420.5Z" fill="#3c6ccc"/><text x="272.3" y="385.9" font-size="10" font-weight="bold" fill="#111">Z</text><text x="300.2" y="413.8" font-size="10" font-weight="bold" fill="#111">X</text><text x="273.1" y="436.3" font-size="10" font-weight="bold" fill="#111">Y</text><rect x="372.2" y="238.5" width="15.8" height="206.7" fill="url(#cbA)"/><path d="M371.7 238.5V445.2" stroke="#222" stroke-width="1"/><path d="M364.2 238.5H372.2" stroke="#222" stroke-width="1"/><text x="359" y="241.8" font-size="9.2" fill="#222" text-anchor="end">3.39e+16</text><path d="M367.2 244.8H372.2" stroke="#222" stroke-width="1"/><path d="M367.2 251H372.2" stroke="#222" stroke-width="1"/><path d="M364.2 257.3H372.2" stroke="#222" stroke-width="1"/><text x="359" y="260.6" font-size="9.2" fill="#222" text-anchor="end">1.47e+15</text><path d="M367.2 263.6H372.2" stroke="#222" stroke-width="1"/><path d="M367.2 269.8H372.2" stroke="#222" stroke-width="1"/><path d="M364.2 276.1H372.2" stroke="#222" stroke-width="1"/><text x="359" y="279.4" font-size="9.2" fill="#222" text-anchor="end">6.35e+13</text><path d="M367.2 282.3H372.2" stroke="#222" stroke-width="1"/><path d="M367.2 288.6H372.2" stroke="#222" stroke-width="1"/><path d="M364.2 294.9H372.2" stroke="#222" stroke-width="1"/><text x="359" y="298.2" font-size="9.2" fill="#222" text-anchor="end">2.75e+12</text><path d="M367.2 301.1H372.2" stroke="#222" stroke-width="1"/><path d="M367.2 307.4H372.2" stroke="#222" stroke-width="1"/><path d="M364.2 313.7H372.2" stroke="#222" stroke-width="1"/><text x="359" y="317" font-size="9.2" fill="#222" text-anchor="end">1.19e+11</text><path d="M367.2 319.9H372.2" stroke="#222" stroke-width="1"/><path d="M367.2 326.2H372.2" stroke="#222" stroke-width="1"/><path d="M364.2 332.5H372.2" stroke="#222" stroke-width="1"/><text x="359" y="335.8" font-size="9.2" fill="#222" text-anchor="end">5.15e+09</text><path d="M367.2 338.7H372.2" stroke="#222" stroke-width="1"/><path d="M367.2 345H372.2" stroke="#222" stroke-width="1"/><path d="M364.2 351.2H372.2" stroke="#222" stroke-width="1"/><text x="359" y="354.6" font-size="9.2" fill="#222" text-anchor="end">2.23e+08</text><path d="M367.2 357.5H372.2" stroke="#222" stroke-width="1"/><path d="M367.2 363.8H372.2" stroke="#222" stroke-width="1"/><path d="M364.2 370H372.2" stroke="#222" stroke-width="1"/><text x="359" y="373.3" font-size="9.2" fill="#222" text-anchor="end">9.69e+06</text><path d="M367.2 376.3H372.2" stroke="#222" stroke-width="1"/><path d="M367.2 382.6H372.2" stroke="#222" stroke-width="1"/><path d="M364.2 388.8H372.2" stroke="#222" stroke-width="1"/><text x="359" y="392.1" font-size="9.2" fill="#222" text-anchor="end">4.52e+05</text><path d="M367.2 395.1H372.2" stroke="#222" stroke-width="1"/><path d="M367.2 401.4H372.2" stroke="#222" stroke-width="1"/><path d="M364.2 407.6H372.2" stroke="#222" stroke-width="1"/><text x="359" y="410.9" font-size="9.2" fill="#222" text-anchor="end">52575</text><path d="M367.2 413.9H372.2" stroke="#222" stroke-width="1"/><path d="M367.2 420.1H372.2" stroke="#222" stroke-width="1"/><path d="M364.2 426.4H372.2" stroke="#222" stroke-width="1"/><text x="359" y="429.7" font-size="9.2" fill="#222" text-anchor="end">35267</text><path d="M367.2 432.7H372.2" stroke="#222" stroke-width="1"/><path d="M367.2 438.9H372.2" stroke="#222" stroke-width="1"/><path d="M364.2 445.2H372.2" stroke="#222" stroke-width="1"/><text x="359" y="448.5" font-size="9.2" fill="#222" text-anchor="end">34518</text><path d="M372 238.5L364 235V242Z" fill="#111"/><path d="M372 445.2L368 441.5L364 445.2L368 449Z" fill="#111"/><path d="M372 398.5L365 395V402Z" fill="#111"/><text transform="translate(384.5 342) rotate(-90)" font-size="10.5" font-weight="bold" fill="#111" text-anchor="middle">V/m (log)</text><clipPath id="pc"><rect x="453.5" y="7.8" width="227.0" height="178.5"/></clipPath><g clip-path="url(#pc)"><path d="M453.50 175.30L453.66 175.30L453.82 175.30L453.99 175.29L454.15 175.29L454.31 175.29L454.47 175.29L454.63 175.29L454.80 175.29L454.96 175.29L455.12 175.29L455.28 175.29L455.45 175.28L455.61 175.28L455.77 175.28L455.93 175.28L456.09 175.28L456.26 175.28L456.42 175.28L456.58 175.27L456.74 175.27L456.91 175.27L457.07 175.27L457.23 175.27L457.39 175.27L457.55 175.27L457.72 175.27L457.88 175.26L458.04 175.26L458.20 175.26L458.36 175.26L458.53 175.26L458.69 175.26L458.85 175.26L459.01 175.25L459.17 175.25L459.34 175.25L459.50 175.25L459.66 175.25L459.82 175.25L459.99 175.24L460.15 175.24L460.31 175.24L460.47 175.24L460.63 175.24L460.80 175.24L460.96 175.23L461.12 175.23L461.28 175.23L461.44 175.23L461.61 175.23L461.77 175.23L461.93 175.22L462.09 175.22L462.26 175.22L462.42 175.22L462.58 175.22L462.74 175.22L462.90 175.21L463.07 175.21L463.23 175.21L463.39 175.21L463.55 175.21L463.72 175.20L463.88 175.20L464.04 175.20L464.20 175.20L464.36 175.20L464.53 175.19L464.69 175.19L464.85 175.19L465.01 175.19L465.17 175.19L465.34 175.18L465.50 175.18L465.66 175.18L465.82 175.18L465.98 175.18L466.15 175.17L466.31 175.17L466.47 175.17L466.63 175.17L466.80 175.16L466.96 175.16L467.12 175.16L467.28 175.16L467.44 175.15L467.61 175.15L467.77 175.15L467.93 175.15L468.09 175.15L468.26 175.14L468.42 175.14L468.58 175.14L468.74 175.14L468.90 175.13L469.07 175.13L469.23 175.13L469.39 175.13L469.55 175.12L469.71 175.12L469.88 175.12L470.04 175.11L470.20 175.11L470.36 175.11L470.52 175.11L470.69 175.10L470.85 175.10L471.01 175.10L471.17 175.09L471.34 175.09L471.50 175.09L471.66 175.09L471.82 175.08L471.98 175.08L472.15 175.08L472.31 175.07L472.47 175.07L472.63 175.07L472.80 175.06L472.96 175.06L473.12 175.06L473.28 175.05L473.44 175.05L473.61 175.05L473.77 175.05L473.93 175.04L474.09 175.04L474.25 175.03L474.42 175.03L474.58 175.03L474.74 175.02L474.90 175.02L475.07 175.02L475.23 175.01L475.39 175.01L475.55 175.01L475.71 175.00L475.88 175.00L476.04 175.00L476.20 174.99L476.36 174.99L476.52 174.98L476.69 174.98L476.85 174.98L477.01 174.97L477.17 174.97L477.33 174.96L477.50 174.96L477.66 174.96L477.82 174.95L477.98 174.95L478.15 174.94L478.31 174.94L478.47 174.93L478.63 174.93L478.79 174.93L478.96 174.92L479.12 174.92L479.28 174.91L479.44 174.91L479.61 174.90L479.77 174.90L479.93 174.89L480.09 174.89L480.25 174.88L480.42 174.88L480.58 174.87L480.74 174.87L480.90 174.86L481.06 174.86L481.23 174.85L481.39 174.85L481.55 174.84L481.71 174.84L481.87 174.83L482.04 174.83L482.20 174.82L482.36 174.82L482.52 174.81L482.69 174.81L482.85 174.80L483.01 174.79L483.17 174.79L483.33 174.78L483.50 174.78L483.66 174.77L483.82 174.76L483.98 174.76L484.15 174.75L484.31 174.75L484.47 174.74L484.63 174.73L484.79 174.73L484.96 174.72L485.12 174.71L485.28 174.71L485.44 174.70L485.60 174.70L485.77 174.69L485.93 174.68L486.09 174.67L486.25 174.67L486.41 174.66L486.58 174.65L486.74 174.65L486.90 174.64L487.06 174.63L487.23 174.62L487.39 174.62L487.55 174.61L487.71 174.60L487.87 174.59L488.04 174.59L488.20 174.58L488.36 174.57L488.52 174.56L488.69 174.55L488.85 174.55L489.01 174.54L489.17 174.53L489.33 174.52L489.50 174.51L489.66 174.50L489.82 174.50L489.98 174.49L490.14 174.48L490.31 174.47L490.47 174.46L490.63 174.45L490.79 174.44L490.96 174.43L491.12 174.42L491.28 174.41L491.44 174.40L491.60 174.39L491.77 174.38L491.93 174.37L492.09 174.36L492.25 174.35L492.41 174.34L492.58 174.33L492.74 174.32L492.90 174.31L493.06 174.30L493.22 174.29L493.39 174.28L493.55 174.27L493.71 174.25L493.87 174.24L494.04 174.23L494.20 174.22L494.36 174.21L494.52 174.19L494.68 174.18L494.85 174.17L495.01 174.16L495.17 174.14L495.33 174.13L495.50 174.12L495.66 174.11L495.82 174.09L495.98 174.08L496.14 174.07L496.31 174.05L496.47 174.04L496.63 174.02L496.79 174.01L496.95 174.00L497.12 173.98L497.28 173.97L497.44 173.95L497.60 173.94L497.76 173.92L497.93 173.91L498.09 173.89L498.25 173.87L498.41 173.86L498.58 173.84L498.74 173.83L498.90 173.81L499.06 173.79L499.22 173.77L499.39 173.76L499.55 173.74L499.71 173.72L499.87 173.70L500.04 173.69L500.20 173.67L500.36 173.65L500.52 173.63L500.68 173.61L500.85 173.59L501.01 173.57L501.17 173.55L501.33 173.53L501.49 173.51L501.66 173.49L501.82 173.47L501.98 173.45L502.14 173.43L502.30 173.41L502.47 173.38L502.63 173.36L502.79 173.34L502.95 173.32L503.12 173.29L503.28 173.27L503.44 173.25L503.60 173.22L503.76 173.20L503.93 173.17L504.09 173.15L504.25 173.12L504.41 173.10L504.57 173.07L504.74 173.04L504.90 173.02L505.06 172.99L505.22 172.96L505.39 172.93L505.55 172.91L505.71 172.88L505.87 172.85L506.03 172.82L506.20 172.79L506.36 172.76L506.52 172.73L506.68 172.70L506.85 172.66L507.01 172.63L507.17 172.60L507.33 172.57L507.49 172.53L507.66 172.50L507.82 172.46L507.98 172.43L508.14 172.39L508.30 172.36L508.47 172.32L508.63 172.29L508.79 172.25L508.95 172.21L509.11 172.17L509.28 172.13L509.44 172.09L509.60 172.05L509.76 172.01L509.93 171.97L510.09 171.93L510.25 171.89L510.41 171.84L510.57 171.80L510.74 171.75L510.90 171.71L511.06 171.66L511.22 171.62L511.39 171.57L511.55 171.52L511.71 171.47L511.87 171.43L512.03 171.38L512.20 171.32L512.36 171.27L512.52 171.22L512.68 171.17L512.84 171.11L513.01 171.06L513.17 171.01L513.33 170.95L513.49 170.89L513.65 170.84L513.82 170.78L513.98 170.72L514.14 170.66L514.30 170.60L514.47 170.53L514.63 170.47L514.79 170.41L514.95 170.34L515.11 170.28L515.28 170.21L515.44 170.14L515.60 170.08L515.76 170.01L515.93 169.94L516.09 169.87L516.25 169.79L516.41 169.72L516.57 169.65L516.74 169.57L516.90 169.50L517.06 169.42L517.22 169.34L517.38 169.26L517.55 169.18L517.71 169.10L517.87 169.02L518.03 168.93L518.20 168.85L518.36 168.76L518.52 168.68L518.68 168.59L518.84 168.50L519.01 168.41L519.17 168.32L519.33 168.23L519.49 168.14L519.65 168.04L519.82 167.95L519.98 167.85L520.14 167.75L520.30 167.66L520.46 167.56L520.63 167.46L520.79 167.36L520.95 167.26L521.11 167.15L521.28 167.05L521.44 166.94L521.60 166.84L521.76 166.73L521.92 166.63L522.09 166.52L522.25 166.41L522.41 166.30L522.57 166.19L522.74 166.08L522.90 165.97L523.06 165.86L523.22 165.75L523.38 165.64L523.55 165.52L523.71 165.41L523.87 165.30L524.03 165.18L524.19 165.07L524.36 164.96L524.52 164.84L524.68 164.73L524.84 164.62L525.00 164.51L525.17 164.40L525.33 164.28L525.49 164.17L525.65 164.06L525.82 163.95L525.98 163.85L526.14 163.74L526.30 163.63L526.46 163.53L526.63 163.42L526.79 163.32L526.95 163.22L527.11 163.12L527.28 163.03L527.44 162.93L527.60 162.84L527.76 162.75L527.92 162.66L528.09 162.57L528.25 162.49L528.41 162.41L528.57 162.33L528.73 162.25L528.90 162.18L529.06 162.11L529.22 162.05L529.38 161.98L529.54 161.92L529.71 161.87L529.87 161.81L530.03 161.77L530.19 161.72L530.36 161.68L530.52 161.64L530.68 161.61L530.84 161.58L531.00 161.56L531.17 161.53L531.33 161.52L531.49 161.50L531.65 161.50L531.81 161.49L531.98 161.49L532.14 161.50L532.30 161.50L532.46 161.52L532.63 161.53L532.79 161.55L532.95 161.58L533.11 161.61L533.27 161.64L533.44 161.68L533.60 161.72L533.76 161.77L533.92 161.81L534.09 161.87L534.25 161.92L534.41 161.98L534.57 162.05L534.73 162.11L534.90 162.18L535.06 162.25L535.22 162.33L535.38 162.41L535.54 162.49L535.71 162.57L535.87 162.66L536.03 162.75L536.19 162.84L536.35 162.93L536.52 163.03L536.68 163.13L536.84 163.23L537.00 163.33L537.17 163.43L537.33 163.53L537.49 163.64L537.65 163.75L537.81 163.86L537.98 163.96L538.14 164.07L538.30 164.19L538.46 164.30L538.63 164.41L538.79 164.52L538.95 164.63L539.11 164.75L539.27 164.86L539.44 164.98L539.60 165.09L539.76 165.20L539.92 165.32L540.08 165.43L540.25 165.55L540.41 165.66L540.57 165.77L540.73 165.89L540.89 166.00L541.06 166.11L541.22 166.22L541.38 166.33L541.54 166.44L541.71 166.55L541.87 166.66L542.03 166.77L542.19 166.88L542.35 166.98L542.52 167.09L542.68 167.20L542.84 167.30L543.00 167.40L543.17 167.50L543.33 167.61L543.49 167.71L543.65 167.81L543.81 167.90L543.98 168.00L544.14 168.10L544.30 168.19L544.46 168.29L544.62 168.38L544.79 168.47L544.95 168.56L545.11 168.65L545.27 168.74L545.43 168.83L545.60 168.92L545.76 169.00L545.92 169.09L546.08 169.17L546.25 169.25L546.41 169.34L546.57 169.42L546.73 169.50L546.89 169.57L547.06 169.65L547.22 169.73L547.38 169.80L547.54 169.88L547.70 169.95L547.87 170.02L548.03 170.09L548.19 170.17L548.35 170.23L548.52 170.30L548.68 170.37L548.84 170.44L549.00 170.50L549.16 170.57L549.33 170.63L549.49 170.70L549.65 170.76L549.81 170.82L549.98 170.88L550.14 170.94L550.30 171.00L550.46 171.06L550.62 171.11L550.79 171.17L550.95 171.23L551.11 171.28L551.27 171.33L551.43 171.39L551.60 171.44L551.76 171.49L551.92 171.54L552.08 171.59L552.24 171.64L552.41 171.69L552.57 171.74L552.73 171.79L552.89 171.84L553.06 171.88L553.22 171.93L553.38 171.97L553.54 172.02L553.70 172.06L553.87 172.10L554.03 172.15L554.19 172.19L554.35 172.23L554.52 172.27L554.68 172.31L554.84 172.35L555.00 172.39L555.16 172.43L555.33 172.47L555.49 172.50L555.65 172.54L555.81 172.58L555.97 172.61L556.14 172.65L556.30 172.68L556.46 172.72L556.62 172.75L556.78 172.79L556.95 172.82L557.11 172.85L557.27 172.89L557.43 172.92L557.60 172.95L557.76 172.98L557.92 173.01L558.08 173.04L558.24 173.07L558.41 173.10L558.57 173.13L558.73 173.16L558.89 173.19L559.06 173.22L559.22 173.24L559.38 173.27L559.54 173.30L559.70 173.32L559.87 173.35L560.03 173.38L560.19 173.40L560.35 173.43L560.51 173.45L560.68 173.48L560.84 173.50L561.00 173.52L561.16 173.55L561.33 173.57L561.49 173.60L561.65 173.62L561.81 173.64L561.97 173.66L562.14 173.68L562.30 173.71L562.46 173.73L562.62 173.75L562.78 173.77L562.95 173.79L563.11 173.81L563.27 173.83L563.43 173.85L563.59 173.87L563.76 173.89L563.92 173.91L564.08 173.93L564.24 173.95L564.41 173.97L564.57 173.99L564.73 174.00L564.89 174.02L565.05 174.04L565.22 174.06L565.38 174.07L565.54 174.09L565.70 174.11L565.87 174.13L566.03 174.14L566.19 174.16L566.35 174.17L566.51 174.19L566.68 174.21L566.84 174.22L567.00 174.24L567.16 174.25L567.32 174.27L567.49 174.28L567.65 174.30L567.81 174.31L567.97 174.33L568.13 174.34L568.30 174.36L568.46 174.37L568.62 174.38L568.78 174.40L568.95 174.41L569.11 174.42L569.27 174.44L569.43 174.45L569.59 174.46L569.76 174.48L569.92 174.49L570.08 174.50L570.24 174.51L570.41 174.53L570.57 174.54L570.73 174.55L570.89 174.56L571.05 174.58L571.22 174.59L571.38 174.60L571.54 174.61L571.70 174.62L571.86 174.63L572.03 174.64L572.19 174.66L572.35 174.67L572.51 174.68L572.67 174.69L572.84 174.70L573.00 174.71L573.16 174.72L573.32 174.73L573.49 174.74L573.65 174.75L573.81 174.76L573.97 174.77L574.13 174.78L574.30 174.79L574.46 174.80L574.62 174.81L574.78 174.82L574.94 174.83L575.11 174.84L575.27 174.85L575.43 174.86L575.59 174.86L575.76 174.87L575.92 174.88L576.08 174.89L576.24 174.90L576.40 174.91L576.57 174.92L576.73 174.93L576.89 174.93L577.05 174.94L577.22 174.95L577.38 174.96L577.54 174.97L577.70 174.97L577.86 174.98L578.03 174.99L578.19 175.00L578.35 175.01L578.51 175.01L578.67 175.02L578.84 175.03L579.00 175.04L579.16 175.04L579.32 175.05L579.48 175.06L579.65 175.07L579.81 175.07L579.97 175.08L580.13 175.09L580.30 175.09L580.46 175.10L580.62 175.11L580.78 175.11L580.94 175.12L581.11 175.13L581.27 175.14L581.43 175.14L581.59 175.15L581.76 175.15L581.92 175.16L582.08 175.17L582.24 175.17L582.40 175.18L582.57 175.19L582.73 175.19L582.89 175.20L583.05 175.20L583.21 175.21L583.38 175.22L583.54 175.22L583.70 175.23L583.86 175.23L584.02 175.24L584.19 175.25L584.35 175.25L584.51 175.26L584.67 175.26L584.84 175.27L585.00 175.27L585.16 175.28L585.32 175.29L585.48 175.29L585.65 175.30L585.81 175.30L585.97 175.31L586.13 175.31L586.30 175.32L586.46 175.32L586.62 175.33L586.78 175.33L586.94 175.34L587.11 175.34L587.27 175.35L587.43 175.35L587.59 175.36L587.75 175.36L587.92 175.37L588.08 175.37L588.24 175.38L588.40 175.38L588.57 175.39L588.73 175.39L588.89 175.40L589.05 175.40L589.21 175.41L589.38 175.41L589.54 175.41L589.70 175.42L589.86 175.42L590.02 175.43L590.19 175.43L590.35 175.44L590.51 175.44L590.67 175.44L590.83 175.45L591.00 175.45L591.16 175.46L591.32 175.46L591.48 175.47L591.65 175.47L591.81 175.47L591.97 175.48L592.13 175.48L592.29 175.49L592.46 175.49L592.62 175.49L592.78 175.50L592.94 175.50L593.11 175.51L593.27 175.51L593.43 175.51L593.59 175.52L593.75 175.52L593.92 175.53L594.08 175.53L594.24 175.53L594.40 175.54L594.56 175.54L594.73 175.54L594.89 175.55L595.05 175.55L595.21 175.55L595.37 175.56L595.54 175.56L595.70 175.57L595.86 175.57L596.02 175.57L596.19 175.58L596.35 175.58L596.51 175.58L596.67 175.59L596.83 175.59L597.00 175.59L597.16 175.60L597.32 175.60L597.48 175.60L597.65 175.61L597.81 175.61L597.97 175.61L598.13 175.62L598.29 175.62L598.46 175.62L598.62 175.63L598.78 175.63L598.94 175.63L599.10 175.63L599.27 175.64L599.43 175.64L599.59 175.64L599.75 175.65L599.91 175.65L600.08 175.65L600.24 175.66L600.40 175.66L600.56 175.66L600.73 175.67L600.89 175.67L601.05 175.67L601.21 175.67L601.37 175.68L601.54 175.68L601.70 175.68L601.86 175.69L602.02 175.69L602.19 175.69L602.35 175.69L602.51 175.70L602.67 175.70L602.83 175.70L603.00 175.70L603.16 175.71L603.32 175.71L603.48 175.71L603.64 175.72L603.81 175.72L603.97 175.72L604.13 175.72L604.29 175.73L604.46 175.73L604.62 175.73L604.78 175.73L604.94 175.74L605.10 175.74L605.27 175.74L605.43 175.74L605.59 175.75L605.75 175.75L605.91 175.75L606.08 175.75L606.24 175.76L606.40 175.76L606.56 175.76L606.72 175.76L606.89 175.77L607.05 175.77L607.21 175.77L607.37 175.77L607.54 175.78L607.70 175.78L607.86 175.78L608.02 175.78L608.18 175.79L608.35 175.79L608.51 175.79L608.67 175.79L608.83 175.79L609.00 175.80L609.16 175.80L609.32 175.80L609.48 175.80L609.64 175.81L609.81 175.81L609.97 175.81L610.13 175.81L610.29 175.81L610.45 175.82L610.62 175.82L610.78 175.82L610.94 175.82L611.10 175.83L611.26 175.83L611.43 175.83L611.59 175.83L611.75 175.83L611.91 175.84L612.08 175.84L612.24 175.84L612.40 175.84L612.56 175.84L612.72 175.85L612.89 175.85L613.05 175.85L613.21 175.85L613.37 175.85L613.54 175.86L613.70 175.86L613.86 175.86L614.02 175.86L614.18 175.86L614.35 175.87L614.51 175.87L614.67 175.87L614.83 175.87L614.99 175.87L615.16 175.88L615.32 175.88L615.48 175.88L615.64 175.88L615.80 175.88L615.97 175.89L616.13 175.89L616.29 175.89L616.45 175.89L616.62 175.89L616.78 175.90L616.94 175.90L617.10 175.90L617.26 175.90L617.43 175.90L617.59 175.90L617.75 175.91L617.91 175.91L618.07 175.91L618.24 175.91L618.40 175.91L618.56 175.92L618.72 175.92L618.89 175.92L619.05 175.92L619.21 175.92L619.37 175.92L619.53 175.93L619.70 175.93L619.86 175.93L620.02 175.93L620.18 175.93L620.35 175.93L620.51 175.94L620.67 175.94L620.83 175.94L620.99 175.94L621.16 175.94L621.32 175.94L621.48 175.95L621.64 175.95L621.80 175.95L621.97 175.95L622.13 175.95L622.29 175.95L622.45 175.96L622.61 175.96L622.78 175.96L622.94 175.96L623.10 175.96L623.26 175.96L623.43 175.97L623.59 175.97L623.75 175.97L623.91 175.97L624.07 175.97L624.24 175.97L624.40 175.98L624.56 175.98L624.72 175.98L624.89 175.98L625.05 175.98L625.21 175.98L625.37 175.98L625.53 175.99L625.70 175.99L625.86 175.99L626.02 175.99L626.18 175.99L626.34 175.99L626.51 175.99L626.67 176.00L626.83 176.00L626.99 176.00L627.15 176.00L627.32 176.00L627.48 176.00L627.64 176.01L627.80 176.01L627.97 176.01L628.13 176.01L628.29 176.01L628.45 176.01L628.61 176.01L628.78 176.02L628.94 176.02L629.10 176.02L629.26 176.02L629.43 176.02L629.59 176.02L629.75 176.02L629.91 176.03L630.07 176.03L630.24 176.03L630.40 176.03L630.56 176.03L630.72 176.03L630.88 176.03L631.05 176.03L631.21 176.04L631.37 176.04L631.53 176.04L631.70 176.04L631.86 176.04L632.02 176.04L632.18 176.04L632.34 176.05L632.51 176.05L632.67 176.05L632.83 176.05L632.99 176.05L633.15 176.05L633.32 176.05L633.48 176.06L633.64 176.06L633.80 176.06L633.96 176.06L634.13 176.06L634.29 176.06L634.45 176.06L634.61 176.06L634.78 176.07L634.94 176.07L635.10 176.07L635.26 176.07L635.42 176.07L635.59 176.07L635.75 176.07L635.91 176.07L636.07 176.08L636.24 176.08L636.40 176.08L636.56 176.08L636.72 176.08L636.88 176.08L637.05 176.08L637.21 176.08L637.37 176.09L637.53 176.09L637.69 176.09L637.86 176.09L638.02 176.09L638.18 176.09L638.34 176.09L638.50 176.09L638.67 176.10L638.83 176.10L638.99 176.10L639.15 176.10L639.32 176.10L639.48 176.10L639.64 176.10L639.80 176.10L639.96 176.10L640.13 176.11L640.29 176.11L640.45 176.11L640.61 176.11L640.78 176.11L640.94 176.11L641.10 176.11L641.26 176.11L641.42 176.12L641.59 176.12L641.75 176.12L641.91 176.12L642.07 176.12L642.23 176.12L642.40 176.12L642.56 176.12L642.72 176.12L642.88 176.13L643.04 176.13L643.21 176.13L643.37 176.13L643.53 176.13L643.69 176.13L643.86 176.13L644.02 176.13L644.18 176.13L644.34 176.14L644.50 176.14L644.67 176.14L644.83 176.14L644.99 176.14L645.15 176.14L645.31 176.14L645.48 176.14L645.64 176.14L645.80 176.15L645.96 176.15L646.13 176.15L646.29 176.15L646.45 176.15L646.61 176.15L646.77 176.15L646.94 176.15L647.10 176.15L647.26 176.16L647.42 176.16L647.59 176.16L647.75 176.16L647.91 176.16L648.07 176.16L648.23 176.16L648.40 176.16L648.56 176.16L648.72 176.17L648.88 176.17L649.04 176.17L649.21 176.17L649.37 176.17L649.53 176.17L649.69 176.17L649.85 176.17L650.02 176.17L650.18 176.17L650.34 176.18L650.50 176.18L650.67 176.18L650.83 176.18L650.99 176.18L651.15 176.18L651.31 176.18L651.48 176.18L651.64 176.18L651.80 176.18L651.96 176.19L652.13 176.19L652.29 176.19L652.45 176.19L652.61 176.19L652.77 176.19L652.94 176.19L653.10 176.19L653.26 176.19L653.42 176.19L653.58 176.20L653.75 176.20L653.91 176.20L654.07 176.20L654.23 176.20L654.39 176.20L654.56 176.20L654.72 176.20L654.88 176.20L655.04 176.20L655.21 176.21L655.37 176.21L655.53 176.21L655.69 176.21L655.85 176.21L656.02 176.21L656.18 176.21L656.34 176.21L656.50 176.21L656.67 176.21L656.83 176.22L656.99 176.22L657.15 176.22L657.31 176.22L657.48 176.22L657.64 176.22L657.80 176.22L657.96 176.22L658.12 176.22L658.29 176.22L658.45 176.22L658.61 176.23L658.77 176.23L658.93 176.23L659.10 176.23L659.26 176.23L659.42 176.23L659.58 176.23L659.75 176.23L659.91 176.23L660.07 176.23L660.23 176.24L660.39 176.24L660.56 176.24L660.72 176.24L660.88 176.24L661.04 176.24L661.20 176.24L661.37 176.24L661.53 176.24L661.69 176.24L661.85 176.24L662.02 176.25L662.18 176.25L662.34 176.25L662.50 176.25L662.66 176.25L662.83 176.25L662.99 176.25L663.15 176.25L663.31 176.25L663.48 176.25L663.64 176.25L663.80 176.26L663.96 176.26L664.12 176.26L664.29 176.26L664.45 176.26L664.61 176.26L664.77 176.26L664.93 176.26L665.10 176.26L665.26 176.26L665.42 176.26L665.58 176.26L665.74 176.27L665.91 176.27L666.07 176.27L666.23 176.27L666.39 176.27L666.56 176.27L666.72 176.27L666.88 176.27L667.04 176.27L667.20 176.27L667.37 176.27L667.53 176.28L667.69 176.28L667.85 176.28L668.02 176.28L668.18 176.28L668.34 176.28L668.50 176.28L668.66 176.28L668.83 176.28L668.99 176.28L669.15 176.28L669.31 176.28L669.47 176.29L669.64 176.29L669.80 176.29L669.96 176.29L670.12 176.29L670.28 176.29L670.45 176.29L670.61 176.29L670.77 176.29L670.93 176.29L671.10 176.29L671.26 176.29L671.42 176.30L671.58 176.30L671.74 176.30L671.91 176.30L672.07 176.30L672.23 176.30L672.39 176.30L672.56 176.30L672.72 176.30L672.88 176.30L673.04 176.30L673.20 176.31L673.37 176.31L673.53 176.31L673.69 176.31L673.85 176.31L674.01 176.31L674.18 176.31L674.34 176.31L674.50 176.31L674.66 176.31L674.83 176.31L674.99 176.31L675.15 176.31L675.31 176.32L675.47 176.32L675.64 176.32L675.80 176.32L675.96 176.32L676.12 176.32L676.28 176.32L676.45 176.32L676.61 176.32L676.77 176.32L676.93 176.32L677.09 176.32L677.26 176.33L677.42 176.33L677.58 176.33L677.74 176.33L677.91 176.33L678.07 176.33L678.23 176.33L678.39 176.33L678.55 176.33L678.72 176.33L678.88 176.33L679.04 176.33L679.20 176.34L679.37 176.34L679.53 176.34L679.69 176.34L679.85 176.34L680.01 176.34L680.18 176.34L680.34 176.34L680.50 176.34" fill="none" stroke="#000" stroke-width="2.2" stroke-linejoin="round"/><path d="M531.6 161.5V83.4" stroke="#000" stroke-width="2"/><path d="M453.50 181.86L453.66 181.86L453.82 181.86L453.99 181.86L454.15 181.86L454.31 181.86L454.47 181.86L454.63 181.86L454.80 181.86L454.96 181.86L455.12 181.86L455.28 181.86L455.45 181.86L455.61 181.86L455.77 181.86L455.93 181.86L456.09 181.85L456.26 181.85L456.42 181.85L456.58 181.85L456.74 181.85L456.91 181.85L457.07 181.85L457.23 181.85L457.39 181.85L457.55 181.85L457.72 181.85L457.88 181.85L458.04 181.85L458.20 181.85L458.36 181.85L458.53 181.85L458.69 181.85L458.85 181.85L459.01 181.85L459.17 181.85L459.34 181.84L459.50 181.84L459.66 181.84L459.82 181.84L459.99 181.84L460.15 181.84L460.31 181.84L460.47 181.84L460.63 181.84L460.80 181.84L460.96 181.84L461.12 181.84L461.28 181.84L461.44 181.84L461.61 181.84L461.77 181.84L461.93 181.84L462.09 181.83L462.26 181.83L462.42 181.83L462.58 181.83L462.74 181.83L462.90 181.83L463.07 181.83L463.23 181.83L463.39 181.83L463.55 181.83L463.72 181.83L463.88 181.83L464.04 181.83L464.20 181.83L464.36 181.83L464.53 181.82L464.69 181.82L464.85 181.82L465.01 181.82L465.17 181.82L465.34 181.82L465.50 181.82L465.66 181.82L465.82 181.82L465.98 181.82L466.15 181.82L466.31 181.82L466.47 181.82L466.63 181.81L466.80 181.81L466.96 181.81L467.12 181.81L467.28 181.81L467.44 181.81L467.61 181.81L467.77 181.81L467.93 181.81L468.09 181.81L468.26 181.81L468.42 181.81L468.58 181.80L468.74 181.80L468.90 181.80L469.07 181.80L469.23 181.80L469.39 181.80L469.55 181.80L469.71 181.80L469.88 181.80L470.04 181.80L470.20 181.79L470.36 181.79L470.52 181.79L470.69 181.79L470.85 181.79L471.01 181.79L471.17 181.79L471.34 181.79L471.50 181.79L471.66 181.79L471.82 181.78L471.98 181.78L472.15 181.78L472.31 181.78L472.47 181.78L472.63 181.78L472.80 181.78L472.96 181.78L473.12 181.78L473.28 181.77L473.44 181.77L473.61 181.77L473.77 181.77L473.93 181.77L474.09 181.77L474.25 181.77L474.42 181.77L474.58 181.76L474.74 181.76L474.90 181.76L475.07 181.76L475.23 181.76L475.39 181.76L475.55 181.76L475.71 181.75L475.88 181.75L476.04 181.75L476.20 181.75L476.36 181.75L476.52 181.75L476.69 181.75L476.85 181.74L477.01 181.74L477.17 181.74L477.33 181.74L477.50 181.74L477.66 181.74L477.82 181.74L477.98 181.73L478.15 181.73L478.31 181.73L478.47 181.73L478.63 181.73L478.79 181.73L478.96 181.72L479.12 181.72L479.28 181.72L479.44 181.72L479.61 181.72L479.77 181.71L479.93 181.71L480.09 181.71L480.25 181.71L480.42 181.71L480.58 181.70L480.74 181.70L480.90 181.70L481.06 181.70L481.23 181.70L481.39 181.69L481.55 181.69L481.71 181.69L481.87 181.69L482.04 181.69L482.20 181.68L482.36 181.68L482.52 181.68L482.69 181.68L482.85 181.67L483.01 181.67L483.17 181.67L483.33 181.67L483.50 181.66L483.66 181.66L483.82 181.66L483.98 181.66L484.15 181.65L484.31 181.65L484.47 181.65L484.63 181.65L484.79 181.64L484.96 181.64L485.12 181.64L485.28 181.64L485.44 181.63L485.60 181.63L485.77 181.63L485.93 181.62L486.09 181.62L486.25 181.62L486.41 181.61L486.58 181.61L486.74 181.61L486.90 181.60L487.06 181.60L487.23 181.60L487.39 181.59L487.55 181.59L487.71 181.59L487.87 181.58L488.04 181.58L488.20 181.58L488.36 181.57L488.52 181.57L488.69 181.57L488.85 181.56L489.01 181.56L489.17 181.55L489.33 181.55L489.50 181.55L489.66 181.54L489.82 181.54L489.98 181.53L490.14 181.53L490.31 181.52L490.47 181.52L490.63 181.51L490.79 181.51L490.96 181.50L491.12 181.50L491.28 181.49L491.44 181.49L491.60 181.48L491.77 181.48L491.93 181.47L492.09 181.47L492.25 181.46L492.41 181.46L492.58 181.45L492.74 181.45L492.90 181.44L493.06 181.43L493.22 181.43L493.39 181.42L493.55 181.41L493.71 181.41L493.87 181.40L494.04 181.40L494.20 181.39L494.36 181.38L494.52 181.37L494.68 181.37L494.85 181.36L495.01 181.35L495.17 181.34L495.33 181.34L495.50 181.33L495.66 181.32L495.82 181.31L495.98 181.30L496.14 181.30L496.31 181.29L496.47 181.28L496.63 181.27L496.79 181.26L496.95 181.25L497.12 181.24L497.28 181.23L497.44 181.22L497.60 181.21L497.76 181.20L497.93 181.19L498.09 181.18L498.25 181.17L498.41 181.15L498.58 181.14L498.74 181.13L498.90 181.12L499.06 181.11L499.22 181.09L499.39 181.08L499.55 181.07L499.71 181.05L499.87 181.04L500.04 181.02L500.20 181.01L500.36 180.99L500.52 180.98L500.68 180.96L500.85 180.94L501.01 180.93L501.17 180.91L501.33 180.89L501.49 180.87L501.66 180.86L501.82 180.84L501.98 180.82L502.14 180.80L502.30 180.78L502.47 180.75L502.63 180.73L502.79 180.71L502.95 180.69L503.12 180.66L503.28 180.64L503.44 180.61L503.60 180.59L503.76 180.56L503.93 180.53L504.09 180.50L504.25 180.47L504.41 180.44L504.57 180.41L504.74 180.38L504.90 180.34L505.06 180.31L505.22 180.27L505.39 180.24L505.55 180.20L505.71 180.16L505.87 180.12L506.03 180.07L506.20 180.03L506.36 179.98L506.52 179.93L506.68 179.88L506.85 179.83L507.01 179.78L507.17 179.72L507.33 179.66L507.49 179.60L507.66 179.54L507.82 179.47L507.98 179.40L508.14 179.33L508.30 179.25L508.47 179.17L508.63 179.09L508.79 179.00L508.95 178.91L509.11 178.81L509.28 178.71L509.44 178.60L509.60 178.49L509.76 178.37L509.93 178.24L510.09 178.10L510.25 177.96L510.41 177.80L510.57 177.64L510.74 177.46L510.90 177.27L511.06 177.06L511.22 176.84L511.39 176.60L511.55 176.34L511.71 176.06L511.87 175.75L512.03 175.41L512.20 175.03L512.36 174.62L512.52 174.16L512.68 173.64L512.84 173.06L513.01 172.41L513.17 171.67L513.33 170.83L513.49 169.87L513.65 168.77L513.82 167.51L513.98 166.09L514.14 164.49L514.30 162.72L514.47 160.84L514.63 158.92L514.79 157.11L514.95 155.60L515.11 154.56L515.28 154.12L515.44 154.27L515.60 154.91L515.76 155.84L515.93 156.88L516.09 157.88L516.25 158.73L516.41 159.39L516.57 159.82L516.74 160.04L516.90 160.04L517.06 159.83L517.22 159.43L517.38 158.83L517.55 158.05L517.71 157.08L517.87 155.92L518.03 154.57L518.20 153.00L518.36 151.22L518.52 149.20L518.68 146.92L518.84 144.38L519.01 141.54L519.17 138.39L519.33 134.92L519.49 131.10L519.65 126.96L519.82 122.49L519.98 117.74L520.14 112.78L520.30 107.70L520.46 102.67L520.63 97.87L520.79 93.53L520.95 89.90L521.11 87.22L521.28 85.69L521.44 85.43L521.60 86.47L521.76 88.72L521.92 92.02L522.09 96.15L522.25 100.85L522.41 105.89L522.57 111.05L522.74 116.17L522.90 121.12L523.06 125.83L523.22 130.23L523.38 134.32L523.55 138.07L523.71 141.51L523.87 144.64L524.03 147.49L524.19 150.08L524.36 152.42L524.52 154.55L524.68 156.48L524.84 158.24L525.00 159.84L525.17 161.29L525.33 162.62L525.49 163.83L525.65 164.94L525.82 165.95L525.98 166.88L526.14 167.74L526.30 168.53L526.46 169.26L526.63 169.93L526.79 170.56L526.95 171.13L527.11 171.67L527.28 172.17L527.44 172.63L527.60 173.06L527.76 173.47L527.92 173.85L528.09 174.20L528.25 174.53L528.41 174.84L528.57 175.14L528.73 175.41L528.90 175.67L529.06 175.91L529.22 176.14L529.38 176.36L529.54 176.57L529.71 176.76L529.87 176.95L530.03 177.12L530.19 177.29L530.36 177.45L530.52 177.60L530.68 177.74L530.84 177.88L531.00 178.00L531.17 178.13L531.33 178.25L531.49 178.36L531.65 178.47L531.81 178.57L531.98 178.67L532.14 178.76L532.30 178.85L532.46 178.94L532.63 179.02L532.79 179.10L532.95 179.18L533.11 179.25L533.27 179.32L533.44 179.39L533.60 179.45L533.76 179.52L533.92 179.58L534.09 179.63L534.25 179.69L534.41 179.74L534.57 179.80L534.73 179.85L534.90 179.90L535.06 179.94L535.22 179.99L535.38 180.03L535.54 180.07L535.71 180.12L535.87 180.16L536.03 180.19L536.19 180.23L536.35 180.27L536.52 180.30L536.68 180.34L536.84 180.37L537.00 180.40L537.17 180.43L537.33 180.46L537.49 180.49L537.65 180.52L537.81 180.55L537.98 180.57L538.14 180.60L538.30 180.62L538.46 180.65L538.63 180.67L538.79 180.70L538.95 180.72L539.11 180.74L539.27 180.76L539.44 180.78L539.60 180.80L539.76 180.82L539.92 180.84L540.08 180.86L540.25 180.88L540.41 180.90L540.57 180.91L540.73 180.93L540.89 180.95L541.06 180.96L541.22 180.98L541.38 180.99L541.54 181.01L541.71 181.02L541.87 181.04L542.03 181.05L542.19 181.07L542.35 181.08L542.52 181.09L542.68 181.10L542.84 181.12L543.00 181.13L543.17 181.14L543.33 181.15L543.49 181.16L543.65 181.18L543.81 181.19L543.98 181.20L544.14 181.21L544.30 181.22L544.46 181.23L544.62 181.24L544.79 181.25L544.95 181.26L545.11 181.27L545.27 181.28L545.43 181.28L545.60 181.29L545.76 181.30L545.92 181.31L546.08 181.32L546.25 181.33L546.41 181.33L546.57 181.34L546.73 181.35L546.89 181.36L547.06 181.36L547.22 181.37L547.38 181.38L547.54 181.39L547.70 181.39L547.87 181.40L548.03 181.41L548.19 181.41L548.35 181.42L548.52 181.43L548.68 181.43L548.84 181.44L549.00 181.44L549.16 181.45L549.33 181.45L549.49 181.46L549.65 181.47L549.81 181.47L549.98 181.48L550.14 181.48L550.30 181.49L550.46 181.49L550.62 181.50L550.79 181.50L550.95 181.51L551.11 181.51L551.27 181.52L551.43 181.52L551.60 181.53L551.76 181.53L551.92 181.53L552.08 181.54L552.24 181.54L552.41 181.55L552.57 181.55L552.73 181.56L552.89 181.56L553.06 181.56L553.22 181.57L553.38 181.57L553.54 181.57L553.70 181.58L553.87 181.58L554.03 181.59L554.19 181.59L554.35 181.59L554.52 181.60L554.68 181.60L554.84 181.60L555.00 181.61L555.16 181.61L555.33 181.61L555.49 181.62L555.65 181.62L555.81 181.62L555.97 181.63L556.14 181.63L556.30 181.63L556.46 181.63L556.62 181.64L556.78 181.64L556.95 181.64L557.11 181.65L557.27 181.65L557.43 181.65L557.60 181.65L557.76 181.66L557.92 181.66L558.08 181.66L558.24 181.66L558.41 181.67L558.57 181.67L558.73 181.67L558.89 181.67L559.06 181.68L559.22 181.68L559.38 181.68L559.54 181.68L559.70 181.68L559.87 181.69L560.03 181.69L560.19 181.69L560.35 181.69L560.51 181.70L560.68 181.70L560.84 181.70L561.00 181.70L561.16 181.70L561.33 181.71L561.49 181.71L561.65 181.71L561.81 181.71L561.97 181.71L562.14 181.71L562.30 181.72L562.46 181.72L562.62 181.72L562.78 181.72L562.95 181.72L563.11 181.73L563.27 181.73L563.43 181.73L563.59 181.73L563.76 181.73L563.92 181.73L564.08 181.74L564.24 181.74L564.41 181.74L564.57 181.74L564.73 181.74L564.89 181.74L565.05 181.75L565.22 181.75L565.38 181.75L565.54 181.75L565.70 181.75L565.87 181.75L566.03 181.75L566.19 181.76L566.35 181.76L566.51 181.76L566.68 181.76L566.84 181.76L567.00 181.76L567.16 181.76L567.32 181.76L567.49 181.77L567.65 181.77L567.81 181.77L567.97 181.77L568.13 181.77L568.30 181.77L568.46 181.77L568.62 181.77L568.78 181.78L568.95 181.78L569.11 181.78L569.27 181.78L569.43 181.78L569.59 181.78L569.76 181.78L569.92 181.78L570.08 181.78L570.24 181.79L570.41 181.79L570.57 181.79L570.73 181.79L570.89 181.79L571.05 181.79L571.22 181.79L571.38 181.79L571.54 181.79L571.70 181.80L571.86 181.80L572.03 181.80L572.19 181.80L572.35 181.80L572.51 181.80L572.67 181.80L572.84 181.80L573.00 181.80L573.16 181.80L573.32 181.80L573.49 181.81L573.65 181.81L573.81 181.81L573.97 181.81L574.13 181.81L574.30 181.81L574.46 181.81L574.62 181.81L574.78 181.81L574.94 181.81L575.11 181.81L575.27 181.81L575.43 181.82L575.59 181.82L575.76 181.82L575.92 181.82L576.08 181.82L576.24 181.82L576.40 181.82L576.57 181.82L576.73 181.82L576.89 181.82L577.05 181.82L577.22 181.82L577.38 181.82L577.54 181.83L577.70 181.83L577.86 181.83L578.03 181.83L578.19 181.83L578.35 181.83L578.51 181.83L578.67 181.83L578.84 181.83L579.00 181.83L579.16 181.83L579.32 181.83L579.48 181.83L579.65 181.83L579.81 181.83L579.97 181.84L580.13 181.84L580.30 181.84L580.46 181.84L580.62 181.84L580.78 181.84L580.94 181.84L581.11 181.84L581.27 181.84L581.43 181.84L581.59 181.84L581.76 181.84L581.92 181.84L582.08 181.84L582.24 181.84L582.40 181.84L582.57 181.84L582.73 181.85L582.89 181.85L583.05 181.85L583.21 181.85L583.38 181.85L583.54 181.85L583.70 181.85L583.86 181.85L584.02 181.85L584.19 181.85L584.35 181.85L584.51 181.85L584.67 181.85L584.84 181.85L585.00 181.85L585.16 181.85L585.32 181.85L585.48 181.85L585.65 181.85L585.81 181.86L585.97 181.86L586.13 181.86L586.30 181.86L586.46 181.86L586.62 181.86L586.78 181.86L586.94 181.86L587.11 181.86L587.27 181.86L587.43 181.86L587.59 181.86L587.75 181.86L587.92 181.86L588.08 181.86L588.24 181.86L588.40 181.86L588.57 181.86L588.73 181.86L588.89 181.86L589.05 181.86L589.21 181.86L589.38 181.86L589.54 181.87L589.70 181.87L589.86 181.87L590.02 181.87L590.19 181.87L590.35 181.87L590.51 181.87L590.67 181.87L590.83 181.87L591.00 181.87L591.16 181.87L591.32 181.87L591.48 181.87L591.65 181.87L591.81 181.87L591.97 181.87L592.13 181.87L592.29 181.87L592.46 181.87L592.62 181.87L592.78 181.87L592.94 181.87L593.11 181.87L593.27 181.87L593.43 181.87L593.59 181.87L593.75 181.87L593.92 181.87L594.08 181.88L594.24 181.88L594.40 181.88L594.56 181.88L594.73 181.88L594.89 181.88L595.05 181.88L595.21 181.88L595.37 181.88L595.54 181.88L595.70 181.88L595.86 181.88L596.02 181.88L596.19 181.88L596.35 181.88L596.51 181.88L596.67 181.88L596.83 181.88L597.00 181.88L597.16 181.88L597.32 181.88L597.48 181.88L597.65 181.88L597.81 181.88L597.97 181.88L598.13 181.88L598.29 181.88L598.46 181.88L598.62 181.88L598.78 181.88L598.94 181.88L599.10 181.88L599.27 181.88L599.43 181.89L599.59 181.89L599.75 181.89L599.91 181.89L600.08 181.89L600.24 181.89L600.40 181.89L600.56 181.89L600.73 181.89L600.89 181.89L601.05 181.89L601.21 181.89L601.37 181.89L601.54 181.89L601.70 181.89L601.86 181.89L602.02 181.89L602.19 181.89L602.35 181.89L602.51 181.89L602.67 181.89L602.83 181.89L603.00 181.89L603.16 181.89L603.32 181.89L603.48 181.89L603.64 181.89L603.81 181.89L603.97 181.89L604.13 181.89L604.29 181.89L604.46 181.89L604.62 181.89L604.78 181.89L604.94 181.89L605.10 181.89L605.27 181.89L605.43 181.89L605.59 181.89L605.75 181.89L605.91 181.89L606.08 181.89L606.24 181.89L606.40 181.90L606.56 181.90L606.72 181.90L606.89 181.90L607.05 181.90L607.21 181.90L607.37 181.90L607.54 181.90L607.70 181.90L607.86 181.90L608.02 181.90L608.18 181.90L608.35 181.90L608.51 181.90L608.67 181.90L608.83 181.90L609.00 181.90L609.16 181.90L609.32 181.90L609.48 181.90L609.64 181.90L609.81 181.90L609.97 181.90L610.13 181.90L610.29 181.90L610.45 181.90L610.62 181.90L610.78 181.90L610.94 181.90L611.10 181.90L611.26 181.90L611.43 181.90L611.59 181.90L611.75 181.90L611.91 181.90L612.08 181.90L612.24 181.90L612.40 181.90L612.56 181.90L612.72 181.90L612.89 181.90L613.05 181.90L613.21 181.90L613.37 181.90L613.54 181.90L613.70 181.90L613.86 181.90L614.02 181.90L614.18 181.90L614.35 181.90L614.51 181.90L614.67 181.90L614.83 181.90L614.99 181.90L615.16 181.90L615.32 181.90L615.48 181.91L615.64 181.91L615.80 181.91L615.97 181.91L616.13 181.91L616.29 181.91L616.45 181.91L616.62 181.91L616.78 181.91L616.94 181.91L617.10 181.91L617.26 181.91L617.43 181.91L617.59 181.91L617.75 181.91L617.91 181.91L618.07 181.91L618.24 181.91L618.40 181.91L618.56 181.91L618.72 181.91L618.89 181.91L619.05 181.91L619.21 181.91L619.37 181.91L619.53 181.91L619.70 181.91L619.86 181.91L620.02 181.91L620.18 181.91L620.35 181.91L620.51 181.91L620.67 181.91L620.83 181.91L620.99 181.91L621.16 181.91L621.32 181.91L621.48 181.91L621.64 181.91L621.80 181.91L621.97 181.91L622.13 181.91L622.29 181.91L622.45 181.91L622.61 181.91L622.78 181.91L622.94 181.91L623.10 181.91L623.26 181.91L623.43 181.91L623.59 181.91L623.75 181.91L623.91 181.91L624.07 181.91L624.24 181.91L624.40 181.91L624.56 181.91L624.72 181.91L624.89 181.91L625.05 181.91L625.21 181.91L625.37 181.91L625.53 181.91L625.70 181.91L625.86 181.91L626.02 181.91L626.18 181.91L626.34 181.91L626.51 181.91L626.67 181.91L626.83 181.91L626.99 181.91L627.15 181.91L627.32 181.91L627.48 181.91L627.64 181.91L627.80 181.91L627.97 181.91L628.13 181.91L628.29 181.92L628.45 181.92L628.61 181.92L628.78 181.92L628.94 181.92L629.10 181.92L629.26 181.92L629.43 181.92L629.59 181.92L629.75 181.92L629.91 181.92L630.07 181.92L630.24 181.92L630.40 181.92L630.56 181.92L630.72 181.92L630.88 181.92L631.05 181.92L631.21 181.92L631.37 181.92L631.53 181.92L631.70 181.92L631.86 181.92L632.02 181.92L632.18 181.92L632.34 181.92L632.51 181.92L632.67 181.92L632.83 181.92L632.99 181.92L633.15 181.92L633.32 181.92L633.48 181.92L633.64 181.92L633.80 181.92L633.96 181.92L634.13 181.92L634.29 181.92L634.45 181.92L634.61 181.92L634.78 181.92L634.94 181.92L635.10 181.92L635.26 181.92L635.42 181.92L635.59 181.92L635.75 181.92L635.91 181.92L636.07 181.92L636.24 181.92L636.40 181.92L636.56 181.92L636.72 181.92L636.88 181.92L637.05 181.92L637.21 181.92L637.37 181.92L637.53 181.92L637.69 181.92L637.86 181.92L638.02 181.92L638.18 181.92L638.34 181.92L638.50 181.92L638.67 181.92L638.83 181.92L638.99 181.92L639.15 181.92L639.32 181.92L639.48 181.92L639.64 181.92L639.80 181.92L639.96 181.92L640.13 181.92L640.29 181.92L640.45 181.92L640.61 181.92L640.78 181.92L640.94 181.92L641.10 181.92L641.26 181.92L641.42 181.92L641.59 181.92L641.75 181.92L641.91 181.92L642.07 181.92L642.23 181.92L642.40 181.92L642.56 181.92L642.72 181.92L642.88 181.92L643.04 181.92L643.21 181.92L643.37 181.92L643.53 181.92L643.69 181.92L643.86 181.92L644.02 181.92L644.18 181.92L644.34 181.92L644.50 181.92L644.67 181.92L644.83 181.92L644.99 181.92L645.15 181.92L645.31 181.92L645.48 181.92L645.64 181.92L645.80 181.92L645.96 181.92L646.13 181.92L646.29 181.92L646.45 181.92L646.61 181.92L646.77 181.92L646.94 181.92L647.10 181.92L647.26 181.92L647.42 181.92L647.59 181.92L647.75 181.92L647.91 181.92L648.07 181.93L648.23 181.93L648.40 181.93L648.56 181.93L648.72 181.93L648.88 181.93L649.04 181.93L649.21 181.93L649.37 181.93L649.53 181.93L649.69 181.93L649.85 181.93L650.02 181.93L650.18 181.93L650.34 181.93L650.50 181.93L650.67 181.93L650.83 181.93L650.99 181.93L651.15 181.93L651.31 181.93L651.48 181.93L651.64 181.93L651.80 181.93L651.96 181.93L652.13 181.93L652.29 181.93L652.45 181.93L652.61 181.93L652.77 181.93L652.94 181.93L653.10 181.93L653.26 181.93L653.42 181.93L653.58 181.93L653.75 181.93L653.91 181.93L654.07 181.93L654.23 181.93L654.39 181.93L654.56 181.93L654.72 181.93L654.88 181.93L655.04 181.93L655.21 181.93L655.37 181.93L655.53 181.93L655.69 181.93L655.85 181.93L656.02 181.93L656.18 181.93L656.34 181.93L656.50 181.93L656.67 181.93L656.83 181.93L656.99 181.93L657.15 181.93L657.31 181.93L657.48 181.93L657.64 181.93L657.80 181.93L657.96 181.93L658.12 181.93L658.29 181.93L658.45 181.93L658.61 181.93L658.77 181.93L658.93 181.93L659.10 181.93L659.26 181.93L659.42 181.93L659.58 181.93L659.75 181.93L659.91 181.93L660.07 181.93L660.23 181.93L660.39 181.93L660.56 181.93L660.72 181.93L660.88 181.93L661.04 181.93L661.20 181.93L661.37 181.93L661.53 181.93L661.69 181.93L661.85 181.93L662.02 181.93L662.18 181.93L662.34 181.93L662.50 181.93L662.66 181.93L662.83 181.93L662.99 181.93L663.15 181.93L663.31 181.93L663.48 181.93L663.64 181.93L663.80 181.93L663.96 181.93L664.12 181.93L664.29 181.93L664.45 181.93L664.61 181.93L664.77 181.93L664.93 181.93L665.10 181.93L665.26 181.93L665.42 181.93L665.58 181.93L665.74 181.93L665.91 181.93L666.07 181.93L666.23 181.93L666.39 181.93L666.56 181.93L666.72 181.93L666.88 181.93L667.04 181.93L667.20 181.93L667.37 181.93L667.53 181.93L667.69 181.93L667.85 181.93L668.02 181.93L668.18 181.93L668.34 181.93L668.50 181.93L668.66 181.93L668.83 181.93L668.99 181.93L669.15 181.93L669.31 181.93L669.47 181.93L669.64 181.93L669.80 181.93L669.96 181.93L670.12 181.93L670.28 181.93L670.45 181.93L670.61 181.93L670.77 181.93L670.93 181.93L671.10 181.93L671.26 181.93L671.42 181.93L671.58 181.93L671.74 181.93L671.91 181.93L672.07 181.93L672.23 181.93L672.39 181.93L672.56 181.93L672.72 181.93L672.88 181.93L673.04 181.93L673.20 181.93L673.37 181.93L673.53 181.93L673.69 181.93L673.85 181.93L674.01 181.93L674.18 181.93L674.34 181.93L674.50 181.93L674.66 181.93L674.83 181.93L674.99 181.93L675.15 181.93L675.31 181.93L675.47 181.93L675.64 181.93L675.80 181.93L675.96 181.93L676.12 181.93L676.28 181.93L676.45 181.93L676.61 181.93L676.77 181.93L676.93 181.93L677.09 181.93L677.26 181.93L677.42 181.93L677.58 181.93L677.74 181.93L677.91 181.93L678.07 181.93L678.23 181.93L678.39 181.93L678.55 181.93L678.72 181.93L678.88 181.93L679.04 181.93L679.20 181.93L679.37 181.93L679.53 181.93L679.69 181.93L679.85 181.93L680.01 181.93L680.18 181.93L680.34 181.93L680.50 181.93" fill="none" stroke="#ff0000" stroke-width="2.2" stroke-linejoin="round"/><path d="M453.50 180.95L453.66 180.95L453.82 180.95L453.99 180.95L454.15 180.95L454.31 180.95L454.47 180.95L454.63 180.95L454.80 180.94L454.96 180.94L455.12 180.94L455.28 180.94L455.45 180.94L455.61 180.94L455.77 180.94L455.93 180.94L456.09 180.94L456.26 180.94L456.42 180.94L456.58 180.94L456.74 180.94L456.91 180.94L457.07 180.94L457.23 180.94L457.39 180.94L457.55 180.94L457.72 180.93L457.88 180.93L458.04 180.93L458.20 180.93L458.36 180.93L458.53 180.93L458.69 180.93L458.85 180.93L459.01 180.93L459.17 180.93L459.34 180.93L459.50 180.93L459.66 180.93L459.82 180.93L459.99 180.93L460.15 180.93L460.31 180.92L460.47 180.92L460.63 180.92L460.80 180.92L460.96 180.92L461.12 180.92L461.28 180.92L461.44 180.92L461.61 180.92L461.77 180.92L461.93 180.92L462.09 180.92L462.26 180.92L462.42 180.92L462.58 180.92L462.74 180.91L462.90 180.91L463.07 180.91L463.23 180.91L463.39 180.91L463.55 180.91L463.72 180.91L463.88 180.91L464.04 180.91L464.20 180.91L464.36 180.91L464.53 180.91L464.69 180.91L464.85 180.91L465.01 180.90L465.17 180.90L465.34 180.90L465.50 180.90L465.66 180.90L465.82 180.90L465.98 180.90L466.15 180.90L466.31 180.90L466.47 180.90L466.63 180.90L466.80 180.90L466.96 180.90L467.12 180.89L467.28 180.89L467.44 180.89L467.61 180.89L467.77 180.89L467.93 180.89L468.09 180.89L468.26 180.89L468.42 180.89L468.58 180.89L468.74 180.89L468.90 180.89L469.07 180.88L469.23 180.88L469.39 180.88L469.55 180.88L469.71 180.88L469.88 180.88L470.04 180.88L470.20 180.88L470.36 180.88L470.52 180.88L470.69 180.88L470.85 180.87L471.01 180.87L471.17 180.87L471.34 180.87L471.50 180.87L471.66 180.87L471.82 180.87L471.98 180.87L472.15 180.87L472.31 180.87L472.47 180.86L472.63 180.86L472.80 180.86L472.96 180.86L473.12 180.86L473.28 180.86L473.44 180.86L473.61 180.86L473.77 180.86L473.93 180.86L474.09 180.85L474.25 180.85L474.42 180.85L474.58 180.85L474.74 180.85L474.90 180.85L475.07 180.85L475.23 180.85L475.39 180.85L475.55 180.84L475.71 180.84L475.88 180.84L476.04 180.84L476.20 180.84L476.36 180.84L476.52 180.84L476.69 180.84L476.85 180.84L477.01 180.83L477.17 180.83L477.33 180.83L477.50 180.83L477.66 180.83L477.82 180.83L477.98 180.83L478.15 180.83L478.31 180.82L478.47 180.82L478.63 180.82L478.79 180.82L478.96 180.82L479.12 180.82L479.28 180.82L479.44 180.82L479.61 180.81L479.77 180.81L479.93 180.81L480.09 180.81L480.25 180.81L480.42 180.81L480.58 180.81L480.74 180.80L480.90 180.80L481.06 180.80L481.23 180.80L481.39 180.80L481.55 180.80L481.71 180.80L481.87 180.79L482.04 180.79L482.20 180.79L482.36 180.79L482.52 180.79L482.69 180.79L482.85 180.78L483.01 180.78L483.17 180.78L483.33 180.78L483.50 180.78L483.66 180.78L483.82 180.78L483.98 180.77L484.15 180.77L484.31 180.77L484.47 180.77L484.63 180.77L484.79 180.77L484.96 180.76L485.12 180.76L485.28 180.76L485.44 180.76L485.60 180.76L485.77 180.76L485.93 180.75L486.09 180.75L486.25 180.75L486.41 180.75L486.58 180.75L486.74 180.74L486.90 180.74L487.06 180.74L487.23 180.74L487.39 180.74L487.55 180.73L487.71 180.73L487.87 180.73L488.04 180.73L488.20 180.73L488.36 180.73L488.52 180.72L488.69 180.72L488.85 180.72L489.01 180.72L489.17 180.71L489.33 180.71L489.50 180.71L489.66 180.71L489.82 180.71L489.98 180.70L490.14 180.70L490.31 180.70L490.47 180.70L490.63 180.70L490.79 180.69L490.96 180.69L491.12 180.69L491.28 180.69L491.44 180.68L491.60 180.68L491.77 180.68L491.93 180.68L492.09 180.67L492.25 180.67L492.41 180.67L492.58 180.67L492.74 180.66L492.90 180.66L493.06 180.66L493.22 180.66L493.39 180.65L493.55 180.65L493.71 180.65L493.87 180.65L494.04 180.64L494.20 180.64L494.36 180.64L494.52 180.64L494.68 180.63L494.85 180.63L495.01 180.63L495.17 180.62L495.33 180.62L495.50 180.62L495.66 180.62L495.82 180.61L495.98 180.61L496.14 180.61L496.31 180.60L496.47 180.60L496.63 180.60L496.79 180.59L496.95 180.59L497.12 180.59L497.28 180.59L497.44 180.58L497.60 180.58L497.76 180.58L497.93 180.57L498.09 180.57L498.25 180.57L498.41 180.56L498.58 180.56L498.74 180.56L498.90 180.55L499.06 180.55L499.22 180.54L499.39 180.54L499.55 180.54L499.71 180.53L499.87 180.53L500.04 180.53L500.20 180.52L500.36 180.52L500.52 180.51L500.68 180.51L500.85 180.51L501.01 180.50L501.17 180.50L501.33 180.49L501.49 180.49L501.66 180.49L501.82 180.48L501.98 180.48L502.14 180.47L502.30 180.47L502.47 180.46L502.63 180.46L502.79 180.46L502.95 180.45L503.12 180.45L503.28 180.44L503.44 180.44L503.60 180.43L503.76 180.43L503.93 180.42L504.09 180.42L504.25 180.41L504.41 180.41L504.57 180.40L504.74 180.40L504.90 180.39L505.06 180.39L505.22 180.38L505.39 180.38L505.55 180.37L505.71 180.37L505.87 180.36L506.03 180.36L506.20 180.35L506.36 180.34L506.52 180.34L506.68 180.33L506.85 180.33L507.01 180.32L507.17 180.31L507.33 180.31L507.49 180.30L507.66 180.30L507.82 180.29L507.98 180.28L508.14 180.28L508.30 180.27L508.47 180.26L508.63 180.26L508.79 180.25L508.95 180.24L509.11 180.24L509.28 180.23L509.44 180.22L509.60 180.22L509.76 180.21L509.93 180.20L510.09 180.19L510.25 180.19L510.41 180.18L510.57 180.17L510.74 180.16L510.90 180.16L511.06 180.15L511.22 180.14L511.39 180.13L511.55 180.12L511.71 180.11L511.87 180.11L512.03 180.10L512.20 180.09L512.36 180.08L512.52 180.07L512.68 180.06L512.84 180.05L513.01 180.04L513.17 180.03L513.33 180.02L513.49 180.01L513.65 180.00L513.82 179.99L513.98 179.98L514.14 179.97L514.30 179.96L514.47 179.95L514.63 179.94L514.79 179.93L514.95 179.92L515.11 179.91L515.28 179.90L515.44 179.89L515.60 179.87L515.76 179.86L515.93 179.85L516.09 179.84L516.25 179.83L516.41 179.81L516.57 179.80L516.74 179.79L516.90 179.77L517.06 179.76L517.22 179.75L517.38 179.73L517.55 179.72L517.71 179.70L517.87 179.69L518.03 179.68L518.20 179.66L518.36 179.65L518.52 179.63L518.68 179.62L518.84 179.60L519.01 179.58L519.17 179.57L519.33 179.55L519.49 179.53L519.65 179.52L519.82 179.50L519.98 179.48L520.14 179.46L520.30 179.45L520.46 179.43L520.63 179.41L520.79 179.39L520.95 179.37L521.11 179.35L521.28 179.33L521.44 179.31L521.60 179.29L521.76 179.27L521.92 179.24L522.09 179.22L522.25 179.20L522.41 179.18L522.57 179.15L522.74 179.13L522.90 179.11L523.06 179.08L523.22 179.06L523.38 179.03L523.55 179.00L523.71 178.98L523.87 178.95L524.03 178.92L524.19 178.90L524.36 178.87L524.52 178.84L524.68 178.81L524.84 178.78L525.00 178.75L525.17 178.72L525.33 178.68L525.49 178.65L525.65 178.62L525.82 178.58L525.98 178.55L526.14 178.51L526.30 178.48L526.46 178.44L526.63 178.40L526.79 178.36L526.95 178.32L527.11 178.28L527.28 178.24L527.44 178.20L527.60 178.16L527.76 178.11L527.92 178.07L528.09 178.02L528.25 177.98L528.41 177.93L528.57 177.88L528.73 177.83L528.90 177.78L529.06 177.72L529.22 177.67L529.38 177.61L529.54 177.56L529.71 177.50L529.87 177.44L530.03 177.38L530.19 177.32L530.36 177.25L530.52 177.19L530.68 177.12L530.84 177.05L531.00 176.98L531.17 176.91L531.33 176.83L531.49 176.75L531.65 176.68L531.81 176.59L531.98 176.51L532.14 176.43L532.30 176.34L532.46 176.25L532.63 176.16L532.79 176.06L532.95 175.96L533.11 175.86L533.27 175.76L533.44 175.65L533.60 175.54L533.76 175.42L533.92 175.31L534.09 175.19L534.25 175.06L534.41 174.93L534.57 174.80L534.73 174.66L534.90 174.52L535.06 174.38L535.22 174.22L535.38 174.07L535.54 173.91L535.71 173.74L535.87 173.57L536.03 173.39L536.19 173.20L536.35 173.01L536.52 172.81L536.68 172.61L536.84 172.39L537.00 172.17L537.17 171.94L537.33 171.70L537.49 171.46L537.65 171.20L537.81 170.93L537.98 170.65L538.14 170.36L538.30 170.06L538.46 169.75L538.63 169.42L538.79 169.08L538.95 168.72L539.11 168.35L539.27 167.96L539.44 167.55L539.60 167.13L539.76 166.68L539.92 166.22L540.08 165.73L540.25 165.22L540.41 164.68L540.57 164.12L540.73 163.53L540.89 162.91L541.06 162.25L541.22 161.56L541.38 160.84L541.54 160.08L541.71 159.27L541.87 158.42L542.03 157.53L542.19 156.58L542.35 155.58L542.52 154.51L542.68 153.39L542.84 152.20L543.00 150.93L543.17 149.59L543.33 148.16L543.49 146.64L543.65 145.02L543.81 143.30L543.98 141.47L544.14 139.51L544.30 137.43L544.46 135.20L544.62 132.82L544.79 130.28L544.95 127.56L545.11 124.66L545.27 121.56L545.43 118.26L545.60 114.72L545.76 110.96L545.92 106.95L546.08 102.68L546.25 98.16L546.41 93.37L546.57 88.33L546.73 83.03L546.89 77.50L547.06 71.76L547.22 65.85L547.38 59.83L547.54 53.75L547.70 47.71L547.87 41.81L548.03 36.16L548.19 30.89L548.35 26.13L548.52 22.02L548.68 18.70L548.84 16.26L549.00 14.80L549.16 14.37L549.33 14.99L549.49 16.63L549.65 19.24L549.81 22.72L549.98 26.95L550.14 31.81L550.30 37.16L550.46 42.87L550.62 48.81L550.79 54.86L550.95 60.93L551.11 66.94L551.27 72.82L551.43 78.52L551.60 84.01L551.76 89.26L551.92 94.26L552.08 99.00L552.24 103.48L552.41 107.69L552.57 111.66L552.73 115.38L552.89 118.87L553.06 122.14L553.22 125.21L553.38 128.07L553.54 130.75L553.70 133.26L553.87 135.61L554.03 137.82L554.19 139.88L554.35 141.81L554.52 143.62L554.68 145.33L554.84 146.92L555.00 148.43L555.16 149.84L555.33 151.17L555.49 152.42L555.65 153.60L555.81 154.71L555.97 155.76L556.14 156.76L556.30 157.69L556.46 158.58L556.62 159.42L556.78 160.22L556.95 160.98L557.11 161.69L557.27 162.37L557.43 163.02L557.60 163.64L557.76 164.22L557.92 164.78L558.08 165.31L558.24 165.82L558.41 166.30L558.57 166.76L558.73 167.20L558.89 167.63L559.06 168.03L559.22 168.41L559.38 168.78L559.54 169.14L559.70 169.48L559.87 169.80L560.03 170.12L560.19 170.42L560.35 170.70L560.51 170.98L560.68 171.25L560.84 171.50L561.00 171.75L561.16 171.99L561.33 172.21L561.49 172.43L561.65 172.65L561.81 172.85L561.97 173.05L562.14 173.24L562.30 173.42L562.46 173.60L562.62 173.77L562.78 173.94L562.95 174.10L563.11 174.25L563.27 174.40L563.43 174.55L563.59 174.69L563.76 174.82L563.92 174.96L564.08 175.08L564.24 175.21L564.41 175.33L564.57 175.45L564.73 175.56L564.89 175.67L565.05 175.78L565.22 175.88L565.38 175.98L565.54 176.08L565.70 176.17L565.87 176.26L566.03 176.35L566.19 176.44L566.35 176.53L566.51 176.61L566.68 176.69L566.84 176.77L567.00 176.84L567.16 176.92L567.32 176.99L567.49 177.06L567.65 177.13L567.81 177.20L567.97 177.26L568.13 177.33L568.30 177.39L568.46 177.45L568.62 177.51L568.78 177.57L568.95 177.62L569.11 177.68L569.27 177.73L569.43 177.79L569.59 177.84L569.76 177.89L569.92 177.94L570.08 177.98L570.24 178.03L570.41 178.08L570.57 178.12L570.73 178.17L570.89 178.21L571.05 178.25L571.22 178.29L571.38 178.33L571.54 178.37L571.70 178.41L571.86 178.45L572.03 178.48L572.19 178.52L572.35 178.56L572.51 178.59L572.67 178.62L572.84 178.66L573.00 178.69L573.16 178.72L573.32 178.75L573.49 178.78L573.65 178.81L573.81 178.84L573.97 178.87L574.13 178.90L574.30 178.93L574.46 178.96L574.62 178.98L574.78 179.01L574.94 179.04L575.11 179.06L575.27 179.09L575.43 179.11L575.59 179.13L575.76 179.16L575.92 179.18L576.08 179.20L576.24 179.23L576.40 179.25L576.57 179.27L576.73 179.29L576.89 179.31L577.05 179.33L577.22 179.35L577.38 179.37L577.54 179.39L577.70 179.41L577.86 179.43L578.03 179.45L578.19 179.47L578.35 179.48L578.51 179.50L578.67 179.52L578.84 179.54L579.00 179.55L579.16 179.57L579.32 179.59L579.48 179.60L579.65 179.62L579.81 179.63L579.97 179.65L580.13 179.66L580.30 179.68L580.46 179.69L580.62 179.71L580.78 179.72L580.94 179.74L581.11 179.75L581.27 179.76L581.43 179.78L581.59 179.79L581.76 179.80L581.92 179.81L582.08 179.83L582.24 179.84L582.40 179.85L582.57 179.86L582.73 179.88L582.89 179.89L583.05 179.90L583.21 179.91L583.38 179.92L583.54 179.93L583.70 179.94L583.86 179.95L584.02 179.96L584.19 179.97L584.35 179.99L584.51 180.00L584.67 180.01L584.84 180.02L585.00 180.03L585.16 180.03L585.32 180.04L585.48 180.05L585.65 180.06L585.81 180.07L585.97 180.08L586.13 180.09L586.30 180.10L586.46 180.11L586.62 180.12L586.78 180.12L586.94 180.13L587.11 180.14L587.27 180.15L587.43 180.16L587.59 180.16L587.75 180.17L587.92 180.18L588.08 180.19L588.24 180.20L588.40 180.20L588.57 180.21L588.73 180.22L588.89 180.22L589.05 180.23L589.21 180.24L589.38 180.25L589.54 180.25L589.70 180.26L589.86 180.27L590.02 180.27L590.19 180.28L590.35 180.29L590.51 180.29L590.67 180.30L590.83 180.30L591.00 180.31L591.16 180.32L591.32 180.32L591.48 180.33L591.65 180.33L591.81 180.34L591.97 180.35L592.13 180.35L592.29 180.36L592.46 180.36L592.62 180.37L592.78 180.37L592.94 180.38L593.11 180.38L593.27 180.39L593.43 180.39L593.59 180.40L593.75 180.40L593.92 180.41L594.08 180.41L594.24 180.42L594.40 180.42L594.56 180.43L594.73 180.43L594.89 180.44L595.05 180.44L595.21 180.45L595.37 180.45L595.54 180.46L595.70 180.46L595.86 180.47L596.02 180.47L596.19 180.47L596.35 180.48L596.51 180.48L596.67 180.49L596.83 180.49L597.00 180.50L597.16 180.50L597.32 180.50L597.48 180.51L597.65 180.51L597.81 180.52L597.97 180.52L598.13 180.52L598.29 180.53L598.46 180.53L598.62 180.53L598.78 180.54L598.94 180.54L599.10 180.55L599.27 180.55L599.43 180.55L599.59 180.56L599.75 180.56L599.91 180.56L600.08 180.57L600.24 180.57L600.40 180.57L600.56 180.58L600.73 180.58L600.89 180.58L601.05 180.59L601.21 180.59L601.37 180.59L601.54 180.60L601.70 180.60L601.86 180.60L602.02 180.60L602.19 180.61L602.35 180.61L602.51 180.61L602.67 180.62L602.83 180.62L603.00 180.62L603.16 180.63L603.32 180.63L603.48 180.63L603.64 180.63L603.81 180.64L603.97 180.64L604.13 180.64L604.29 180.64L604.46 180.65L604.62 180.65L604.78 180.65L604.94 180.66L605.10 180.66L605.27 180.66L605.43 180.66L605.59 180.67L605.75 180.67L605.91 180.67L606.08 180.67L606.24 180.68L606.40 180.68L606.56 180.68L606.72 180.68L606.89 180.68L607.05 180.69L607.21 180.69L607.37 180.69L607.54 180.69L607.70 180.70L607.86 180.70L608.02 180.70L608.18 180.70L608.35 180.70L608.51 180.71L608.67 180.71L608.83 180.71L609.00 180.71L609.16 180.72L609.32 180.72L609.48 180.72L609.64 180.72L609.81 180.72L609.97 180.73L610.13 180.73L610.29 180.73L610.45 180.73L610.62 180.73L610.78 180.74L610.94 180.74L611.10 180.74L611.26 180.74L611.43 180.74L611.59 180.74L611.75 180.75L611.91 180.75L612.08 180.75L612.24 180.75L612.40 180.75L612.56 180.76L612.72 180.76L612.89 180.76L613.05 180.76L613.21 180.76L613.37 180.76L613.54 180.77L613.70 180.77L613.86 180.77L614.02 180.77L614.18 180.77L614.35 180.77L614.51 180.78L614.67 180.78L614.83 180.78L614.99 180.78L615.16 180.78L615.32 180.78L615.48 180.79L615.64 180.79L615.80 180.79L615.97 180.79L616.13 180.79L616.29 180.79L616.45 180.79L616.62 180.80L616.78 180.80L616.94 180.80L617.10 180.80L617.26 180.80L617.43 180.80L617.59 180.80L617.75 180.81L617.91 180.81L618.07 180.81L618.24 180.81L618.40 180.81L618.56 180.81L618.72 180.81L618.89 180.82L619.05 180.82L619.21 180.82L619.37 180.82L619.53 180.82L619.70 180.82L619.86 180.82L620.02 180.82L620.18 180.83L620.35 180.83L620.51 180.83L620.67 180.83L620.83 180.83L620.99 180.83L621.16 180.83L621.32 180.83L621.48 180.84L621.64 180.84L621.80 180.84L621.97 180.84L622.13 180.84L622.29 180.84L622.45 180.84L622.61 180.84L622.78 180.84L622.94 180.85L623.10 180.85L623.26 180.85L623.43 180.85L623.59 180.85L623.75 180.85L623.91 180.85L624.07 180.85L624.24 180.85L624.40 180.86L624.56 180.86L624.72 180.86L624.89 180.86L625.05 180.86L625.21 180.86L625.37 180.86L625.53 180.86L625.70 180.86L625.86 180.86L626.02 180.87L626.18 180.87L626.34 180.87L626.51 180.87L626.67 180.87L626.83 180.87L626.99 180.87L627.15 180.87L627.32 180.87L627.48 180.87L627.64 180.88L627.80 180.88L627.97 180.88L628.13 180.88L628.29 180.88L628.45 180.88L628.61 180.88L628.78 180.88L628.94 180.88L629.10 180.88L629.26 180.88L629.43 180.89L629.59 180.89L629.75 180.89L629.91 180.89L630.07 180.89L630.24 180.89L630.40 180.89L630.56 180.89L630.72 180.89L630.88 180.89L631.05 180.89L631.21 180.89L631.37 180.90L631.53 180.90L631.70 180.90L631.86 180.90L632.02 180.90L632.18 180.90L632.34 180.90L632.51 180.90L632.67 180.90L632.83 180.90L632.99 180.90L633.15 180.90L633.32 180.90L633.48 180.91L633.64 180.91L633.80 180.91L633.96 180.91L634.13 180.91L634.29 180.91L634.45 180.91L634.61 180.91L634.78 180.91L634.94 180.91L635.10 180.91L635.26 180.91L635.42 180.91L635.59 180.91L635.75 180.92L635.91 180.92L636.07 180.92L636.24 180.92L636.40 180.92L636.56 180.92L636.72 180.92L636.88 180.92L637.05 180.92L637.21 180.92L637.37 180.92L637.53 180.92L637.69 180.92L637.86 180.92L638.02 180.92L638.18 180.93L638.34 180.93L638.50 180.93L638.67 180.93L638.83 180.93L638.99 180.93L639.15 180.93L639.32 180.93L639.48 180.93L639.64 180.93L639.80 180.93L639.96 180.93L640.13 180.93L640.29 180.93L640.45 180.93L640.61 180.93L640.78 180.94L640.94 180.94L641.10 180.94L641.26 180.94L641.42 180.94L641.59 180.94L641.75 180.94L641.91 180.94L642.07 180.94L642.23 180.94L642.40 180.94L642.56 180.94L642.72 180.94L642.88 180.94L643.04 180.94L643.21 180.94L643.37 180.94L643.53 180.94L643.69 180.95L643.86 180.95L644.02 180.95L644.18 180.95L644.34 180.95L644.50 180.95L644.67 180.95L644.83 180.95L644.99 180.95L645.15 180.95L645.31 180.95L645.48 180.95L645.64 180.95L645.80 180.95L645.96 180.95L646.13 180.95L646.29 180.95L646.45 180.95L646.61 180.95L646.77 180.96L646.94 180.96L647.10 180.96L647.26 180.96L647.42 180.96L647.59 180.96L647.75 180.96L647.91 180.96L648.07 180.96L648.23 180.96L648.40 180.96L648.56 180.96L648.72 180.96L648.88 180.96L649.04 180.96L649.21 180.96L649.37 180.96L649.53 180.96L649.69 180.96L649.85 180.96L650.02 180.96L650.18 180.96L650.34 180.97L650.50 180.97L650.67 180.97L650.83 180.97L650.99 180.97L651.15 180.97L651.31 180.97L651.48 180.97L651.64 180.97L651.80 180.97L651.96 180.97L652.13 180.97L652.29 180.97L652.45 180.97L652.61 180.97L652.77 180.97L652.94 180.97L653.10 180.97L653.26 180.97L653.42 180.97L653.58 180.97L653.75 180.97L653.91 180.97L654.07 180.97L654.23 180.98L654.39 180.98L654.56 180.98L654.72 180.98L654.88 180.98L655.04 180.98L655.21 180.98L655.37 180.98L655.53 180.98L655.69 180.98L655.85 180.98L656.02 180.98L656.18 180.98L656.34 180.98L656.50 180.98L656.67 180.98L656.83 180.98L656.99 180.98L657.15 180.98L657.31 180.98L657.48 180.98L657.64 180.98L657.80 180.98L657.96 180.98L658.12 180.98L658.29 180.98L658.45 180.98L658.61 180.98L658.77 180.99L658.93 180.99L659.10 180.99L659.26 180.99L659.42 180.99L659.58 180.99L659.75 180.99L659.91 180.99L660.07 180.99L660.23 180.99L660.39 180.99L660.56 180.99L660.72 180.99L660.88 180.99L661.04 180.99L661.20 180.99L661.37 180.99L661.53 180.99L661.69 180.99L661.85 180.99L662.02 180.99L662.18 180.99L662.34 180.99L662.50 180.99L662.66 180.99L662.83 180.99L662.99 180.99L663.15 180.99L663.31 180.99L663.48 180.99L663.64 180.99L663.80 181.00L663.96 181.00L664.12 181.00L664.29 181.00L664.45 181.00L664.61 181.00L664.77 181.00L664.93 181.00L665.10 181.00L665.26 181.00L665.42 181.00L665.58 181.00L665.74 181.00L665.91 181.00L666.07 181.00L666.23 181.00L666.39 181.00L666.56 181.00L666.72 181.00L666.88 181.00L667.04 181.00L667.20 181.00L667.37 181.00L667.53 181.00L667.69 181.00L667.85 181.00L668.02 181.00L668.18 181.00L668.34 181.00L668.50 181.00L668.66 181.00L668.83 181.00L668.99 181.00L669.15 181.00L669.31 181.00L669.47 181.00L669.64 181.01L669.80 181.01L669.96 181.01L670.12 181.01L670.28 181.01L670.45 181.01L670.61 181.01L670.77 181.01L670.93 181.01L671.10 181.01L671.26 181.01L671.42 181.01L671.58 181.01L671.74 181.01L671.91 181.01L672.07 181.01L672.23 181.01L672.39 181.01L672.56 181.01L672.72 181.01L672.88 181.01L673.04 181.01L673.20 181.01L673.37 181.01L673.53 181.01L673.69 181.01L673.85 181.01L674.01 181.01L674.18 181.01L674.34 181.01L674.50 181.01L674.66 181.01L674.83 181.01L674.99 181.01L675.15 181.01L675.31 181.01L675.47 181.01L675.64 181.01L675.80 181.01L675.96 181.01L676.12 181.01L676.28 181.01L676.45 181.02L676.61 181.02L676.77 181.02L676.93 181.02L677.09 181.02L677.26 181.02L677.42 181.02L677.58 181.02L677.74 181.02L677.91 181.02L678.07 181.02L678.23 181.02L678.39 181.02L678.55 181.02L678.72 181.02L678.88 181.02L679.04 181.02L679.20 181.02L679.37 181.02L679.53 181.02L679.69 181.02L679.85 181.02L680.01 181.02L680.18 181.02L680.34 181.02L680.50 181.02" fill="none" stroke="#0000ff" stroke-width="2.2" stroke-linejoin="round"/></g><rect x="453.5" y="7.8" width="227.0" height="178.5" fill="none" stroke="#000" stroke-width="2.4"/><path d="M453.5 181.7H458.5" stroke="#000" stroke-width="1.6"/><text x="449.5" y="185.3" font-size="10" font-weight="bold" fill="#111" text-anchor="end">0</text><path d="M453.5 169.2H457" stroke="#000" stroke-width="1.6"/><path d="M453.5 156.7H458.5" stroke="#000" stroke-width="1.6"/><text x="449.5" y="160.3" font-size="10" font-weight="bold" fill="#111" text-anchor="end">50</text><path d="M453.5 144.3H457" stroke="#000" stroke-width="1.6"/><path d="M453.5 131.8H458.5" stroke="#000" stroke-width="1.6"/><text x="449.5" y="135.4" font-size="10" font-weight="bold" fill="#111" text-anchor="end">100</text><path d="M453.5 119.3H457" stroke="#000" stroke-width="1.6"/><path d="M453.5 106.8H458.5" stroke="#000" stroke-width="1.6"/><text x="449.5" y="110.4" font-size="10" font-weight="bold" fill="#111" text-anchor="end">150</text><path d="M453.5 94.3H457" stroke="#000" stroke-width="1.6"/><path d="M453.5 81.9H458.5" stroke="#000" stroke-width="1.6"/><text x="449.5" y="85.5" font-size="10" font-weight="bold" fill="#111" text-anchor="end">200</text><path d="M453.5 69.4H457" stroke="#000" stroke-width="1.6"/><path d="M453.5 56.9H458.5" stroke="#000" stroke-width="1.6"/><text x="449.5" y="60.5" font-size="10" font-weight="bold" fill="#111" text-anchor="end">250</text><path d="M453.5 44.4H457" stroke="#000" stroke-width="1.6"/><path d="M453.5 31.9H458.5" stroke="#000" stroke-width="1.6"/><text x="449.5" y="35.5" font-size="10" font-weight="bold" fill="#111" text-anchor="end">300</text><path d="M453.5 19.5H457" stroke="#000" stroke-width="1.6"/><path d="M453.5 7H458.5" stroke="#000" stroke-width="1.6"/><text x="449.5" y="10.6" font-size="10" font-weight="bold" fill="#111" text-anchor="end">350</text><path d="M453.5 186.3V181.3" stroke="#000" stroke-width="1.6"/><text x="453.5" y="198.9" font-size="10" font-weight="bold" fill="#111" text-anchor="middle">599.94</text><path d="M474.1 186.3V182.8" stroke="#000" stroke-width="1.6"/><path d="M494.8 186.3V181.3" stroke="#000" stroke-width="1.6"/><text x="494.8" y="198.9" font-size="10" font-weight="bold" fill="#111" text-anchor="middle">599.96</text><path d="M515.4 186.3V182.8" stroke="#000" stroke-width="1.6"/><path d="M536 186.3V181.3" stroke="#000" stroke-width="1.6"/><text x="536" y="198.9" font-size="10" font-weight="bold" fill="#111" text-anchor="middle">599.98</text><path d="M556.7 186.3V182.8" stroke="#000" stroke-width="1.6"/><path d="M577.3 186.3V181.3" stroke="#000" stroke-width="1.6"/><text x="577.3" y="198.9" font-size="10" font-weight="bold" fill="#111" text-anchor="middle">600.00</text><path d="M598 186.3V182.8" stroke="#000" stroke-width="1.6"/><path d="M618.6 186.3V181.3" stroke="#000" stroke-width="1.6"/><text x="618.6" y="198.9" font-size="10" font-weight="bold" fill="#111" text-anchor="middle">600.02</text><path d="M639.2 186.3V182.8" stroke="#000" stroke-width="1.6"/><path d="M659.9 186.3V181.3" stroke="#000" stroke-width="1.6"/><text x="659.9" y="198.9" font-size="10" font-weight="bold" fill="#111" text-anchor="middle">600.04</text><path d="M680.5 186.3V182.8" stroke="#000" stroke-width="1.6"/><text x="567.3" y="216.4" font-size="8.8" font-weight="bold" fill="#333" text-anchor="middle">Frequency (THz)</text><text transform="translate(416.8 100) rotate(-90)" font-size="9.4" font-weight="bold" fill="#333" text-anchor="middle">Power Ratio (P<tspan font-size="6.3" dy="2">rad</tspan><tspan dy="-2">/P</tspan><tspan font-size="6.3" dy="2">inp</tspan><tspan dy="-2">)</tspan></text><text x="0" y="0" font-size="20.00" font-weight="bold" fill="#111" transform="translate(465.80 31.50) scale(0.812 1)">(b)</text><rect x="570" y="8.6" width="109" height="37" fill="#fff" stroke="#777" stroke-width="0.7"/><path d="M571.3 13.1H590.7" stroke="#000" stroke-width="2.2"/><path d="M571.3 25.2H590.7" stroke="#ff0000" stroke-width="2.2"/><path d="M571.3 38.9H590.7" stroke="#0000ff" stroke-width="2.2"/><text x="592.5" y="15.7" font-size="7.7" font-weight="bold" fill="#111">EHD at G</text><text x="592.5" y="27.8" font-size="7.7" font-weight="bold" fill="#111">EHD at D ((P<tspan font-size="5" dy="1.6">rad</tspan><tspan dy="-1.6">/P</tspan><tspan font-size="5" dy="1.6">inp</tspan><tspan dy="-1.6">).10</tspan><tspan font-size="4.2" dy="-3">2</tspan><tspan dy="3">)</tspan></text><text x="592.5" y="41.5" font-size="7.7" font-weight="bold" fill="#111">EHD at F ((P<tspan font-size="5" dy="1.6">rad</tspan><tspan dy="-1.6">/P</tspan><tspan font-size="5" dy="1.6">inp</tspan><tspan dy="-1.6">).10</tspan><tspan font-size="4.2" dy="-3">3</tspan><tspan dy="3">)</tspan></text><circle cx="622.2" cy="88.5" r="41.3" fill="url(#sph)"/><circle cx="572.5" cy="89.3" r="6.3" fill="url(#sm)" stroke="#8fd6d6" stroke-width="1.6"/><circle cx="671" cy="89.3" r="6.3" fill="url(#sm)" stroke="#8fd6d6" stroke-width="1.6"/><path d="M617 89.3H625" stroke="#961a24" stroke-width="2.2"/><path d="M628 89.3L624.2 87V91.6Z" fill="#961a24"/><path d="M617 109.8H625" stroke="#961a24" stroke-width="2.2"/><path d="M628 109.8L624.2 107.5V112.1Z" fill="#961a24"/><path d="M617 130.4H625" stroke="#961a24" stroke-width="2.2"/><path d="M628 130.4L624.2 128.1V132.7Z" fill="#961a24"/><path d="M617 151.7H625" stroke="#961a24" stroke-width="2.2"/><path d="M628 151.7L624.2 149.4V154Z" fill="#961a24"/><path d="M567.8 97.6H575.5" stroke="#961a24" stroke-width="2.2"/><path d="M578.5 97.6L574.7 95.3V99.9Z" fill="#961a24"/><path d="M567.8 130.4H575.5" stroke="#961a24" stroke-width="2.2"/><path d="M578.5 130.4L574.7 128.1V132.7Z" fill="#961a24"/><text x="632.5" y="113" font-size="9" font-weight="bold" fill="#111">C</text><text x="632.5" y="133.7" font-size="9" font-weight="bold" fill="#111">D</text><text x="632.5" y="155" font-size="9" font-weight="bold" fill="#111">E</text><text x="580.3" y="101" font-size="9" font-weight="bold" fill="#111">F</text><text x="582.5" y="133.7" font-size="9" font-weight="bold" fill="#111">G</text><rect x="630.7" y="233.6" width="54.3" height="214.4" fill="#f0f0f0"/><linearGradient id="lobeG" gradientUnits="userSpaceOnUse" x1="418" y1="0" x2="509" y2="0"><stop offset="0" stop-color="#bcae3c"/><stop offset="0.13" stop-color="#b4bc40"/><stop offset="0.3" stop-color="#a4c440"/><stop offset="0.42" stop-color="#84cc42"/><stop offset="0.52" stop-color="#62d048"/><stop offset="0.7" stop-color="#4ccc50"/><stop offset="1" stop-color="#40c458"/></linearGradient><radialGradient id="cornG"><stop offset="0" stop-color="#c44828" stop-opacity="1"/><stop offset="0.4" stop-color="#c86430" stop-opacity="0.85"/><stop offset="0.75" stop-color="#d09c38" stop-opacity="0.45"/><stop offset="1" stop-color="#d0c040" stop-opacity="0"/></radialGradient><clipPath id="lobeClip"><path d="M509.6 290.6 C504 281 494 269.5 478.4 269.5 A89.5 89.5 0 0 0 478.4 436.9 C494 436.9 504 425 509.6 415.8 Z"/><path d="M509.6 290.6 C504 281 494 269.5 478.4 269.5 A89.5 89.5 0 0 0 478.4 436.9 C494 436.9 504 425 509.6 415.8 Z" transform="translate(1018 0) scale(-1 1)"/></clipPath><path d="M509.6 290.6 C504 281 494 269.5 478.4 269.5 A89.5 89.5 0 0 0 478.4 436.9 C494 436.9 504 425 509.6 415.8 Z" fill="url(#lobeG)"/><path d="M509.6 290.6 C504 281 494 269.5 478.4 269.5 A89.5 89.5 0 0 0 478.4 436.9 C494 436.9 504 425 509.6 415.8 Z" fill="url(#lobeG)" transform="translate(1018 0) scale(-1 1)"/><path d="M501 289.5 L518.2 289.5 L509.6 318Z M501 416.9 L518.2 416.9 L509.6 388.4Z" fill="#3cc49c"/><g clip-path="url(#lobeClip)"><ellipse cx="449" cy="287" rx="42" ry="22" fill="url(#cornG)" transform="rotate(-45 449 287)"/><ellipse cx="449" cy="419" rx="42" ry="22" fill="url(#cornG)" transform="rotate(45 449 419)"/><ellipse cx="570" cy="287" rx="42" ry="22" fill="url(#cornG)" transform="rotate(45 570 287)"/><ellipse cx="570" cy="419" rx="42" ry="22" fill="url(#cornG)" transform="rotate(-45 570 419)"/></g><circle cx="509.0" cy="353.2" r="92.5" fill="none" stroke="#4040d0" stroke-width="1.5"/><path d="M509.3 353H619" stroke="#e02020" stroke-width="1.6"/><path d="M628.8 353.1L619.5 349V357.2Z" fill="#e02020"/><path d="M509.4 353V241" stroke="#22bb22" stroke-width="1.4"/><path d="M509.4 232.9L506.6 241.7H512.2Z" fill="#22bb22"/><ellipse cx="509" cy="352.8" rx="92" ry="5.5" fill="none" stroke="#22c022" stroke-width="1.4"/><circle cx="509.7" cy="353.2" r="41.3" fill="url(#gs)"/><path d="M468.5 353.4H550.5" stroke="#2a7a30" stroke-width="1"/><path d="M468.8 357.4A92 5.5 0 0 0 550.6 357.4" fill="none" stroke="#22c022" stroke-width="1.4"/><ellipse cx="508.8" cy="353.2" rx="7.7" ry="92.8" fill="none" stroke="#cc2020" stroke-width="1.3"/><radialGradient id="ss" cx="0.4" cy="0.4" r="0.6"><stop offset="0" stop-color="#70e0a0"/><stop offset="0.6" stop-color="#40c070"/><stop offset="1" stop-color="#2a9050"/></radialGradient><circle cx="459.8" cy="352.4" r="7.2" fill="url(#ss)" stroke="#2a7a40" stroke-width="0.6"/><circle cx="558.5" cy="352.4" r="7.4" fill="url(#ss)" opacity="0.85"/><path d="M455.5 347.5L462.5 352.5L455.5 357.5Z" fill="#8a5a1a"/><circle cx="499.5" cy="360.3" r="2.1" fill="#2020d0"/><path d="M500 360.3H520" stroke="#777" stroke-width="1.2"/><path d="M526.5 360.3L519.5 357.6V363Z" fill="#777"/><path d="M500 360L505 356" stroke="#2040d0" stroke-width="0.8"/><text x="529.2" y="361" font-size="5.6" class="mono" fill="#333">Theta</text><path d="M611.3 352 Q610.5 340 609.5 333" stroke="#777" stroke-width="1.2" fill="none"/><path d="M609 328.6L606.6 335H611.8Z" fill="#777"/><text x="603.2" y="328.8" font-size="13.2" font-weight="bold" fill="#111">Phi</text><text x="617.9" y="371.4" font-size="10.5" font-weight="bold" fill="#111">X</text><text x="517.6" y="249" font-size="13" font-weight="bold" fill="#111">Y</text><text x="0" y="0" font-size="19.46" font-weight="bold" fill="#111" transform="translate(413.70 257.41) scale(0.895 1)">(d)</text><rect x="670" y="237.4" width="14" height="202.2" fill="url(#cbD)"/><path d="M669.5 237.4V439.6" stroke="#222" stroke-width="1"/><path d="M667.5 237.4H670" stroke="#444" stroke-width="1"/><text x="662" y="241.1" font-size="10.3" fill="#555" text-anchor="end" class="mono">2.65</text><path d="M667.5 250H670" stroke="#444" stroke-width="1"/><text x="662" y="253.7" font-size="10.3" fill="#555" text-anchor="end" class="mono">2.32</text><path d="M667.5 262.7H670" stroke="#444" stroke-width="1"/><text x="662" y="266.4" font-size="10.3" fill="#555" text-anchor="end" class="mono">1.99</text><path d="M667.5 275.3H670" stroke="#444" stroke-width="1"/><text x="662" y="279" font-size="10.3" fill="#555" text-anchor="end" class="mono">1.66</text><path d="M667.5 287.9H670" stroke="#444" stroke-width="1"/><text x="662" y="291.7" font-size="10.3" fill="#555" text-anchor="end" class="mono">1.32</text><path d="M667.5 300.6H670" stroke="#444" stroke-width="1"/><text x="662" y="304.3" font-size="10.3" fill="#555" text-anchor="end" class="mono">0.993</text><path d="M667.5 313.2H670" stroke="#444" stroke-width="1"/><text x="662" y="316.9" font-size="10.3" fill="#555" text-anchor="end" class="mono">0.662</text><path d="M667.5 325.9H670" stroke="#444" stroke-width="1"/><text x="662" y="329.6" font-size="10.3" fill="#555" text-anchor="end" class="mono">0.331</text><path d="M667.5 338.5H670" stroke="#444" stroke-width="1"/><text x="662" y="342.2" font-size="10.3" fill="#555" text-anchor="end" class="mono">0</text><path d="M667.5 351.1H670" stroke="#444" stroke-width="1"/><text x="662" y="354.8" font-size="10.3" fill="#555" text-anchor="end" class="mono">-4.67</text><path d="M667.5 363.8H670" stroke="#444" stroke-width="1"/><text x="662" y="367.5" font-size="10.3" fill="#555" text-anchor="end" class="mono">-9.34</text><path d="M667.5 376.4H670" stroke="#444" stroke-width="1"/><text x="662" y="380.1" font-size="10.3" fill="#555" text-anchor="end" class="mono">-14</text><path d="M667.5 389.1H670" stroke="#444" stroke-width="1"/><text x="662" y="392.8" font-size="10.3" fill="#555" text-anchor="end" class="mono">-18.7</text><path d="M667.5 401.7H670" stroke="#444" stroke-width="1"/><text x="662" y="405.4" font-size="10.3" fill="#555" text-anchor="end" class="mono">-23.3</text><path d="M667.5 414.3H670" stroke="#444" stroke-width="1"/><text x="662" y="418" font-size="10.3" fill="#555" text-anchor="end" class="mono">-28</text><path d="M667.5 427H670" stroke="#444" stroke-width="1"/><text x="662" y="430.7" font-size="10.3" fill="#555" text-anchor="end" class="mono">-32.7</text><path d="M667.5 439.6H670" stroke="#444" stroke-width="1"/><text x="662" y="443.3" font-size="10.3" fill="#555" text-anchor="end" class="mono">-37.4</text><text transform="translate(679 340.5) rotate(-90)" font-size="9.4" font-weight="bold" fill="#111" text-anchor="middle">dBi</text></svg></body></html>
